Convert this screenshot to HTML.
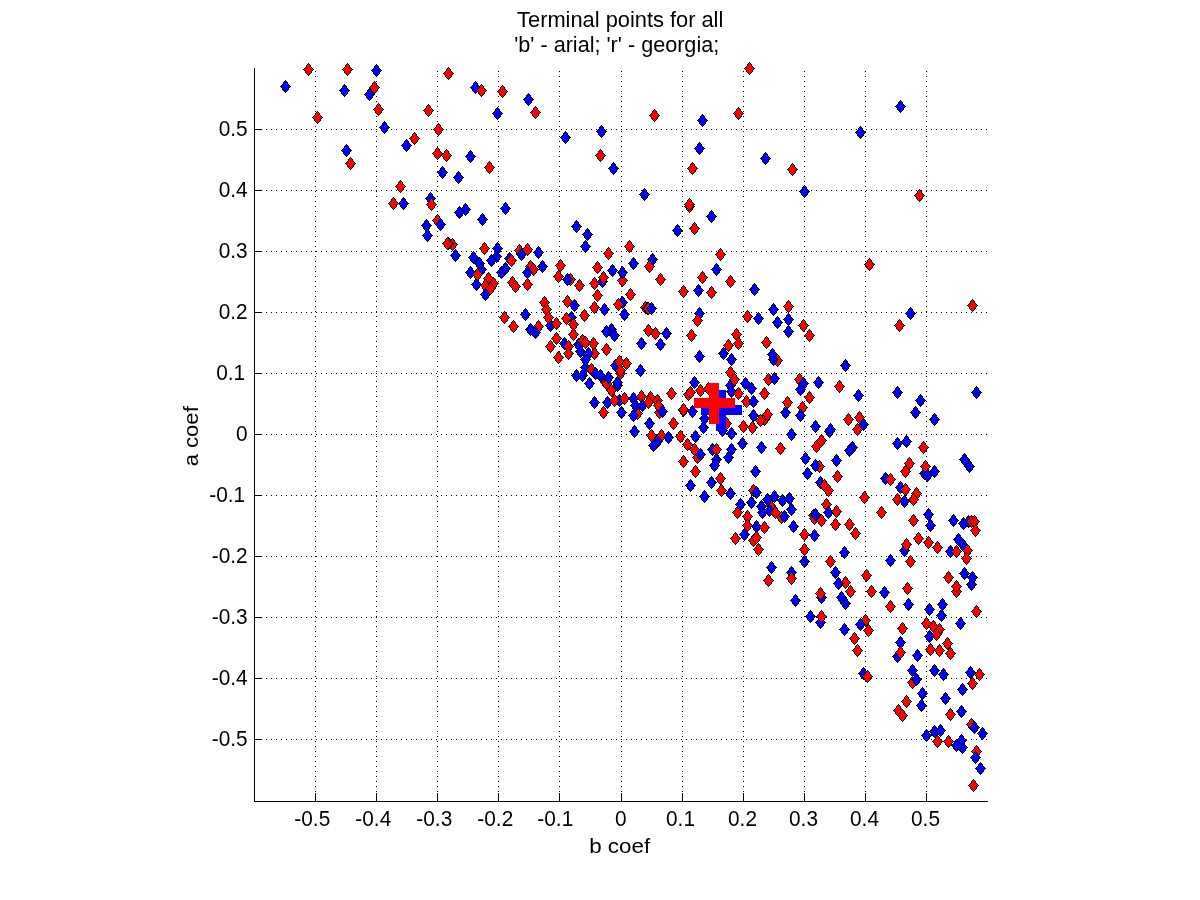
<!DOCTYPE html>
<html lang="en"><head><meta charset="utf-8"><title>Terminal points for all</title>
<style>
html,body{margin:0;padding:0;background:#fff;}
body{width:1200px;height:900px;overflow:hidden;}
svg{display:block;}
text{font-family:"Liberation Sans",Arial,Helvetica,sans-serif;font-size:20.83px;fill:#000;}
.g{stroke:#000;stroke-width:1;stroke-dasharray:1 4;fill:none;}
.a{stroke:#000;stroke-width:1;fill:none;}
.r{fill:#f00;}
.b{fill:#00f;}
</style></head><body>
<svg width="1200" height="900" viewBox="0 0 1200 900">
<rect width="1200" height="900" fill="#fff"/>
<g shape-rendering="crispEdges">
<line class="g" x1="315.5" y1="71" x2="315.5" y2="801"/>
<line class="g" x1="376.5" y1="71" x2="376.5" y2="801"/>
<line class="g" x1="437.5" y1="71" x2="437.5" y2="801"/>
<line class="g" x1="498.5" y1="71" x2="498.5" y2="801"/>
<line class="g" x1="559.5" y1="71" x2="559.5" y2="801"/>
<line class="g" x1="621.5" y1="71" x2="621.5" y2="801"/>
<line class="g" x1="682.5" y1="71" x2="682.5" y2="801"/>
<line class="g" x1="743.5" y1="71" x2="743.5" y2="801"/>
<line class="g" x1="804.5" y1="71" x2="804.5" y2="801"/>
<line class="g" x1="865.5" y1="71" x2="865.5" y2="801"/>
<line class="g" x1="926.5" y1="71" x2="926.5" y2="801"/>
<line class="g" x1="256" y1="739.5" x2="988" y2="739.5"/>
<line class="g" x1="256" y1="678.5" x2="988" y2="678.5"/>
<line class="g" x1="256" y1="617.5" x2="988" y2="617.5"/>
<line class="g" x1="256" y1="556.5" x2="988" y2="556.5"/>
<line class="g" x1="256" y1="495.5" x2="988" y2="495.5"/>
<line class="g" x1="256" y1="434.5" x2="988" y2="434.5"/>
<line class="g" x1="256" y1="373.5" x2="988" y2="373.5"/>
<line class="g" x1="256" y1="312.5" x2="988" y2="312.5"/>
<line class="g" x1="256" y1="251.5" x2="988" y2="251.5"/>
<line class="g" x1="256" y1="190.5" x2="988" y2="190.5"/>
<line class="g" x1="256" y1="129.5" x2="988" y2="129.5"/>
</g>
<g shape-rendering="crispEdges">
<path d="M369 88h1v1h1v1h1v2h1v1h1v1h1v1h-1v1h-1v2h-1v1h-1v1h-1v1h-1v-1h-1v-1h-1v-1h-1v-2h-1v-1h-1v-1h1v-1h1v-1h1v-2h1v-1h1v-1z"/><path class="b" d="M369 89h1v1h1v2h1v1h1v1h1v1h-1v1h-1v2h-1v1h-1v1h-1v-1h-1v-1h-1v-2h-1v-1h-1v-1h1v-1h1v-1h1v-2h1v-1z"/>
<path d="M430 192h1v1h1v1h1v2h1v1h1v1h1v1h-1v1h-1v2h-1v1h-1v1h-1v1h-1v-1h-1v-1h-1v-1h-1v-2h-1v-1h-1v-1h1v-1h1v-1h1v-2h1v-1h1v-1z"/><path class="b" d="M430 193h1v1h1v2h1v1h1v1h1v1h-1v1h-1v2h-1v1h-1v1h-1v-1h-1v-1h-1v-2h-1v-1h-1v-1h1v-1h1v-1h1v-2h1v-1z"/>
<path d="M475 81h1v1h1v1h1v2h1v1h1v1h1v1h-1v1h-1v2h-1v1h-1v1h-1v1h-1v-1h-1v-1h-1v-1h-1v-2h-1v-1h-1v-1h1v-1h1v-1h1v-2h1v-1h1v-1z"/><path class="b" d="M475 82h1v1h1v2h1v1h1v1h1v1h-1v1h-1v2h-1v1h-1v1h-1v-1h-1v-1h-1v-2h-1v-1h-1v-1h1v-1h1v-1h1v-2h1v-1z"/>
<path d="M437 214h1v1h1v1h1v2h1v1h1v1h1v1h-1v1h-1v2h-1v1h-1v1h-1v1h-1v-1h-1v-1h-1v-1h-1v-2h-1v-1h-1v-1h1v-1h1v-1h1v-2h1v-1h1v-1z"/><path class="r" d="M437 215h1v1h1v2h1v1h1v1h1v1h-1v1h-1v2h-1v1h-1v1h-1v-1h-1v-1h-1v-2h-1v-1h-1v-1h1v-1h1v-1h1v-2h1v-1z"/>
<path d="M465 203h1v1h1v1h1v2h1v1h1v1h1v1h-1v1h-1v2h-1v1h-1v1h-1v1h-1v-1h-1v-1h-1v-1h-1v-2h-1v-1h-1v-1h1v-1h1v-1h1v-2h1v-1h1v-1z"/><path class="b" d="M465 204h1v1h1v2h1v1h1v1h1v1h-1v1h-1v2h-1v1h-1v1h-1v-1h-1v-1h-1v-2h-1v-1h-1v-1h1v-1h1v-1h1v-2h1v-1z"/>
<path d="M452 238h1v1h1v1h1v2h1v1h1v1h1v1h-1v1h-1v2h-1v1h-1v1h-1v1h-1v-1h-1v-1h-1v-1h-1v-2h-1v-1h-1v-1h1v-1h1v-1h1v-2h1v-1h1v-1z"/><path class="r" d="M452 239h1v1h1v2h1v1h1v1h1v1h-1v1h-1v2h-1v1h-1v1h-1v-1h-1v-1h-1v-2h-1v-1h-1v-1h1v-1h1v-1h1v-2h1v-1z"/>
<path d="M448 237h1v1h1v1h1v2h1v1h1v1h1v1h-1v1h-1v2h-1v1h-1v1h-1v1h-1v-1h-1v-1h-1v-1h-1v-2h-1v-1h-1v-1h1v-1h1v-1h1v-2h1v-1h1v-1z"/><path class="r" d="M448 238h1v1h1v2h1v1h1v1h1v1h-1v1h-1v2h-1v1h-1v1h-1v-1h-1v-1h-1v-2h-1v-1h-1v-1h1v-1h1v-1h1v-2h1v-1z"/>
<path d="M497 242h1v1h1v1h1v2h1v1h1v1h1v1h-1v1h-1v2h-1v1h-1v1h-1v1h-1v-1h-1v-1h-1v-1h-1v-2h-1v-1h-1v-1h1v-1h1v-1h1v-2h1v-1h1v-1z"/><path class="b" d="M497 243h1v1h1v2h1v1h1v1h1v1h-1v1h-1v2h-1v1h-1v1h-1v-1h-1v-1h-1v-2h-1v-1h-1v-1h1v-1h1v-1h1v-2h1v-1z"/>
<path d="M509 252h1v1h1v1h1v2h1v1h1v1h1v1h-1v1h-1v2h-1v1h-1v1h-1v1h-1v-1h-1v-1h-1v-1h-1v-2h-1v-1h-1v-1h1v-1h1v-1h1v-2h1v-1h1v-1z"/><path class="b" d="M509 253h1v1h1v2h1v1h1v1h1v1h-1v1h-1v2h-1v1h-1v1h-1v-1h-1v-1h-1v-2h-1v-1h-1v-1h1v-1h1v-1h1v-2h1v-1z"/>
<path d="M519 244h1v1h1v1h1v2h1v1h1v1h1v1h-1v1h-1v2h-1v1h-1v1h-1v1h-1v-1h-1v-1h-1v-1h-1v-2h-1v-1h-1v-1h1v-1h1v-1h1v-2h1v-1h1v-1z"/><path class="r" d="M519 245h1v1h1v2h1v1h1v1h1v1h-1v1h-1v2h-1v1h-1v1h-1v-1h-1v-1h-1v-2h-1v-1h-1v-1h1v-1h1v-1h1v-2h1v-1z"/>
<path d="M530 260h1v1h1v1h1v2h1v1h1v1h1v1h-1v1h-1v2h-1v1h-1v1h-1v1h-1v-1h-1v-1h-1v-1h-1v-2h-1v-1h-1v-1h1v-1h1v-1h1v-2h1v-1h1v-1z"/><path class="r" d="M530 261h1v1h1v2h1v1h1v1h1v1h-1v1h-1v2h-1v1h-1v1h-1v-1h-1v-1h-1v-2h-1v-1h-1v-1h1v-1h1v-1h1v-2h1v-1z"/>
<path d="M533 263h1v1h1v1h1v2h1v1h1v1h1v1h-1v1h-1v2h-1v1h-1v1h-1v1h-1v-1h-1v-1h-1v-1h-1v-2h-1v-1h-1v-1h1v-1h1v-1h1v-2h1v-1h1v-1z"/><path class="r" d="M533 264h1v1h1v2h1v1h1v1h1v1h-1v1h-1v2h-1v1h-1v1h-1v-1h-1v-1h-1v-2h-1v-1h-1v-1h1v-1h1v-1h1v-2h1v-1z"/>
<path d="M652 253h1v1h1v1h1v2h1v1h1v1h1v1h-1v1h-1v2h-1v1h-1v1h-1v1h-1v-1h-1v-1h-1v-1h-1v-2h-1v-1h-1v-1h1v-1h1v-1h1v-2h1v-1h1v-1z"/><path class="b" d="M652 254h1v1h1v2h1v1h1v1h1v1h-1v1h-1v2h-1v1h-1v1h-1v-1h-1v-1h-1v-2h-1v-1h-1v-1h1v-1h1v-1h1v-2h1v-1z"/>
<path d="M622 274h1v1h1v1h1v2h1v1h1v1h1v1h-1v1h-1v2h-1v1h-1v1h-1v1h-1v-1h-1v-1h-1v-1h-1v-2h-1v-1h-1v-1h1v-1h1v-1h1v-2h1v-1h1v-1z"/><path class="r" d="M622 275h1v1h1v2h1v1h1v1h1v1h-1v1h-1v2h-1v1h-1v1h-1v-1h-1v-1h-1v-2h-1v-1h-1v-1h1v-1h1v-1h1v-2h1v-1z"/>
<path d="M602 275h1v1h1v1h1v2h1v1h1v1h1v1h-1v1h-1v2h-1v1h-1v1h-1v1h-1v-1h-1v-1h-1v-1h-1v-2h-1v-1h-1v-1h1v-1h1v-1h1v-2h1v-1h1v-1z"/><path class="b" d="M602 276h1v1h1v2h1v1h1v1h1v1h-1v1h-1v2h-1v1h-1v1h-1v-1h-1v-1h-1v-2h-1v-1h-1v-1h1v-1h1v-1h1v-2h1v-1z"/>
<path d="M570 273h1v1h1v1h1v2h1v1h1v1h1v1h-1v1h-1v2h-1v1h-1v1h-1v1h-1v-1h-1v-1h-1v-1h-1v-2h-1v-1h-1v-1h1v-1h1v-1h1v-2h1v-1h1v-1z"/><path class="r" d="M570 274h1v1h1v2h1v1h1v1h1v1h-1v1h-1v2h-1v1h-1v1h-1v-1h-1v-1h-1v-2h-1v-1h-1v-1h1v-1h1v-1h1v-2h1v-1z"/>
<path d="M699 307h1v1h1v1h1v2h1v1h1v1h1v1h-1v1h-1v2h-1v1h-1v1h-1v1h-1v-1h-1v-1h-1v-1h-1v-2h-1v-1h-1v-1h1v-1h1v-1h1v-2h1v-1h1v-1z"/><path class="b" d="M699 308h1v1h1v2h1v1h1v1h1v1h-1v1h-1v2h-1v1h-1v1h-1v-1h-1v-1h-1v-2h-1v-1h-1v-1h1v-1h1v-1h1v-2h1v-1z"/>
<path d="M777 354h1v1h1v1h1v2h1v1h1v1h1v1h-1v1h-1v2h-1v1h-1v1h-1v1h-1v-1h-1v-1h-1v-1h-1v-2h-1v-1h-1v-1h1v-1h1v-1h1v-2h1v-1h1v-1z"/><path class="r" d="M777 355h1v1h1v2h1v1h1v1h1v1h-1v1h-1v2h-1v1h-1v1h-1v-1h-1v-1h-1v-2h-1v-1h-1v-1h1v-1h1v-1h1v-2h1v-1z"/>
<path d="M768 373h1v1h1v1h1v2h1v1h1v1h1v1h-1v1h-1v2h-1v1h-1v1h-1v1h-1v-1h-1v-1h-1v-1h-1v-2h-1v-1h-1v-1h1v-1h1v-1h1v-2h1v-1h1v-1z"/><path class="r" d="M768 374h1v1h1v2h1v1h1v1h1v1h-1v1h-1v2h-1v1h-1v1h-1v-1h-1v-1h-1v-2h-1v-1h-1v-1h1v-1h1v-1h1v-2h1v-1z"/>
<path d="M538 320h1v1h1v1h1v2h1v1h1v1h1v1h-1v1h-1v2h-1v1h-1v1h-1v1h-1v-1h-1v-1h-1v-1h-1v-2h-1v-1h-1v-1h1v-1h1v-1h1v-2h1v-1h1v-1z"/><path class="r" d="M538 321h1v1h1v2h1v1h1v1h1v1h-1v1h-1v2h-1v1h-1v1h-1v-1h-1v-1h-1v-2h-1v-1h-1v-1h1v-1h1v-1h1v-2h1v-1z"/>
<path d="M550 319h1v1h1v1h1v2h1v1h1v1h1v1h-1v1h-1v2h-1v1h-1v1h-1v1h-1v-1h-1v-1h-1v-1h-1v-2h-1v-1h-1v-1h1v-1h1v-1h1v-2h1v-1h1v-1z"/><path class="b" d="M550 320h1v1h1v2h1v1h1v1h1v1h-1v1h-1v2h-1v1h-1v1h-1v-1h-1v-1h-1v-2h-1v-1h-1v-1h1v-1h1v-1h1v-2h1v-1z"/>
<path d="M567 295h1v1h1v1h1v2h1v1h1v1h1v1h-1v1h-1v2h-1v1h-1v1h-1v1h-1v-1h-1v-1h-1v-1h-1v-2h-1v-1h-1v-1h1v-1h1v-1h1v-2h1v-1h1v-1z"/><path class="r" d="M567 296h1v1h1v2h1v1h1v1h1v1h-1v1h-1v2h-1v1h-1v1h-1v-1h-1v-1h-1v-2h-1v-1h-1v-1h1v-1h1v-1h1v-2h1v-1z"/>
<path d="M622 296h1v1h1v1h1v2h1v1h1v1h1v1h-1v1h-1v2h-1v1h-1v1h-1v1h-1v-1h-1v-1h-1v-1h-1v-2h-1v-1h-1v-1h1v-1h1v-1h1v-2h1v-1h1v-1z"/><path class="b" d="M622 297h1v1h1v2h1v1h1v1h1v1h-1v1h-1v2h-1v1h-1v1h-1v-1h-1v-1h-1v-2h-1v-1h-1v-1h1v-1h1v-1h1v-2h1v-1z"/>
<path d="M645 301h1v1h1v1h1v2h1v1h1v1h1v1h-1v1h-1v2h-1v1h-1v1h-1v1h-1v-1h-1v-1h-1v-1h-1v-2h-1v-1h-1v-1h1v-1h1v-1h1v-2h1v-1h1v-1z"/><path class="r" d="M645 302h1v1h1v2h1v1h1v1h1v1h-1v1h-1v2h-1v1h-1v1h-1v-1h-1v-1h-1v-2h-1v-1h-1v-1h1v-1h1v-1h1v-2h1v-1z"/>
<path d="M647 302h1v1h1v1h1v2h1v1h1v1h1v1h-1v1h-1v2h-1v1h-1v1h-1v1h-1v-1h-1v-1h-1v-1h-1v-2h-1v-1h-1v-1h1v-1h1v-1h1v-2h1v-1h1v-1z"/><path class="r" d="M647 303h1v1h1v2h1v1h1v1h1v1h-1v1h-1v2h-1v1h-1v1h-1v-1h-1v-1h-1v-2h-1v-1h-1v-1h1v-1h1v-1h1v-2h1v-1z"/>
<path d="M648 302h1v1h1v1h1v2h1v1h1v1h1v1h-1v1h-1v2h-1v1h-1v1h-1v1h-1v-1h-1v-1h-1v-1h-1v-2h-1v-1h-1v-1h1v-1h1v-1h1v-2h1v-1h1v-1z"/><path class="r" d="M648 303h1v1h1v2h1v1h1v1h1v1h-1v1h-1v2h-1v1h-1v1h-1v-1h-1v-1h-1v-2h-1v-1h-1v-1h1v-1h1v-1h1v-2h1v-1z"/>
<path d="M571 311h1v1h1v1h1v2h1v1h1v1h1v1h-1v1h-1v2h-1v1h-1v1h-1v1h-1v-1h-1v-1h-1v-1h-1v-2h-1v-1h-1v-1h1v-1h1v-1h1v-2h1v-1h1v-1z"/><path class="b" d="M571 312h1v1h1v2h1v1h1v1h1v1h-1v1h-1v2h-1v1h-1v1h-1v-1h-1v-1h-1v-2h-1v-1h-1v-1h1v-1h1v-1h1v-2h1v-1z"/>
<path d="M611 323h1v1h1v1h1v2h1v1h1v1h1v1h-1v1h-1v2h-1v1h-1v1h-1v1h-1v-1h-1v-1h-1v-1h-1v-2h-1v-1h-1v-1h1v-1h1v-1h1v-2h1v-1h1v-1z"/><path class="b" d="M611 324h1v1h1v2h1v1h1v1h1v1h-1v1h-1v2h-1v1h-1v1h-1v-1h-1v-1h-1v-2h-1v-1h-1v-1h1v-1h1v-1h1v-2h1v-1z"/>
<path d="M564 337h1v1h1v1h1v2h1v1h1v1h1v1h-1v1h-1v2h-1v1h-1v1h-1v1h-1v-1h-1v-1h-1v-1h-1v-2h-1v-1h-1v-1h1v-1h1v-1h1v-2h1v-1h1v-1z"/><path class="b" d="M564 338h1v1h1v2h1v1h1v1h1v1h-1v1h-1v2h-1v1h-1v1h-1v-1h-1v-1h-1v-2h-1v-1h-1v-1h1v-1h1v-1h1v-2h1v-1z"/>
<path d="M578 338h1v1h1v1h1v2h1v1h1v1h1v1h-1v1h-1v2h-1v1h-1v1h-1v1h-1v-1h-1v-1h-1v-1h-1v-2h-1v-1h-1v-1h1v-1h1v-1h1v-2h1v-1h1v-1z"/><path class="b" d="M578 339h1v1h1v2h1v1h1v1h1v1h-1v1h-1v2h-1v1h-1v1h-1v-1h-1v-1h-1v-2h-1v-1h-1v-1h1v-1h1v-1h1v-2h1v-1z"/>
<path d="M594 347h1v1h1v1h1v2h1v1h1v1h1v1h-1v1h-1v2h-1v1h-1v1h-1v1h-1v-1h-1v-1h-1v-1h-1v-2h-1v-1h-1v-1h1v-1h1v-1h1v-2h1v-1h1v-1z"/><path class="r" d="M594 348h1v1h1v2h1v1h1v1h1v1h-1v1h-1v2h-1v1h-1v1h-1v-1h-1v-1h-1v-2h-1v-1h-1v-1h1v-1h1v-1h1v-2h1v-1z"/>
<path d="M615 359h1v1h1v1h1v2h1v1h1v1h1v1h-1v1h-1v2h-1v1h-1v1h-1v1h-1v-1h-1v-1h-1v-1h-1v-2h-1v-1h-1v-1h1v-1h1v-1h1v-2h1v-1h1v-1z"/><path class="b" d="M615 360h1v1h1v2h1v1h1v1h1v1h-1v1h-1v2h-1v1h-1v1h-1v-1h-1v-1h-1v-2h-1v-1h-1v-1h1v-1h1v-1h1v-2h1v-1z"/>
<path d="M620 367h1v1h1v1h1v2h1v1h1v1h1v1h-1v1h-1v2h-1v1h-1v1h-1v1h-1v-1h-1v-1h-1v-1h-1v-2h-1v-1h-1v-1h1v-1h1v-1h1v-2h1v-1h1v-1z"/><path class="r" d="M620 368h1v1h1v2h1v1h1v1h1v1h-1v1h-1v2h-1v1h-1v1h-1v-1h-1v-1h-1v-2h-1v-1h-1v-1h1v-1h1v-1h1v-2h1v-1z"/>
<path d="M617 379h1v1h1v1h1v2h1v1h1v1h1v1h-1v1h-1v2h-1v1h-1v1h-1v1h-1v-1h-1v-1h-1v-1h-1v-2h-1v-1h-1v-1h1v-1h1v-1h1v-2h1v-1h1v-1z"/><path class="b" d="M617 380h1v1h1v2h1v1h1v1h1v1h-1v1h-1v2h-1v1h-1v1h-1v-1h-1v-1h-1v-2h-1v-1h-1v-1h1v-1h1v-1h1v-2h1v-1z"/>
<path d="M605 376h1v1h1v1h1v2h1v1h1v1h1v1h-1v1h-1v2h-1v1h-1v1h-1v1h-1v-1h-1v-1h-1v-1h-1v-2h-1v-1h-1v-1h1v-1h1v-1h1v-2h1v-1h1v-1z"/><path class="r" d="M605 377h1v1h1v2h1v1h1v1h1v1h-1v1h-1v2h-1v1h-1v1h-1v-1h-1v-1h-1v-2h-1v-1h-1v-1h1v-1h1v-1h1v-2h1v-1z"/>
<path d="M606 377h1v1h1v1h1v2h1v1h1v1h1v1h-1v1h-1v2h-1v1h-1v1h-1v1h-1v-1h-1v-1h-1v-1h-1v-2h-1v-1h-1v-1h1v-1h1v-1h1v-2h1v-1h1v-1z"/><path class="r" d="M606 378h1v1h1v2h1v1h1v1h1v1h-1v1h-1v2h-1v1h-1v1h-1v-1h-1v-1h-1v-2h-1v-1h-1v-1h1v-1h1v-1h1v-2h1v-1z"/>
<path d="M607 396h1v1h1v1h1v2h1v1h1v1h1v1h-1v1h-1v2h-1v1h-1v1h-1v1h-1v-1h-1v-1h-1v-1h-1v-2h-1v-1h-1v-1h1v-1h1v-1h1v-2h1v-1h1v-1z"/><path class="b" d="M607 397h1v1h1v2h1v1h1v1h1v1h-1v1h-1v2h-1v1h-1v1h-1v-1h-1v-1h-1v-2h-1v-1h-1v-1h1v-1h1v-1h1v-2h1v-1z"/>
<path d="M619 394h1v1h1v1h1v2h1v1h1v1h1v1h-1v1h-1v2h-1v1h-1v1h-1v1h-1v-1h-1v-1h-1v-1h-1v-2h-1v-1h-1v-1h1v-1h1v-1h1v-2h1v-1h1v-1z"/><path class="b" d="M619 395h1v1h1v2h1v1h1v1h1v1h-1v1h-1v2h-1v1h-1v1h-1v-1h-1v-1h-1v-2h-1v-1h-1v-1h1v-1h1v-1h1v-2h1v-1z"/>
<path d="M659 406h1v1h1v1h1v2h1v1h1v1h1v1h-1v1h-1v2h-1v1h-1v1h-1v1h-1v-1h-1v-1h-1v-1h-1v-2h-1v-1h-1v-1h1v-1h1v-1h1v-2h1v-1h1v-1z"/><path class="r" d="M659 407h1v1h1v2h1v1h1v1h1v1h-1v1h-1v2h-1v1h-1v1h-1v-1h-1v-1h-1v-2h-1v-1h-1v-1h1v-1h1v-1h1v-2h1v-1z"/>
<path d="M637 407h1v1h1v1h1v2h1v1h1v1h1v1h-1v1h-1v2h-1v1h-1v1h-1v1h-1v-1h-1v-1h-1v-1h-1v-2h-1v-1h-1v-1h1v-1h1v-1h1v-2h1v-1h1v-1z"/><path class="r" d="M637 408h1v1h1v2h1v1h1v1h1v1h-1v1h-1v2h-1v1h-1v1h-1v-1h-1v-1h-1v-2h-1v-1h-1v-1h1v-1h1v-1h1v-2h1v-1z"/>
<path d="M683 404h1v1h1v1h1v2h1v1h1v1h1v1h-1v1h-1v2h-1v1h-1v1h-1v1h-1v-1h-1v-1h-1v-1h-1v-2h-1v-1h-1v-1h1v-1h1v-1h1v-2h1v-1h1v-1z"/><path class="r" d="M683 405h1v1h1v2h1v1h1v1h1v1h-1v1h-1v2h-1v1h-1v1h-1v-1h-1v-1h-1v-2h-1v-1h-1v-1h1v-1h1v-1h1v-2h1v-1z"/>
<path d="M697 451h1v1h1v1h1v2h1v1h1v1h1v1h-1v1h-1v2h-1v1h-1v1h-1v1h-1v-1h-1v-1h-1v-1h-1v-2h-1v-1h-1v-1h1v-1h1v-1h1v-2h1v-1h1v-1z"/><path class="r" d="M697 452h1v1h1v2h1v1h1v1h1v1h-1v1h-1v2h-1v1h-1v1h-1v-1h-1v-1h-1v-2h-1v-1h-1v-1h1v-1h1v-1h1v-2h1v-1z"/>
<path d="M712 443h1v1h1v1h1v2h1v1h1v1h1v1h-1v1h-1v2h-1v1h-1v1h-1v1h-1v-1h-1v-1h-1v-1h-1v-2h-1v-1h-1v-1h1v-1h1v-1h1v-2h1v-1h1v-1z"/><path class="b" d="M712 444h1v1h1v2h1v1h1v1h1v1h-1v1h-1v2h-1v1h-1v1h-1v-1h-1v-1h-1v-2h-1v-1h-1v-1h1v-1h1v-1h1v-2h1v-1z"/>
<path d="M730 379h1v1h1v1h1v2h1v1h1v1h1v1h-1v1h-1v2h-1v1h-1v1h-1v1h-1v-1h-1v-1h-1v-1h-1v-2h-1v-1h-1v-1h1v-1h1v-1h1v-2h1v-1h1v-1z"/><path class="b" d="M730 380h1v1h1v2h1v1h1v1h1v1h-1v1h-1v2h-1v1h-1v1h-1v-1h-1v-1h-1v-2h-1v-1h-1v-1h1v-1h1v-1h1v-2h1v-1z"/>
<path d="M802 401h1v1h1v1h1v2h1v1h1v1h1v1h-1v1h-1v2h-1v1h-1v1h-1v1h-1v-1h-1v-1h-1v-1h-1v-2h-1v-1h-1v-1h1v-1h1v-1h1v-2h1v-1h1v-1z"/><path class="r" d="M802 402h1v1h1v2h1v1h1v1h1v1h-1v1h-1v2h-1v1h-1v1h-1v-1h-1v-1h-1v-2h-1v-1h-1v-1h1v-1h1v-1h1v-2h1v-1z"/>
<path d="M764 413h1v1h1v1h1v2h1v1h1v1h1v1h-1v1h-1v2h-1v1h-1v1h-1v1h-1v-1h-1v-1h-1v-1h-1v-2h-1v-1h-1v-1h1v-1h1v-1h1v-2h1v-1h1v-1z"/><path class="r" d="M764 414h1v1h1v2h1v1h1v1h1v1h-1v1h-1v2h-1v1h-1v1h-1v-1h-1v-1h-1v-2h-1v-1h-1v-1h1v-1h1v-1h1v-2h1v-1z"/>
<path d="M760 414h1v1h1v1h1v2h1v1h1v1h1v1h-1v1h-1v2h-1v1h-1v1h-1v1h-1v-1h-1v-1h-1v-1h-1v-2h-1v-1h-1v-1h1v-1h1v-1h1v-2h1v-1h1v-1z"/><path class="r" d="M760 415h1v1h1v2h1v1h1v1h1v1h-1v1h-1v2h-1v1h-1v1h-1v-1h-1v-1h-1v-2h-1v-1h-1v-1h1v-1h1v-1h1v-2h1v-1z"/>
<path d="M857 423h1v1h1v1h1v2h1v1h1v1h1v1h-1v1h-1v2h-1v1h-1v1h-1v1h-1v-1h-1v-1h-1v-1h-1v-2h-1v-1h-1v-1h1v-1h1v-1h1v-2h1v-1h1v-1z"/><path class="r" d="M857 424h1v1h1v2h1v1h1v1h1v1h-1v1h-1v2h-1v1h-1v1h-1v-1h-1v-1h-1v-2h-1v-1h-1v-1h1v-1h1v-1h1v-2h1v-1z"/>
<path d="M829 425h1v1h1v1h1v2h1v1h1v1h1v1h-1v1h-1v2h-1v1h-1v1h-1v1h-1v-1h-1v-1h-1v-1h-1v-2h-1v-1h-1v-1h1v-1h1v-1h1v-2h1v-1h1v-1z"/><path class="b" d="M829 426h1v1h1v2h1v1h1v1h1v1h-1v1h-1v2h-1v1h-1v1h-1v-1h-1v-1h-1v-2h-1v-1h-1v-1h1v-1h1v-1h1v-2h1v-1z"/>
<path d="M819 460h1v1h1v1h1v2h1v1h1v1h1v1h-1v1h-1v2h-1v1h-1v1h-1v1h-1v-1h-1v-1h-1v-1h-1v-2h-1v-1h-1v-1h1v-1h1v-1h1v-2h1v-1h1v-1z"/><path class="r" d="M819 461h1v1h1v2h1v1h1v1h1v1h-1v1h-1v2h-1v1h-1v1h-1v-1h-1v-1h-1v-2h-1v-1h-1v-1h1v-1h1v-1h1v-2h1v-1z"/>
<path d="M737 506h1v1h1v1h1v2h1v1h1v1h1v1h-1v1h-1v2h-1v1h-1v1h-1v1h-1v-1h-1v-1h-1v-1h-1v-2h-1v-1h-1v-1h1v-1h1v-1h1v-2h1v-1h1v-1z"/><path class="r" d="M737 507h1v1h1v2h1v1h1v1h1v1h-1v1h-1v2h-1v1h-1v1h-1v-1h-1v-1h-1v-2h-1v-1h-1v-1h1v-1h1v-1h1v-2h1v-1z"/>
<path d="M753 484h1v1h1v1h1v2h1v1h1v1h1v1h-1v1h-1v2h-1v1h-1v1h-1v1h-1v-1h-1v-1h-1v-1h-1v-2h-1v-1h-1v-1h1v-1h1v-1h1v-2h1v-1h1v-1z"/><path class="r" d="M753 485h1v1h1v2h1v1h1v1h1v1h-1v1h-1v2h-1v1h-1v1h-1v-1h-1v-1h-1v-2h-1v-1h-1v-1h1v-1h1v-1h1v-2h1v-1z"/>
<path d="M770 499h1v1h1v1h1v2h1v1h1v1h1v1h-1v1h-1v2h-1v1h-1v1h-1v1h-1v-1h-1v-1h-1v-1h-1v-2h-1v-1h-1v-1h1v-1h1v-1h1v-2h1v-1h1v-1z"/><path class="r" d="M770 500h1v1h1v2h1v1h1v1h1v1h-1v1h-1v2h-1v1h-1v1h-1v-1h-1v-1h-1v-2h-1v-1h-1v-1h1v-1h1v-1h1v-2h1v-1z"/>
<path d="M753 534h1v1h1v1h1v2h1v1h1v1h1v1h-1v1h-1v2h-1v1h-1v1h-1v1h-1v-1h-1v-1h-1v-1h-1v-2h-1v-1h-1v-1h1v-1h1v-1h1v-2h1v-1h1v-1z"/><path class="r" d="M753 535h1v1h1v2h1v1h1v1h1v1h-1v1h-1v2h-1v1h-1v1h-1v-1h-1v-1h-1v-2h-1v-1h-1v-1h1v-1h1v-1h1v-2h1v-1z"/>
<path d="M820 476h1v1h1v1h1v2h1v1h1v1h1v1h-1v1h-1v2h-1v1h-1v1h-1v1h-1v-1h-1v-1h-1v-1h-1v-2h-1v-1h-1v-1h1v-1h1v-1h1v-2h1v-1h1v-1z"/><path class="b" d="M820 477h1v1h1v2h1v1h1v1h1v1h-1v1h-1v2h-1v1h-1v1h-1v-1h-1v-1h-1v-2h-1v-1h-1v-1h1v-1h1v-1h1v-2h1v-1z"/>
<path d="M885 472h1v1h1v1h1v2h1v1h1v1h1v1h-1v1h-1v2h-1v1h-1v1h-1v1h-1v-1h-1v-1h-1v-1h-1v-2h-1v-1h-1v-1h1v-1h1v-1h1v-2h1v-1h1v-1z"/><path class="b" d="M885 473h1v1h1v2h1v1h1v1h1v1h-1v1h-1v2h-1v1h-1v1h-1v-1h-1v-1h-1v-2h-1v-1h-1v-1h1v-1h1v-1h1v-2h1v-1z"/>
<path d="M781 511h1v1h1v1h1v2h1v1h1v1h1v1h-1v1h-1v2h-1v1h-1v1h-1v1h-1v-1h-1v-1h-1v-1h-1v-2h-1v-1h-1v-1h1v-1h1v-1h1v-2h1v-1h1v-1z"/><path class="r" d="M781 512h1v1h1v2h1v1h1v1h1v1h-1v1h-1v2h-1v1h-1v1h-1v-1h-1v-1h-1v-2h-1v-1h-1v-1h1v-1h1v-1h1v-2h1v-1z"/>
<path d="M826 498h1v1h1v1h1v2h1v1h1v1h1v1h-1v1h-1v2h-1v1h-1v1h-1v1h-1v-1h-1v-1h-1v-1h-1v-2h-1v-1h-1v-1h1v-1h1v-1h1v-2h1v-1h1v-1z"/><path class="r" d="M826 499h1v1h1v2h1v1h1v1h1v1h-1v1h-1v2h-1v1h-1v1h-1v-1h-1v-1h-1v-2h-1v-1h-1v-1h1v-1h1v-1h1v-2h1v-1z"/>
<path d="M813 509h1v1h1v1h1v2h1v1h1v1h1v1h-1v1h-1v2h-1v1h-1v1h-1v1h-1v-1h-1v-1h-1v-1h-1v-2h-1v-1h-1v-1h1v-1h1v-1h1v-2h1v-1h1v-1z"/><path class="r" d="M813 510h1v1h1v2h1v1h1v1h1v1h-1v1h-1v2h-1v1h-1v1h-1v-1h-1v-1h-1v-2h-1v-1h-1v-1h1v-1h1v-1h1v-2h1v-1z"/>
<path d="M814 512h1v1h1v1h1v2h1v1h1v1h1v1h-1v1h-1v2h-1v1h-1v1h-1v1h-1v-1h-1v-1h-1v-1h-1v-2h-1v-1h-1v-1h1v-1h1v-1h1v-2h1v-1h1v-1z"/><path class="r" d="M814 513h1v1h1v2h1v1h1v1h1v1h-1v1h-1v2h-1v1h-1v1h-1v-1h-1v-1h-1v-2h-1v-1h-1v-1h1v-1h1v-1h1v-2h1v-1z"/>
<path d="M924 467h1v1h1v1h1v2h1v1h1v1h1v1h-1v1h-1v2h-1v1h-1v1h-1v1h-1v-1h-1v-1h-1v-1h-1v-2h-1v-1h-1v-1h1v-1h1v-1h1v-2h1v-1h1v-1z"/><path class="b" d="M924 468h1v1h1v2h1v1h1v1h1v1h-1v1h-1v2h-1v1h-1v1h-1v-1h-1v-1h-1v-2h-1v-1h-1v-1h1v-1h1v-1h1v-2h1v-1z"/>
<path d="M900 481h1v1h1v1h1v2h1v1h1v1h1v1h-1v1h-1v2h-1v1h-1v1h-1v1h-1v-1h-1v-1h-1v-1h-1v-2h-1v-1h-1v-1h1v-1h1v-1h1v-2h1v-1h1v-1z"/><path class="b" d="M900 482h1v1h1v2h1v1h1v1h1v1h-1v1h-1v2h-1v1h-1v1h-1v-1h-1v-1h-1v-2h-1v-1h-1v-1h1v-1h1v-1h1v-2h1v-1z"/>
<path d="M968 515h1v1h1v1h1v2h1v1h1v1h1v1h-1v1h-1v2h-1v1h-1v1h-1v1h-1v-1h-1v-1h-1v-1h-1v-2h-1v-1h-1v-1h1v-1h1v-1h1v-2h1v-1h1v-1z"/><path class="b" d="M968 516h1v1h1v2h1v1h1v1h1v1h-1v1h-1v2h-1v1h-1v1h-1v-1h-1v-1h-1v-2h-1v-1h-1v-1h1v-1h1v-1h1v-2h1v-1z"/>
<path d="M904 544h1v1h1v1h1v2h1v1h1v1h1v1h-1v1h-1v2h-1v1h-1v1h-1v1h-1v-1h-1v-1h-1v-1h-1v-2h-1v-1h-1v-1h1v-1h1v-1h1v-2h1v-1h1v-1z"/><path class="b" d="M904 545h1v1h1v2h1v1h1v1h1v1h-1v1h-1v2h-1v1h-1v1h-1v-1h-1v-1h-1v-2h-1v-1h-1v-1h1v-1h1v-1h1v-2h1v-1z"/>
<path d="M950 545h1v1h1v1h1v2h1v1h1v1h1v1h-1v1h-1v2h-1v1h-1v1h-1v1h-1v-1h-1v-1h-1v-1h-1v-2h-1v-1h-1v-1h1v-1h1v-1h1v-2h1v-1h1v-1z"/><path class="b" d="M950 546h1v1h1v2h1v1h1v1h1v1h-1v1h-1v2h-1v1h-1v1h-1v-1h-1v-1h-1v-2h-1v-1h-1v-1h1v-1h1v-1h1v-2h1v-1z"/>
<path d="M791 566h1v1h1v1h1v2h1v1h1v1h1v1h-1v1h-1v2h-1v1h-1v1h-1v1h-1v-1h-1v-1h-1v-1h-1v-2h-1v-1h-1v-1h1v-1h1v-1h1v-2h1v-1h1v-1z"/><path class="b" d="M791 567h1v1h1v2h1v1h1v1h1v1h-1v1h-1v2h-1v1h-1v1h-1v-1h-1v-1h-1v-2h-1v-1h-1v-1h1v-1h1v-1h1v-2h1v-1z"/>
<path d="M845 576h1v1h1v1h1v2h1v1h1v1h1v1h-1v1h-1v2h-1v1h-1v1h-1v1h-1v-1h-1v-1h-1v-1h-1v-2h-1v-1h-1v-1h1v-1h1v-1h1v-2h1v-1h1v-1z"/><path class="r" d="M845 577h1v1h1v2h1v1h1v1h1v1h-1v1h-1v2h-1v1h-1v1h-1v-1h-1v-1h-1v-2h-1v-1h-1v-1h1v-1h1v-1h1v-2h1v-1z"/>
<path d="M821 591h1v1h1v1h1v2h1v1h1v1h1v1h-1v1h-1v2h-1v1h-1v1h-1v1h-1v-1h-1v-1h-1v-1h-1v-2h-1v-1h-1v-1h1v-1h1v-1h1v-2h1v-1h1v-1z"/><path class="b" d="M821 592h1v1h1v2h1v1h1v1h1v1h-1v1h-1v2h-1v1h-1v1h-1v-1h-1v-1h-1v-2h-1v-1h-1v-1h1v-1h1v-1h1v-2h1v-1z"/>
<path d="M820 616h1v1h1v1h1v2h1v1h1v1h1v1h-1v1h-1v2h-1v1h-1v1h-1v1h-1v-1h-1v-1h-1v-1h-1v-2h-1v-1h-1v-1h1v-1h1v-1h1v-2h1v-1h1v-1z"/><path class="b" d="M820 617h1v1h1v2h1v1h1v1h1v1h-1v1h-1v2h-1v1h-1v1h-1v-1h-1v-1h-1v-2h-1v-1h-1v-1h1v-1h1v-1h1v-2h1v-1z"/>
<path d="M971 578h1v1h1v1h1v2h1v1h1v1h1v1h-1v1h-1v2h-1v1h-1v1h-1v1h-1v-1h-1v-1h-1v-1h-1v-2h-1v-1h-1v-1h1v-1h1v-1h1v-2h1v-1h1v-1z"/><path class="b" d="M971 579h1v1h1v2h1v1h1v1h1v1h-1v1h-1v2h-1v1h-1v1h-1v-1h-1v-1h-1v-2h-1v-1h-1v-1h1v-1h1v-1h1v-2h1v-1z"/>
<path d="M956 585h1v1h1v1h1v2h1v1h1v1h1v1h-1v1h-1v2h-1v1h-1v1h-1v1h-1v-1h-1v-1h-1v-1h-1v-2h-1v-1h-1v-1h1v-1h1v-1h1v-2h1v-1h1v-1z"/><path class="r" d="M956 586h1v1h1v2h1v1h1v1h1v1h-1v1h-1v2h-1v1h-1v1h-1v-1h-1v-1h-1v-2h-1v-1h-1v-1h1v-1h1v-1h1v-2h1v-1z"/>
<path d="M939 623h1v1h1v1h1v2h1v1h1v1h1v1h-1v1h-1v2h-1v1h-1v1h-1v1h-1v-1h-1v-1h-1v-1h-1v-2h-1v-1h-1v-1h1v-1h1v-1h1v-2h1v-1h1v-1z"/><path class="r" d="M939 624h1v1h1v2h1v1h1v1h1v1h-1v1h-1v2h-1v1h-1v1h-1v-1h-1v-1h-1v-2h-1v-1h-1v-1h1v-1h1v-1h1v-2h1v-1z"/>
<path d="M863 667h1v1h1v1h1v2h1v1h1v1h1v1h-1v1h-1v2h-1v1h-1v1h-1v1h-1v-1h-1v-1h-1v-1h-1v-2h-1v-1h-1v-1h1v-1h1v-1h1v-2h1v-1h1v-1z"/><path class="b" d="M863 668h1v1h1v2h1v1h1v1h1v1h-1v1h-1v2h-1v1h-1v1h-1v-1h-1v-1h-1v-2h-1v-1h-1v-1h1v-1h1v-1h1v-2h1v-1z"/>
<path d="M897 650h1v1h1v1h1v2h1v1h1v1h1v1h-1v1h-1v2h-1v1h-1v1h-1v1h-1v-1h-1v-1h-1v-1h-1v-2h-1v-1h-1v-1h1v-1h1v-1h1v-2h1v-1h1v-1z"/><path class="b" d="M897 651h1v1h1v2h1v1h1v1h1v1h-1v1h-1v2h-1v1h-1v1h-1v-1h-1v-1h-1v-2h-1v-1h-1v-1h1v-1h1v-1h1v-2h1v-1z"/>
<path d="M912 676h1v1h1v1h1v2h1v1h1v1h1v1h-1v1h-1v2h-1v1h-1v1h-1v1h-1v-1h-1v-1h-1v-1h-1v-2h-1v-1h-1v-1h1v-1h1v-1h1v-2h1v-1h1v-1z"/><path class="r" d="M912 677h1v1h1v2h1v1h1v1h1v1h-1v1h-1v2h-1v1h-1v1h-1v-1h-1v-1h-1v-2h-1v-1h-1v-1h1v-1h1v-1h1v-2h1v-1z"/>
<path d="M971 718h1v1h1v1h1v2h1v1h1v1h1v1h-1v1h-1v2h-1v1h-1v1h-1v1h-1v-1h-1v-1h-1v-1h-1v-2h-1v-1h-1v-1h1v-1h1v-1h1v-2h1v-1h1v-1z"/><path class="r" d="M971 719h1v1h1v2h1v1h1v1h1v1h-1v1h-1v2h-1v1h-1v1h-1v-1h-1v-1h-1v-2h-1v-1h-1v-1h1v-1h1v-1h1v-2h1v-1z"/>
<path d="M962 741h1v1h1v1h1v2h1v1h1v1h1v1h-1v1h-1v2h-1v1h-1v1h-1v1h-1v-1h-1v-1h-1v-1h-1v-2h-1v-1h-1v-1h1v-1h1v-1h1v-2h1v-1h1v-1z"/><path class="b" d="M962 742h1v1h1v2h1v1h1v1h1v1h-1v1h-1v2h-1v1h-1v1h-1v-1h-1v-1h-1v-2h-1v-1h-1v-1h1v-1h1v-1h1v-2h1v-1z"/>
<path d="M976 745h1v1h1v1h1v2h1v1h1v1h1v1h-1v1h-1v2h-1v1h-1v1h-1v1h-1v-1h-1v-1h-1v-1h-1v-2h-1v-1h-1v-1h1v-1h1v-1h1v-2h1v-1h1v-1z"/><path class="r" d="M976 746h1v1h1v2h1v1h1v1h1v1h-1v1h-1v2h-1v1h-1v1h-1v-1h-1v-1h-1v-2h-1v-1h-1v-1h1v-1h1v-1h1v-2h1v-1z"/>
<path d="M308 63h1v1h1v1h1v2h1v1h1v1h1v1h-1v1h-1v2h-1v1h-1v1h-1v1h-1v-1h-1v-1h-1v-1h-1v-2h-1v-1h-1v-1h1v-1h1v-1h1v-2h1v-1h1v-1z"/><path class="r" d="M308 64h1v1h1v2h1v1h1v1h1v1h-1v1h-1v2h-1v1h-1v1h-1v-1h-1v-1h-1v-2h-1v-1h-1v-1h1v-1h1v-1h1v-2h1v-1z"/>
<path d="M347 63h1v1h1v1h1v2h1v1h1v1h1v1h-1v1h-1v2h-1v1h-1v1h-1v1h-1v-1h-1v-1h-1v-1h-1v-2h-1v-1h-1v-1h1v-1h1v-1h1v-2h1v-1h1v-1z"/><path class="r" d="M347 64h1v1h1v2h1v1h1v1h1v1h-1v1h-1v2h-1v1h-1v1h-1v-1h-1v-1h-1v-2h-1v-1h-1v-1h1v-1h1v-1h1v-2h1v-1z"/>
<path d="M376 64h1v1h1v1h1v2h1v1h1v1h1v1h-1v1h-1v2h-1v1h-1v1h-1v1h-1v-1h-1v-1h-1v-1h-1v-2h-1v-1h-1v-1h1v-1h1v-1h1v-2h1v-1h1v-1z"/><path class="b" d="M376 65h1v1h1v2h1v1h1v1h1v1h-1v1h-1v2h-1v1h-1v1h-1v-1h-1v-1h-1v-2h-1v-1h-1v-1h1v-1h1v-1h1v-2h1v-1z"/>
<path d="M448 67h1v1h1v1h1v2h1v1h1v1h1v1h-1v1h-1v2h-1v1h-1v1h-1v1h-1v-1h-1v-1h-1v-1h-1v-2h-1v-1h-1v-1h1v-1h1v-1h1v-2h1v-1h1v-1z"/><path class="r" d="M448 68h1v1h1v2h1v1h1v1h1v1h-1v1h-1v2h-1v1h-1v1h-1v-1h-1v-1h-1v-2h-1v-1h-1v-1h1v-1h1v-1h1v-2h1v-1z"/>
<path d="M285 80h1v1h1v1h1v2h1v1h1v1h1v1h-1v1h-1v2h-1v1h-1v1h-1v1h-1v-1h-1v-1h-1v-1h-1v-2h-1v-1h-1v-1h1v-1h1v-1h1v-2h1v-1h1v-1z"/><path class="b" d="M285 81h1v1h1v2h1v1h1v1h1v1h-1v1h-1v2h-1v1h-1v1h-1v-1h-1v-1h-1v-2h-1v-1h-1v-1h1v-1h1v-1h1v-2h1v-1z"/>
<path d="M344 84h1v1h1v1h1v2h1v1h1v1h1v1h-1v1h-1v2h-1v1h-1v1h-1v1h-1v-1h-1v-1h-1v-1h-1v-2h-1v-1h-1v-1h1v-1h1v-1h1v-2h1v-1h1v-1z"/><path class="b" d="M344 85h1v1h1v2h1v1h1v1h1v1h-1v1h-1v2h-1v1h-1v1h-1v-1h-1v-1h-1v-2h-1v-1h-1v-1h1v-1h1v-1h1v-2h1v-1z"/>
<path d="M374 81h1v1h1v1h1v2h1v1h1v1h1v1h-1v1h-1v2h-1v1h-1v1h-1v1h-1v-1h-1v-1h-1v-1h-1v-2h-1v-1h-1v-1h1v-1h1v-1h1v-2h1v-1h1v-1z"/><path class="r" d="M374 82h1v1h1v2h1v1h1v1h1v1h-1v1h-1v2h-1v1h-1v1h-1v-1h-1v-1h-1v-2h-1v-1h-1v-1h1v-1h1v-1h1v-2h1v-1z"/>
<path d="M378 103h1v1h1v1h1v2h1v1h1v1h1v1h-1v1h-1v2h-1v1h-1v1h-1v1h-1v-1h-1v-1h-1v-1h-1v-2h-1v-1h-1v-1h1v-1h1v-1h1v-2h1v-1h1v-1z"/><path class="r" d="M378 104h1v1h1v2h1v1h1v1h1v1h-1v1h-1v2h-1v1h-1v1h-1v-1h-1v-1h-1v-2h-1v-1h-1v-1h1v-1h1v-1h1v-2h1v-1z"/>
<path d="M428 104h1v1h1v1h1v2h1v1h1v1h1v1h-1v1h-1v2h-1v1h-1v1h-1v1h-1v-1h-1v-1h-1v-1h-1v-2h-1v-1h-1v-1h1v-1h1v-1h1v-2h1v-1h1v-1z"/><path class="r" d="M428 105h1v1h1v2h1v1h1v1h1v1h-1v1h-1v2h-1v1h-1v1h-1v-1h-1v-1h-1v-2h-1v-1h-1v-1h1v-1h1v-1h1v-2h1v-1z"/>
<path d="M317 111h1v1h1v1h1v2h1v1h1v1h1v1h-1v1h-1v2h-1v1h-1v1h-1v1h-1v-1h-1v-1h-1v-1h-1v-2h-1v-1h-1v-1h1v-1h1v-1h1v-2h1v-1h1v-1z"/><path class="r" d="M317 112h1v1h1v2h1v1h1v1h1v1h-1v1h-1v2h-1v1h-1v1h-1v-1h-1v-1h-1v-2h-1v-1h-1v-1h1v-1h1v-1h1v-2h1v-1z"/>
<path d="M384 121h1v1h1v1h1v2h1v1h1v1h1v1h-1v1h-1v2h-1v1h-1v1h-1v1h-1v-1h-1v-1h-1v-1h-1v-2h-1v-1h-1v-1h1v-1h1v-1h1v-2h1v-1h1v-1z"/><path class="b" d="M384 122h1v1h1v2h1v1h1v1h1v1h-1v1h-1v2h-1v1h-1v1h-1v-1h-1v-1h-1v-2h-1v-1h-1v-1h1v-1h1v-1h1v-2h1v-1z"/>
<path d="M438 123h1v1h1v1h1v2h1v1h1v1h1v1h-1v1h-1v2h-1v1h-1v1h-1v1h-1v-1h-1v-1h-1v-1h-1v-2h-1v-1h-1v-1h1v-1h1v-1h1v-2h1v-1h1v-1z"/><path class="r" d="M438 124h1v1h1v2h1v1h1v1h1v1h-1v1h-1v2h-1v1h-1v1h-1v-1h-1v-1h-1v-2h-1v-1h-1v-1h1v-1h1v-1h1v-2h1v-1z"/>
<path d="M414 132h1v1h1v1h1v2h1v1h1v1h1v1h-1v1h-1v2h-1v1h-1v1h-1v1h-1v-1h-1v-1h-1v-1h-1v-2h-1v-1h-1v-1h1v-1h1v-1h1v-2h1v-1h1v-1z"/><path class="r" d="M414 133h1v1h1v2h1v1h1v1h1v1h-1v1h-1v2h-1v1h-1v1h-1v-1h-1v-1h-1v-2h-1v-1h-1v-1h1v-1h1v-1h1v-2h1v-1z"/>
<path d="M406 139h1v1h1v1h1v2h1v1h1v1h1v1h-1v1h-1v2h-1v1h-1v1h-1v1h-1v-1h-1v-1h-1v-1h-1v-2h-1v-1h-1v-1h1v-1h1v-1h1v-2h1v-1h1v-1z"/><path class="b" d="M406 140h1v1h1v2h1v1h1v1h1v1h-1v1h-1v2h-1v1h-1v1h-1v-1h-1v-1h-1v-2h-1v-1h-1v-1h1v-1h1v-1h1v-2h1v-1z"/>
<path d="M346 144h1v1h1v1h1v2h1v1h1v1h1v1h-1v1h-1v2h-1v1h-1v1h-1v1h-1v-1h-1v-1h-1v-1h-1v-2h-1v-1h-1v-1h1v-1h1v-1h1v-2h1v-1h1v-1z"/><path class="b" d="M346 145h1v1h1v2h1v1h1v1h1v1h-1v1h-1v2h-1v1h-1v1h-1v-1h-1v-1h-1v-2h-1v-1h-1v-1h1v-1h1v-1h1v-2h1v-1z"/>
<path d="M437 147h1v1h1v1h1v2h1v1h1v1h1v1h-1v1h-1v2h-1v1h-1v1h-1v1h-1v-1h-1v-1h-1v-1h-1v-2h-1v-1h-1v-1h1v-1h1v-1h1v-2h1v-1h1v-1z"/><path class="r" d="M437 148h1v1h1v2h1v1h1v1h1v1h-1v1h-1v2h-1v1h-1v1h-1v-1h-1v-1h-1v-2h-1v-1h-1v-1h1v-1h1v-1h1v-2h1v-1z"/>
<path d="M446 149h1v1h1v1h1v2h1v1h1v1h1v1h-1v1h-1v2h-1v1h-1v1h-1v1h-1v-1h-1v-1h-1v-1h-1v-2h-1v-1h-1v-1h1v-1h1v-1h1v-2h1v-1h1v-1z"/><path class="r" d="M446 150h1v1h1v2h1v1h1v1h1v1h-1v1h-1v2h-1v1h-1v1h-1v-1h-1v-1h-1v-2h-1v-1h-1v-1h1v-1h1v-1h1v-2h1v-1z"/>
<path d="M350 157h1v1h1v1h1v2h1v1h1v1h1v1h-1v1h-1v2h-1v1h-1v1h-1v1h-1v-1h-1v-1h-1v-1h-1v-2h-1v-1h-1v-1h1v-1h1v-1h1v-2h1v-1h1v-1z"/><path class="r" d="M350 158h1v1h1v2h1v1h1v1h1v1h-1v1h-1v2h-1v1h-1v1h-1v-1h-1v-1h-1v-2h-1v-1h-1v-1h1v-1h1v-1h1v-2h1v-1z"/>
<path d="M442 166h1v1h1v1h1v2h1v1h1v1h1v1h-1v1h-1v2h-1v1h-1v1h-1v1h-1v-1h-1v-1h-1v-1h-1v-2h-1v-1h-1v-1h1v-1h1v-1h1v-2h1v-1h1v-1z"/><path class="b" d="M442 167h1v1h1v2h1v1h1v1h1v1h-1v1h-1v2h-1v1h-1v1h-1v-1h-1v-1h-1v-2h-1v-1h-1v-1h1v-1h1v-1h1v-2h1v-1z"/>
<path d="M400 180h1v1h1v1h1v2h1v1h1v1h1v1h-1v1h-1v2h-1v1h-1v1h-1v1h-1v-1h-1v-1h-1v-1h-1v-2h-1v-1h-1v-1h1v-1h1v-1h1v-2h1v-1h1v-1z"/><path class="r" d="M400 181h1v1h1v2h1v1h1v1h1v1h-1v1h-1v2h-1v1h-1v1h-1v-1h-1v-1h-1v-2h-1v-1h-1v-1h1v-1h1v-1h1v-2h1v-1z"/>
<path d="M393 197h1v1h1v1h1v2h1v1h1v1h1v1h-1v1h-1v2h-1v1h-1v1h-1v1h-1v-1h-1v-1h-1v-1h-1v-2h-1v-1h-1v-1h1v-1h1v-1h1v-2h1v-1h1v-1z"/><path class="r" d="M393 198h1v1h1v2h1v1h1v1h1v1h-1v1h-1v2h-1v1h-1v1h-1v-1h-1v-1h-1v-2h-1v-1h-1v-1h1v-1h1v-1h1v-2h1v-1z"/>
<path d="M403 197h1v1h1v1h1v2h1v1h1v1h1v1h-1v1h-1v2h-1v1h-1v1h-1v1h-1v-1h-1v-1h-1v-1h-1v-2h-1v-1h-1v-1h1v-1h1v-1h1v-2h1v-1h1v-1z"/><path class="b" d="M403 198h1v1h1v2h1v1h1v1h1v1h-1v1h-1v2h-1v1h-1v1h-1v-1h-1v-1h-1v-2h-1v-1h-1v-1h1v-1h1v-1h1v-2h1v-1z"/>
<path d="M431 198h1v1h1v1h1v2h1v1h1v1h1v1h-1v1h-1v2h-1v1h-1v1h-1v1h-1v-1h-1v-1h-1v-1h-1v-2h-1v-1h-1v-1h1v-1h1v-1h1v-2h1v-1h1v-1z"/><path class="r" d="M431 199h1v1h1v2h1v1h1v1h1v1h-1v1h-1v2h-1v1h-1v1h-1v-1h-1v-1h-1v-2h-1v-1h-1v-1h1v-1h1v-1h1v-2h1v-1z"/>
<path d="M481 84h1v1h1v1h1v2h1v1h1v1h1v1h-1v1h-1v2h-1v1h-1v1h-1v1h-1v-1h-1v-1h-1v-1h-1v-2h-1v-1h-1v-1h1v-1h1v-1h1v-2h1v-1h1v-1z"/><path class="r" d="M481 85h1v1h1v2h1v1h1v1h1v1h-1v1h-1v2h-1v1h-1v1h-1v-1h-1v-1h-1v-2h-1v-1h-1v-1h1v-1h1v-1h1v-2h1v-1z"/>
<path d="M502 85h1v1h1v1h1v2h1v1h1v1h1v1h-1v1h-1v2h-1v1h-1v1h-1v1h-1v-1h-1v-1h-1v-1h-1v-2h-1v-1h-1v-1h1v-1h1v-1h1v-2h1v-1h1v-1z"/><path class="r" d="M502 86h1v1h1v2h1v1h1v1h1v1h-1v1h-1v2h-1v1h-1v1h-1v-1h-1v-1h-1v-2h-1v-1h-1v-1h1v-1h1v-1h1v-2h1v-1z"/>
<path d="M528 93h1v1h1v1h1v2h1v1h1v1h1v1h-1v1h-1v2h-1v1h-1v1h-1v1h-1v-1h-1v-1h-1v-1h-1v-2h-1v-1h-1v-1h1v-1h1v-1h1v-2h1v-1h1v-1z"/><path class="b" d="M528 94h1v1h1v2h1v1h1v1h1v1h-1v1h-1v2h-1v1h-1v1h-1v-1h-1v-1h-1v-2h-1v-1h-1v-1h1v-1h1v-1h1v-2h1v-1z"/>
<path d="M497 107h1v1h1v1h1v2h1v1h1v1h1v1h-1v1h-1v2h-1v1h-1v1h-1v1h-1v-1h-1v-1h-1v-1h-1v-2h-1v-1h-1v-1h1v-1h1v-1h1v-2h1v-1h1v-1z"/><path class="b" d="M497 108h1v1h1v2h1v1h1v1h1v1h-1v1h-1v2h-1v1h-1v1h-1v-1h-1v-1h-1v-2h-1v-1h-1v-1h1v-1h1v-1h1v-2h1v-1z"/>
<path d="M535 106h1v1h1v1h1v2h1v1h1v1h1v1h-1v1h-1v2h-1v1h-1v1h-1v1h-1v-1h-1v-1h-1v-1h-1v-2h-1v-1h-1v-1h1v-1h1v-1h1v-2h1v-1h1v-1z"/><path class="r" d="M535 107h1v1h1v2h1v1h1v1h1v1h-1v1h-1v2h-1v1h-1v1h-1v-1h-1v-1h-1v-2h-1v-1h-1v-1h1v-1h1v-1h1v-2h1v-1z"/>
<path d="M565 131h1v1h1v1h1v2h1v1h1v1h1v1h-1v1h-1v2h-1v1h-1v1h-1v1h-1v-1h-1v-1h-1v-1h-1v-2h-1v-1h-1v-1h1v-1h1v-1h1v-2h1v-1h1v-1z"/><path class="b" d="M565 132h1v1h1v2h1v1h1v1h1v1h-1v1h-1v2h-1v1h-1v1h-1v-1h-1v-1h-1v-2h-1v-1h-1v-1h1v-1h1v-1h1v-2h1v-1z"/>
<path d="M601 125h1v1h1v1h1v2h1v1h1v1h1v1h-1v1h-1v2h-1v1h-1v1h-1v1h-1v-1h-1v-1h-1v-1h-1v-2h-1v-1h-1v-1h1v-1h1v-1h1v-2h1v-1h1v-1z"/><path class="b" d="M601 126h1v1h1v2h1v1h1v1h1v1h-1v1h-1v2h-1v1h-1v1h-1v-1h-1v-1h-1v-2h-1v-1h-1v-1h1v-1h1v-1h1v-2h1v-1z"/>
<path d="M600 149h1v1h1v1h1v2h1v1h1v1h1v1h-1v1h-1v2h-1v1h-1v1h-1v1h-1v-1h-1v-1h-1v-1h-1v-2h-1v-1h-1v-1h1v-1h1v-1h1v-2h1v-1h1v-1z"/><path class="r" d="M600 150h1v1h1v2h1v1h1v1h1v1h-1v1h-1v2h-1v1h-1v1h-1v-1h-1v-1h-1v-2h-1v-1h-1v-1h1v-1h1v-1h1v-2h1v-1z"/>
<path d="M613 162h1v1h1v1h1v2h1v1h1v1h1v1h-1v1h-1v2h-1v1h-1v1h-1v1h-1v-1h-1v-1h-1v-1h-1v-2h-1v-1h-1v-1h1v-1h1v-1h1v-2h1v-1h1v-1z"/><path class="b" d="M613 163h1v1h1v2h1v1h1v1h1v1h-1v1h-1v2h-1v1h-1v1h-1v-1h-1v-1h-1v-2h-1v-1h-1v-1h1v-1h1v-1h1v-2h1v-1z"/>
<path d="M470 150h1v1h1v1h1v2h1v1h1v1h1v1h-1v1h-1v2h-1v1h-1v1h-1v1h-1v-1h-1v-1h-1v-1h-1v-2h-1v-1h-1v-1h1v-1h1v-1h1v-2h1v-1h1v-1z"/><path class="b" d="M470 151h1v1h1v2h1v1h1v1h1v1h-1v1h-1v2h-1v1h-1v1h-1v-1h-1v-1h-1v-2h-1v-1h-1v-1h1v-1h1v-1h1v-2h1v-1z"/>
<path d="M489 161h1v1h1v1h1v2h1v1h1v1h1v1h-1v1h-1v2h-1v1h-1v1h-1v1h-1v-1h-1v-1h-1v-1h-1v-2h-1v-1h-1v-1h1v-1h1v-1h1v-2h1v-1h1v-1z"/><path class="r" d="M489 162h1v1h1v2h1v1h1v1h1v1h-1v1h-1v2h-1v1h-1v1h-1v-1h-1v-1h-1v-2h-1v-1h-1v-1h1v-1h1v-1h1v-2h1v-1z"/>
<path d="M458 171h1v1h1v1h1v2h1v1h1v1h1v1h-1v1h-1v2h-1v1h-1v1h-1v1h-1v-1h-1v-1h-1v-1h-1v-2h-1v-1h-1v-1h1v-1h1v-1h1v-2h1v-1h1v-1z"/><path class="b" d="M458 172h1v1h1v2h1v1h1v1h1v1h-1v1h-1v2h-1v1h-1v1h-1v-1h-1v-1h-1v-2h-1v-1h-1v-1h1v-1h1v-1h1v-2h1v-1z"/>
<path d="M644 188h1v1h1v1h1v2h1v1h1v1h1v1h-1v1h-1v2h-1v1h-1v1h-1v1h-1v-1h-1v-1h-1v-1h-1v-2h-1v-1h-1v-1h1v-1h1v-1h1v-2h1v-1h1v-1z"/><path class="b" d="M644 189h1v1h1v2h1v1h1v1h1v1h-1v1h-1v2h-1v1h-1v1h-1v-1h-1v-1h-1v-2h-1v-1h-1v-1h1v-1h1v-1h1v-2h1v-1z"/>
<path d="M749 62h1v1h1v1h1v2h1v1h1v1h1v1h-1v1h-1v2h-1v1h-1v1h-1v1h-1v-1h-1v-1h-1v-1h-1v-2h-1v-1h-1v-1h1v-1h1v-1h1v-2h1v-1h1v-1z"/><path class="r" d="M749 63h1v1h1v2h1v1h1v1h1v1h-1v1h-1v2h-1v1h-1v1h-1v-1h-1v-1h-1v-2h-1v-1h-1v-1h1v-1h1v-1h1v-2h1v-1z"/>
<path d="M654 109h1v1h1v1h1v2h1v1h1v1h1v1h-1v1h-1v2h-1v1h-1v1h-1v1h-1v-1h-1v-1h-1v-1h-1v-2h-1v-1h-1v-1h1v-1h1v-1h1v-2h1v-1h1v-1z"/><path class="r" d="M654 110h1v1h1v2h1v1h1v1h1v1h-1v1h-1v2h-1v1h-1v1h-1v-1h-1v-1h-1v-2h-1v-1h-1v-1h1v-1h1v-1h1v-2h1v-1z"/>
<path d="M702 114h1v1h1v1h1v2h1v1h1v1h1v1h-1v1h-1v2h-1v1h-1v1h-1v1h-1v-1h-1v-1h-1v-1h-1v-2h-1v-1h-1v-1h1v-1h1v-1h1v-2h1v-1h1v-1z"/><path class="b" d="M702 115h1v1h1v2h1v1h1v1h1v1h-1v1h-1v2h-1v1h-1v1h-1v-1h-1v-1h-1v-2h-1v-1h-1v-1h1v-1h1v-1h1v-2h1v-1z"/>
<path d="M738 107h1v1h1v1h1v2h1v1h1v1h1v1h-1v1h-1v2h-1v1h-1v1h-1v1h-1v-1h-1v-1h-1v-1h-1v-2h-1v-1h-1v-1h1v-1h1v-1h1v-2h1v-1h1v-1z"/><path class="r" d="M738 108h1v1h1v2h1v1h1v1h1v1h-1v1h-1v2h-1v1h-1v1h-1v-1h-1v-1h-1v-2h-1v-1h-1v-1h1v-1h1v-1h1v-2h1v-1z"/>
<path d="M699 142h1v1h1v1h1v2h1v1h1v1h1v1h-1v1h-1v2h-1v1h-1v1h-1v1h-1v-1h-1v-1h-1v-1h-1v-2h-1v-1h-1v-1h1v-1h1v-1h1v-2h1v-1h1v-1z"/><path class="b" d="M699 143h1v1h1v2h1v1h1v1h1v1h-1v1h-1v2h-1v1h-1v1h-1v-1h-1v-1h-1v-2h-1v-1h-1v-1h1v-1h1v-1h1v-2h1v-1z"/>
<path d="M692 162h1v1h1v1h1v2h1v1h1v1h1v1h-1v1h-1v2h-1v1h-1v1h-1v1h-1v-1h-1v-1h-1v-1h-1v-2h-1v-1h-1v-1h1v-1h1v-1h1v-2h1v-1h1v-1z"/><path class="r" d="M692 163h1v1h1v2h1v1h1v1h1v1h-1v1h-1v2h-1v1h-1v1h-1v-1h-1v-1h-1v-2h-1v-1h-1v-1h1v-1h1v-1h1v-2h1v-1z"/>
<path d="M765 152h1v1h1v1h1v2h1v1h1v1h1v1h-1v1h-1v2h-1v1h-1v1h-1v1h-1v-1h-1v-1h-1v-1h-1v-2h-1v-1h-1v-1h1v-1h1v-1h1v-2h1v-1h1v-1z"/><path class="b" d="M765 153h1v1h1v2h1v1h1v1h1v1h-1v1h-1v2h-1v1h-1v1h-1v-1h-1v-1h-1v-2h-1v-1h-1v-1h1v-1h1v-1h1v-2h1v-1z"/>
<path d="M792 163h1v1h1v1h1v2h1v1h1v1h1v1h-1v1h-1v2h-1v1h-1v1h-1v1h-1v-1h-1v-1h-1v-1h-1v-2h-1v-1h-1v-1h1v-1h1v-1h1v-2h1v-1h1v-1z"/><path class="r" d="M792 164h1v1h1v2h1v1h1v1h1v1h-1v1h-1v2h-1v1h-1v1h-1v-1h-1v-1h-1v-2h-1v-1h-1v-1h1v-1h1v-1h1v-2h1v-1z"/>
<path d="M804 185h1v1h1v1h1v2h1v1h1v1h1v1h-1v1h-1v2h-1v1h-1v1h-1v1h-1v-1h-1v-1h-1v-1h-1v-2h-1v-1h-1v-1h1v-1h1v-1h1v-2h1v-1h1v-1z"/><path class="b" d="M804 186h1v1h1v2h1v1h1v1h1v1h-1v1h-1v2h-1v1h-1v1h-1v-1h-1v-1h-1v-2h-1v-1h-1v-1h1v-1h1v-1h1v-2h1v-1z"/>
<path d="M900 100h1v1h1v1h1v2h1v1h1v1h1v1h-1v1h-1v2h-1v1h-1v1h-1v1h-1v-1h-1v-1h-1v-1h-1v-2h-1v-1h-1v-1h1v-1h1v-1h1v-2h1v-1h1v-1z"/><path class="b" d="M900 101h1v1h1v2h1v1h1v1h1v1h-1v1h-1v2h-1v1h-1v1h-1v-1h-1v-1h-1v-2h-1v-1h-1v-1h1v-1h1v-1h1v-2h1v-1z"/>
<path d="M860 126h1v1h1v1h1v2h1v1h1v1h1v1h-1v1h-1v2h-1v1h-1v1h-1v1h-1v-1h-1v-1h-1v-1h-1v-2h-1v-1h-1v-1h1v-1h1v-1h1v-2h1v-1h1v-1z"/><path class="b" d="M860 127h1v1h1v2h1v1h1v1h1v1h-1v1h-1v2h-1v1h-1v1h-1v-1h-1v-1h-1v-2h-1v-1h-1v-1h1v-1h1v-1h1v-2h1v-1z"/>
<path d="M919 189h1v1h1v1h1v2h1v1h1v1h1v1h-1v1h-1v2h-1v1h-1v1h-1v1h-1v-1h-1v-1h-1v-1h-1v-2h-1v-1h-1v-1h1v-1h1v-1h1v-2h1v-1h1v-1z"/><path class="r" d="M919 190h1v1h1v2h1v1h1v1h1v1h-1v1h-1v2h-1v1h-1v1h-1v-1h-1v-1h-1v-2h-1v-1h-1v-1h1v-1h1v-1h1v-2h1v-1z"/>
<path d="M426 219h1v1h1v1h1v2h1v1h1v1h1v1h-1v1h-1v2h-1v1h-1v1h-1v1h-1v-1h-1v-1h-1v-1h-1v-2h-1v-1h-1v-1h1v-1h1v-1h1v-2h1v-1h1v-1z"/><path class="b" d="M426 220h1v1h1v2h1v1h1v1h1v1h-1v1h-1v2h-1v1h-1v1h-1v-1h-1v-1h-1v-2h-1v-1h-1v-1h1v-1h1v-1h1v-2h1v-1z"/>
<path d="M427 229h1v1h1v1h1v2h1v1h1v1h1v1h-1v1h-1v2h-1v1h-1v1h-1v1h-1v-1h-1v-1h-1v-1h-1v-2h-1v-1h-1v-1h1v-1h1v-1h1v-2h1v-1h1v-1z"/><path class="b" d="M427 230h1v1h1v2h1v1h1v1h1v1h-1v1h-1v2h-1v1h-1v1h-1v-1h-1v-1h-1v-2h-1v-1h-1v-1h1v-1h1v-1h1v-2h1v-1z"/>
<path d="M440 218h1v1h1v1h1v2h1v1h1v1h1v1h-1v1h-1v2h-1v1h-1v1h-1v1h-1v-1h-1v-1h-1v-1h-1v-2h-1v-1h-1v-1h1v-1h1v-1h1v-2h1v-1h1v-1z"/><path class="b" d="M440 219h1v1h1v2h1v1h1v1h1v1h-1v1h-1v2h-1v1h-1v1h-1v-1h-1v-1h-1v-2h-1v-1h-1v-1h1v-1h1v-1h1v-2h1v-1z"/>
<path d="M459 206h1v1h1v1h1v2h1v1h1v1h1v1h-1v1h-1v2h-1v1h-1v1h-1v1h-1v-1h-1v-1h-1v-1h-1v-2h-1v-1h-1v-1h1v-1h1v-1h1v-2h1v-1h1v-1z"/><path class="b" d="M459 207h1v1h1v2h1v1h1v1h1v1h-1v1h-1v2h-1v1h-1v1h-1v-1h-1v-1h-1v-2h-1v-1h-1v-1h1v-1h1v-1h1v-2h1v-1z"/>
<path d="M482 213h1v1h1v1h1v2h1v1h1v1h1v1h-1v1h-1v2h-1v1h-1v1h-1v1h-1v-1h-1v-1h-1v-1h-1v-2h-1v-1h-1v-1h1v-1h1v-1h1v-2h1v-1h1v-1z"/><path class="b" d="M482 214h1v1h1v2h1v1h1v1h1v1h-1v1h-1v2h-1v1h-1v1h-1v-1h-1v-1h-1v-2h-1v-1h-1v-1h1v-1h1v-1h1v-2h1v-1z"/>
<path d="M505 202h1v1h1v1h1v2h1v1h1v1h1v1h-1v1h-1v2h-1v1h-1v1h-1v1h-1v-1h-1v-1h-1v-1h-1v-2h-1v-1h-1v-1h1v-1h1v-1h1v-2h1v-1h1v-1z"/><path class="b" d="M505 203h1v1h1v2h1v1h1v1h1v1h-1v1h-1v2h-1v1h-1v1h-1v-1h-1v-1h-1v-2h-1v-1h-1v-1h1v-1h1v-1h1v-2h1v-1z"/>
<path d="M447 237h1v1h1v1h1v2h1v1h1v1h1v1h-1v1h-1v2h-1v1h-1v1h-1v1h-1v-1h-1v-1h-1v-1h-1v-2h-1v-1h-1v-1h1v-1h1v-1h1v-2h1v-1h1v-1z"/><path class="r" d="M447 238h1v1h1v2h1v1h1v1h1v1h-1v1h-1v2h-1v1h-1v1h-1v-1h-1v-1h-1v-2h-1v-1h-1v-1h1v-1h1v-1h1v-2h1v-1z"/>
<path d="M455 249h1v1h1v1h1v2h1v1h1v1h1v1h-1v1h-1v2h-1v1h-1v1h-1v1h-1v-1h-1v-1h-1v-1h-1v-2h-1v-1h-1v-1h1v-1h1v-1h1v-2h1v-1h1v-1z"/><path class="b" d="M455 250h1v1h1v2h1v1h1v1h1v1h-1v1h-1v2h-1v1h-1v1h-1v-1h-1v-1h-1v-2h-1v-1h-1v-1h1v-1h1v-1h1v-2h1v-1z"/>
<path d="M484 242h1v1h1v1h1v2h1v1h1v1h1v1h-1v1h-1v2h-1v1h-1v1h-1v1h-1v-1h-1v-1h-1v-1h-1v-2h-1v-1h-1v-1h1v-1h1v-1h1v-2h1v-1h1v-1z"/><path class="r" d="M484 243h1v1h1v2h1v1h1v1h1v1h-1v1h-1v2h-1v1h-1v1h-1v-1h-1v-1h-1v-2h-1v-1h-1v-1h1v-1h1v-1h1v-2h1v-1z"/>
<path d="M496 250h1v1h1v1h1v2h1v1h1v1h1v1h-1v1h-1v2h-1v1h-1v1h-1v1h-1v-1h-1v-1h-1v-1h-1v-2h-1v-1h-1v-1h1v-1h1v-1h1v-2h1v-1h1v-1z"/><path class="b" d="M496 251h1v1h1v2h1v1h1v1h1v1h-1v1h-1v2h-1v1h-1v1h-1v-1h-1v-1h-1v-2h-1v-1h-1v-1h1v-1h1v-1h1v-2h1v-1z"/>
<path d="M491 254h1v1h1v1h1v2h1v1h1v1h1v1h-1v1h-1v2h-1v1h-1v1h-1v1h-1v-1h-1v-1h-1v-1h-1v-2h-1v-1h-1v-1h1v-1h1v-1h1v-2h1v-1h1v-1z"/><path class="b" d="M491 255h1v1h1v2h1v1h1v1h1v1h-1v1h-1v2h-1v1h-1v1h-1v-1h-1v-1h-1v-2h-1v-1h-1v-1h1v-1h1v-1h1v-2h1v-1z"/>
<path d="M473 251h1v1h1v1h1v2h1v1h1v1h1v1h-1v1h-1v2h-1v1h-1v1h-1v1h-1v-1h-1v-1h-1v-1h-1v-2h-1v-1h-1v-1h1v-1h1v-1h1v-2h1v-1h1v-1z"/><path class="b" d="M473 252h1v1h1v2h1v1h1v1h1v1h-1v1h-1v2h-1v1h-1v1h-1v-1h-1v-1h-1v-2h-1v-1h-1v-1h1v-1h1v-1h1v-2h1v-1z"/>
<path d="M479 257h1v1h1v1h1v2h1v1h1v1h1v1h-1v1h-1v2h-1v1h-1v1h-1v1h-1v-1h-1v-1h-1v-1h-1v-2h-1v-1h-1v-1h1v-1h1v-1h1v-2h1v-1h1v-1z"/><path class="b" d="M479 258h1v1h1v2h1v1h1v1h1v1h-1v1h-1v2h-1v1h-1v1h-1v-1h-1v-1h-1v-2h-1v-1h-1v-1h1v-1h1v-1h1v-2h1v-1z"/>
<path d="M481 263h1v1h1v1h1v2h1v1h1v1h1v1h-1v1h-1v2h-1v1h-1v1h-1v1h-1v-1h-1v-1h-1v-1h-1v-2h-1v-1h-1v-1h1v-1h1v-1h1v-2h1v-1h1v-1z"/><path class="b" d="M481 264h1v1h1v2h1v1h1v1h1v1h-1v1h-1v2h-1v1h-1v1h-1v-1h-1v-1h-1v-2h-1v-1h-1v-1h1v-1h1v-1h1v-2h1v-1z"/>
<path d="M470 266h1v1h1v1h1v2h1v1h1v1h1v1h-1v1h-1v2h-1v1h-1v1h-1v1h-1v-1h-1v-1h-1v-1h-1v-2h-1v-1h-1v-1h1v-1h1v-1h1v-2h1v-1h1v-1z"/><path class="b" d="M470 267h1v1h1v2h1v1h1v1h1v1h-1v1h-1v2h-1v1h-1v1h-1v-1h-1v-1h-1v-2h-1v-1h-1v-1h1v-1h1v-1h1v-2h1v-1z"/>
<path d="M476 278h1v1h1v1h1v2h1v1h1v1h1v1h-1v1h-1v2h-1v1h-1v1h-1v1h-1v-1h-1v-1h-1v-1h-1v-2h-1v-1h-1v-1h1v-1h1v-1h1v-2h1v-1h1v-1z"/><path class="b" d="M476 279h1v1h1v2h1v1h1v1h1v1h-1v1h-1v2h-1v1h-1v1h-1v-1h-1v-1h-1v-2h-1v-1h-1v-1h1v-1h1v-1h1v-2h1v-1z"/>
<path d="M488 272h1v1h1v1h1v2h1v1h1v1h1v1h-1v1h-1v2h-1v1h-1v1h-1v1h-1v-1h-1v-1h-1v-1h-1v-2h-1v-1h-1v-1h1v-1h1v-1h1v-2h1v-1h1v-1z"/><path class="r" d="M488 273h1v1h1v2h1v1h1v1h1v1h-1v1h-1v2h-1v1h-1v1h-1v-1h-1v-1h-1v-2h-1v-1h-1v-1h1v-1h1v-1h1v-2h1v-1z"/>
<path d="M485 279h1v1h1v1h1v2h1v1h1v1h1v1h-1v1h-1v2h-1v1h-1v1h-1v1h-1v-1h-1v-1h-1v-1h-1v-2h-1v-1h-1v-1h1v-1h1v-1h1v-2h1v-1h1v-1z"/><path class="r" d="M485 280h1v1h1v2h1v1h1v1h1v1h-1v1h-1v2h-1v1h-1v1h-1v-1h-1v-1h-1v-2h-1v-1h-1v-1h1v-1h1v-1h1v-2h1v-1z"/>
<path d="M493 277h1v1h1v1h1v2h1v1h1v1h1v1h-1v1h-1v2h-1v1h-1v1h-1v1h-1v-1h-1v-1h-1v-1h-1v-2h-1v-1h-1v-1h1v-1h1v-1h1v-2h1v-1h1v-1z"/><path class="r" d="M493 278h1v1h1v2h1v1h1v1h1v1h-1v1h-1v2h-1v1h-1v1h-1v-1h-1v-1h-1v-2h-1v-1h-1v-1h1v-1h1v-1h1v-2h1v-1z"/>
<path d="M490 282h1v1h1v1h1v2h1v1h1v1h1v1h-1v1h-1v2h-1v1h-1v1h-1v1h-1v-1h-1v-1h-1v-1h-1v-2h-1v-1h-1v-1h1v-1h1v-1h1v-2h1v-1h1v-1z"/><path class="r" d="M490 283h1v1h1v2h1v1h1v1h1v1h-1v1h-1v2h-1v1h-1v1h-1v-1h-1v-1h-1v-2h-1v-1h-1v-1h1v-1h1v-1h1v-2h1v-1z"/>
<path d="M501 266h1v1h1v1h1v2h1v1h1v1h1v1h-1v1h-1v2h-1v1h-1v1h-1v1h-1v-1h-1v-1h-1v-1h-1v-2h-1v-1h-1v-1h1v-1h1v-1h1v-2h1v-1h1v-1z"/><path class="b" d="M501 267h1v1h1v2h1v1h1v1h1v1h-1v1h-1v2h-1v1h-1v1h-1v-1h-1v-1h-1v-2h-1v-1h-1v-1h1v-1h1v-1h1v-2h1v-1z"/>
<path d="M505 262h1v1h1v1h1v2h1v1h1v1h1v1h-1v1h-1v2h-1v1h-1v1h-1v1h-1v-1h-1v-1h-1v-1h-1v-2h-1v-1h-1v-1h1v-1h1v-1h1v-2h1v-1h1v-1z"/><path class="b" d="M505 263h1v1h1v2h1v1h1v1h1v1h-1v1h-1v2h-1v1h-1v1h-1v-1h-1v-1h-1v-2h-1v-1h-1v-1h1v-1h1v-1h1v-2h1v-1z"/>
<path d="M511 254h1v1h1v1h1v2h1v1h1v1h1v1h-1v1h-1v2h-1v1h-1v1h-1v1h-1v-1h-1v-1h-1v-1h-1v-2h-1v-1h-1v-1h1v-1h1v-1h1v-2h1v-1h1v-1z"/><path class="r" d="M511 255h1v1h1v2h1v1h1v1h1v1h-1v1h-1v2h-1v1h-1v1h-1v-1h-1v-1h-1v-2h-1v-1h-1v-1h1v-1h1v-1h1v-2h1v-1z"/>
<path d="M521 248h1v1h1v1h1v2h1v1h1v1h1v1h-1v1h-1v2h-1v1h-1v1h-1v1h-1v-1h-1v-1h-1v-1h-1v-2h-1v-1h-1v-1h1v-1h1v-1h1v-2h1v-1h1v-1z"/><path class="b" d="M521 249h1v1h1v2h1v1h1v1h1v1h-1v1h-1v2h-1v1h-1v1h-1v-1h-1v-1h-1v-2h-1v-1h-1v-1h1v-1h1v-1h1v-2h1v-1z"/>
<path d="M527 243h1v1h1v1h1v2h1v1h1v1h1v1h-1v1h-1v2h-1v1h-1v1h-1v1h-1v-1h-1v-1h-1v-1h-1v-2h-1v-1h-1v-1h1v-1h1v-1h1v-2h1v-1h1v-1z"/><path class="r" d="M527 244h1v1h1v2h1v1h1v1h1v1h-1v1h-1v2h-1v1h-1v1h-1v-1h-1v-1h-1v-2h-1v-1h-1v-1h1v-1h1v-1h1v-2h1v-1z"/>
<path d="M538 246h1v1h1v1h1v2h1v1h1v1h1v1h-1v1h-1v2h-1v1h-1v1h-1v1h-1v-1h-1v-1h-1v-1h-1v-2h-1v-1h-1v-1h1v-1h1v-1h1v-2h1v-1h1v-1z"/><path class="b" d="M538 247h1v1h1v2h1v1h1v1h1v1h-1v1h-1v2h-1v1h-1v1h-1v-1h-1v-1h-1v-2h-1v-1h-1v-1h1v-1h1v-1h1v-2h1v-1z"/>
<path d="M527 266h1v1h1v1h1v2h1v1h1v1h1v1h-1v1h-1v2h-1v1h-1v1h-1v1h-1v-1h-1v-1h-1v-1h-1v-2h-1v-1h-1v-1h1v-1h1v-1h1v-2h1v-1h1v-1z"/><path class="b" d="M527 267h1v1h1v2h1v1h1v1h1v1h-1v1h-1v2h-1v1h-1v1h-1v-1h-1v-1h-1v-2h-1v-1h-1v-1h1v-1h1v-1h1v-2h1v-1z"/>
<path d="M542 260h1v1h1v1h1v2h1v1h1v1h1v1h-1v1h-1v2h-1v1h-1v1h-1v1h-1v-1h-1v-1h-1v-1h-1v-2h-1v-1h-1v-1h1v-1h1v-1h1v-2h1v-1h1v-1z"/><path class="b" d="M542 261h1v1h1v2h1v1h1v1h1v1h-1v1h-1v2h-1v1h-1v1h-1v-1h-1v-1h-1v-2h-1v-1h-1v-1h1v-1h1v-1h1v-2h1v-1z"/>
<path d="M512 276h1v1h1v1h1v2h1v1h1v1h1v1h-1v1h-1v2h-1v1h-1v1h-1v1h-1v-1h-1v-1h-1v-1h-1v-2h-1v-1h-1v-1h1v-1h1v-1h1v-2h1v-1h1v-1z"/><path class="r" d="M512 277h1v1h1v2h1v1h1v1h1v1h-1v1h-1v2h-1v1h-1v1h-1v-1h-1v-1h-1v-2h-1v-1h-1v-1h1v-1h1v-1h1v-2h1v-1z"/>
<path d="M515 280h1v1h1v1h1v2h1v1h1v1h1v1h-1v1h-1v2h-1v1h-1v1h-1v1h-1v-1h-1v-1h-1v-1h-1v-2h-1v-1h-1v-1h1v-1h1v-1h1v-2h1v-1h1v-1z"/><path class="r" d="M515 281h1v1h1v2h1v1h1v1h1v1h-1v1h-1v2h-1v1h-1v1h-1v-1h-1v-1h-1v-2h-1v-1h-1v-1h1v-1h1v-1h1v-2h1v-1z"/>
<path d="M527 278h1v1h1v1h1v2h1v1h1v1h1v1h-1v1h-1v2h-1v1h-1v1h-1v1h-1v-1h-1v-1h-1v-1h-1v-2h-1v-1h-1v-1h1v-1h1v-1h1v-2h1v-1h1v-1z"/><path class="r" d="M527 279h1v1h1v2h1v1h1v1h1v1h-1v1h-1v2h-1v1h-1v1h-1v-1h-1v-1h-1v-2h-1v-1h-1v-1h1v-1h1v-1h1v-2h1v-1z"/>
<path d="M576 220h1v1h1v1h1v2h1v1h1v1h1v1h-1v1h-1v2h-1v1h-1v1h-1v1h-1v-1h-1v-1h-1v-1h-1v-2h-1v-1h-1v-1h1v-1h1v-1h1v-2h1v-1h1v-1z"/><path class="b" d="M576 221h1v1h1v2h1v1h1v1h1v1h-1v1h-1v2h-1v1h-1v1h-1v-1h-1v-1h-1v-2h-1v-1h-1v-1h1v-1h1v-1h1v-2h1v-1z"/>
<path d="M587 228h1v1h1v1h1v2h1v1h1v1h1v1h-1v1h-1v2h-1v1h-1v1h-1v1h-1v-1h-1v-1h-1v-1h-1v-2h-1v-1h-1v-1h1v-1h1v-1h1v-2h1v-1h1v-1z"/><path class="b" d="M587 229h1v1h1v2h1v1h1v1h1v1h-1v1h-1v2h-1v1h-1v1h-1v-1h-1v-1h-1v-2h-1v-1h-1v-1h1v-1h1v-1h1v-2h1v-1z"/>
<path d="M585 240h1v1h1v1h1v2h1v1h1v1h1v1h-1v1h-1v2h-1v1h-1v1h-1v1h-1v-1h-1v-1h-1v-1h-1v-2h-1v-1h-1v-1h1v-1h1v-1h1v-2h1v-1h1v-1z"/><path class="b" d="M585 241h1v1h1v2h1v1h1v1h1v1h-1v1h-1v2h-1v1h-1v1h-1v-1h-1v-1h-1v-2h-1v-1h-1v-1h1v-1h1v-1h1v-2h1v-1z"/>
<path d="M608 247h1v1h1v1h1v2h1v1h1v1h1v1h-1v1h-1v2h-1v1h-1v1h-1v1h-1v-1h-1v-1h-1v-1h-1v-2h-1v-1h-1v-1h1v-1h1v-1h1v-2h1v-1h1v-1z"/><path class="r" d="M608 248h1v1h1v2h1v1h1v1h1v1h-1v1h-1v2h-1v1h-1v1h-1v-1h-1v-1h-1v-2h-1v-1h-1v-1h1v-1h1v-1h1v-2h1v-1z"/>
<path d="M629 240h1v1h1v1h1v2h1v1h1v1h1v1h-1v1h-1v2h-1v1h-1v1h-1v1h-1v-1h-1v-1h-1v-1h-1v-2h-1v-1h-1v-1h1v-1h1v-1h1v-2h1v-1h1v-1z"/><path class="r" d="M629 241h1v1h1v2h1v1h1v1h1v1h-1v1h-1v2h-1v1h-1v1h-1v-1h-1v-1h-1v-2h-1v-1h-1v-1h1v-1h1v-1h1v-2h1v-1z"/>
<path d="M677 224h1v1h1v1h1v2h1v1h1v1h1v1h-1v1h-1v2h-1v1h-1v1h-1v1h-1v-1h-1v-1h-1v-1h-1v-2h-1v-1h-1v-1h1v-1h1v-1h1v-2h1v-1h1v-1z"/><path class="b" d="M677 225h1v1h1v2h1v1h1v1h1v1h-1v1h-1v2h-1v1h-1v1h-1v-1h-1v-1h-1v-2h-1v-1h-1v-1h1v-1h1v-1h1v-2h1v-1z"/>
<path d="M633 257h1v1h1v1h1v2h1v1h1v1h1v1h-1v1h-1v2h-1v1h-1v1h-1v1h-1v-1h-1v-1h-1v-1h-1v-2h-1v-1h-1v-1h1v-1h1v-1h1v-2h1v-1h1v-1z"/><path class="b" d="M633 258h1v1h1v2h1v1h1v1h1v1h-1v1h-1v2h-1v1h-1v1h-1v-1h-1v-1h-1v-2h-1v-1h-1v-1h1v-1h1v-1h1v-2h1v-1z"/>
<path d="M649 260h1v1h1v1h1v2h1v1h1v1h1v1h-1v1h-1v2h-1v1h-1v1h-1v1h-1v-1h-1v-1h-1v-1h-1v-2h-1v-1h-1v-1h1v-1h1v-1h1v-2h1v-1h1v-1z"/><path class="r" d="M649 261h1v1h1v2h1v1h1v1h1v1h-1v1h-1v2h-1v1h-1v1h-1v-1h-1v-1h-1v-2h-1v-1h-1v-1h1v-1h1v-1h1v-2h1v-1z"/>
<path d="M597 261h1v1h1v1h1v2h1v1h1v1h1v1h-1v1h-1v2h-1v1h-1v1h-1v1h-1v-1h-1v-1h-1v-1h-1v-2h-1v-1h-1v-1h1v-1h1v-1h1v-2h1v-1h1v-1z"/><path class="r" d="M597 262h1v1h1v2h1v1h1v1h1v1h-1v1h-1v2h-1v1h-1v1h-1v-1h-1v-1h-1v-2h-1v-1h-1v-1h1v-1h1v-1h1v-2h1v-1z"/>
<path d="M612 264h1v1h1v1h1v2h1v1h1v1h1v1h-1v1h-1v2h-1v1h-1v1h-1v1h-1v-1h-1v-1h-1v-1h-1v-2h-1v-1h-1v-1h1v-1h1v-1h1v-2h1v-1h1v-1z"/><path class="b" d="M612 265h1v1h1v2h1v1h1v1h1v1h-1v1h-1v2h-1v1h-1v1h-1v-1h-1v-1h-1v-2h-1v-1h-1v-1h1v-1h1v-1h1v-2h1v-1z"/>
<path d="M622 266h1v1h1v1h1v2h1v1h1v1h1v1h-1v1h-1v2h-1v1h-1v1h-1v1h-1v-1h-1v-1h-1v-1h-1v-2h-1v-1h-1v-1h1v-1h1v-1h1v-2h1v-1h1v-1z"/><path class="b" d="M622 267h1v1h1v2h1v1h1v1h1v1h-1v1h-1v2h-1v1h-1v1h-1v-1h-1v-1h-1v-2h-1v-1h-1v-1h1v-1h1v-1h1v-2h1v-1z"/>
<path d="M603 271h1v1h1v1h1v2h1v1h1v1h1v1h-1v1h-1v2h-1v1h-1v1h-1v1h-1v-1h-1v-1h-1v-1h-1v-2h-1v-1h-1v-1h1v-1h1v-1h1v-2h1v-1h1v-1z"/><path class="r" d="M603 272h1v1h1v2h1v1h1v1h1v1h-1v1h-1v2h-1v1h-1v1h-1v-1h-1v-1h-1v-2h-1v-1h-1v-1h1v-1h1v-1h1v-2h1v-1z"/>
<path d="M594 277h1v1h1v1h1v2h1v1h1v1h1v1h-1v1h-1v2h-1v1h-1v1h-1v1h-1v-1h-1v-1h-1v-1h-1v-2h-1v-1h-1v-1h1v-1h1v-1h1v-2h1v-1h1v-1z"/><path class="r" d="M594 278h1v1h1v2h1v1h1v1h1v1h-1v1h-1v2h-1v1h-1v1h-1v-1h-1v-1h-1v-2h-1v-1h-1v-1h1v-1h1v-1h1v-2h1v-1z"/>
<path d="M579 279h1v1h1v1h1v2h1v1h1v1h1v1h-1v1h-1v2h-1v1h-1v1h-1v1h-1v-1h-1v-1h-1v-1h-1v-2h-1v-1h-1v-1h1v-1h1v-1h1v-2h1v-1h1v-1z"/><path class="r" d="M579 280h1v1h1v2h1v1h1v1h1v1h-1v1h-1v2h-1v1h-1v1h-1v-1h-1v-1h-1v-2h-1v-1h-1v-1h1v-1h1v-1h1v-2h1v-1z"/>
<path d="M567 273h1v1h1v1h1v2h1v1h1v1h1v1h-1v1h-1v2h-1v1h-1v1h-1v1h-1v-1h-1v-1h-1v-1h-1v-2h-1v-1h-1v-1h1v-1h1v-1h1v-2h1v-1h1v-1z"/><path class="b" d="M567 274h1v1h1v2h1v1h1v1h1v1h-1v1h-1v2h-1v1h-1v1h-1v-1h-1v-1h-1v-2h-1v-1h-1v-1h1v-1h1v-1h1v-2h1v-1z"/>
<path d="M560 259h1v1h1v1h1v2h1v1h1v1h1v1h-1v1h-1v2h-1v1h-1v1h-1v1h-1v-1h-1v-1h-1v-1h-1v-2h-1v-1h-1v-1h1v-1h1v-1h1v-2h1v-1h1v-1z"/><path class="r" d="M560 260h1v1h1v2h1v1h1v1h1v1h-1v1h-1v2h-1v1h-1v1h-1v-1h-1v-1h-1v-2h-1v-1h-1v-1h1v-1h1v-1h1v-2h1v-1z"/>
<path d="M558 270h1v1h1v1h1v2h1v1h1v1h1v1h-1v1h-1v2h-1v1h-1v1h-1v1h-1v-1h-1v-1h-1v-1h-1v-2h-1v-1h-1v-1h1v-1h1v-1h1v-2h1v-1h1v-1z"/><path class="r" d="M558 271h1v1h1v2h1v1h1v1h1v1h-1v1h-1v2h-1v1h-1v1h-1v-1h-1v-1h-1v-2h-1v-1h-1v-1h1v-1h1v-1h1v-2h1v-1z"/>
<path d="M660 273h1v1h1v1h1v2h1v1h1v1h1v1h-1v1h-1v2h-1v1h-1v1h-1v1h-1v-1h-1v-1h-1v-1h-1v-2h-1v-1h-1v-1h1v-1h1v-1h1v-2h1v-1h1v-1z"/><path class="r" d="M660 274h1v1h1v2h1v1h1v1h1v1h-1v1h-1v2h-1v1h-1v1h-1v-1h-1v-1h-1v-2h-1v-1h-1v-1h1v-1h1v-1h1v-2h1v-1z"/>
<path d="M689 200h1v1h1v1h1v2h1v1h1v1h1v1h-1v1h-1v2h-1v1h-1v1h-1v1h-1v-1h-1v-1h-1v-1h-1v-2h-1v-1h-1v-1h1v-1h1v-1h1v-2h1v-1h1v-1z"/><path class="r" d="M689 201h1v1h1v2h1v1h1v1h1v1h-1v1h-1v2h-1v1h-1v1h-1v-1h-1v-1h-1v-2h-1v-1h-1v-1h1v-1h1v-1h1v-2h1v-1z"/>
<path d="M689 198h1v1h1v1h1v2h1v1h1v1h1v1h-1v1h-1v2h-1v1h-1v1h-1v1h-1v-1h-1v-1h-1v-1h-1v-2h-1v-1h-1v-1h1v-1h1v-1h1v-2h1v-1h1v-1z"/><path class="r" d="M689 199h1v1h1v2h1v1h1v1h1v1h-1v1h-1v2h-1v1h-1v1h-1v-1h-1v-1h-1v-2h-1v-1h-1v-1h1v-1h1v-1h1v-2h1v-1z"/>
<path d="M711 210h1v1h1v1h1v2h1v1h1v1h1v1h-1v1h-1v2h-1v1h-1v1h-1v1h-1v-1h-1v-1h-1v-1h-1v-2h-1v-1h-1v-1h1v-1h1v-1h1v-2h1v-1h1v-1z"/><path class="b" d="M711 211h1v1h1v2h1v1h1v1h1v1h-1v1h-1v2h-1v1h-1v1h-1v-1h-1v-1h-1v-2h-1v-1h-1v-1h1v-1h1v-1h1v-2h1v-1z"/>
<path d="M694 222h1v1h1v1h1v2h1v1h1v1h1v1h-1v1h-1v2h-1v1h-1v1h-1v1h-1v-1h-1v-1h-1v-1h-1v-2h-1v-1h-1v-1h1v-1h1v-1h1v-2h1v-1h1v-1z"/><path class="r" d="M694 223h1v1h1v2h1v1h1v1h1v1h-1v1h-1v2h-1v1h-1v1h-1v-1h-1v-1h-1v-2h-1v-1h-1v-1h1v-1h1v-1h1v-2h1v-1z"/>
<path d="M720 248h1v1h1v1h1v2h1v1h1v1h1v1h-1v1h-1v2h-1v1h-1v1h-1v1h-1v-1h-1v-1h-1v-1h-1v-2h-1v-1h-1v-1h1v-1h1v-1h1v-2h1v-1h1v-1z"/><path class="r" d="M720 249h1v1h1v2h1v1h1v1h1v1h-1v1h-1v2h-1v1h-1v1h-1v-1h-1v-1h-1v-2h-1v-1h-1v-1h1v-1h1v-1h1v-2h1v-1z"/>
<path d="M716 263h1v1h1v1h1v2h1v1h1v1h1v1h-1v1h-1v2h-1v1h-1v1h-1v1h-1v-1h-1v-1h-1v-1h-1v-2h-1v-1h-1v-1h1v-1h1v-1h1v-2h1v-1h1v-1z"/><path class="b" d="M716 264h1v1h1v2h1v1h1v1h1v1h-1v1h-1v2h-1v1h-1v1h-1v-1h-1v-1h-1v-2h-1v-1h-1v-1h1v-1h1v-1h1v-2h1v-1z"/>
<path d="M702 271h1v1h1v1h1v2h1v1h1v1h1v1h-1v1h-1v2h-1v1h-1v1h-1v1h-1v-1h-1v-1h-1v-1h-1v-2h-1v-1h-1v-1h1v-1h1v-1h1v-2h1v-1h1v-1z"/><path class="r" d="M702 272h1v1h1v2h1v1h1v1h1v1h-1v1h-1v2h-1v1h-1v1h-1v-1h-1v-1h-1v-2h-1v-1h-1v-1h1v-1h1v-1h1v-2h1v-1z"/>
<path d="M730 275h1v1h1v1h1v2h1v1h1v1h1v1h-1v1h-1v2h-1v1h-1v1h-1v1h-1v-1h-1v-1h-1v-1h-1v-2h-1v-1h-1v-1h1v-1h1v-1h1v-2h1v-1h1v-1z"/><path class="r" d="M730 276h1v1h1v2h1v1h1v1h1v1h-1v1h-1v2h-1v1h-1v1h-1v-1h-1v-1h-1v-2h-1v-1h-1v-1h1v-1h1v-1h1v-2h1v-1z"/>
<path d="M754 283h1v1h1v1h1v2h1v1h1v1h1v1h-1v1h-1v2h-1v1h-1v1h-1v1h-1v-1h-1v-1h-1v-1h-1v-2h-1v-1h-1v-1h1v-1h1v-1h1v-2h1v-1h1v-1z"/><path class="b" d="M754 284h1v1h1v2h1v1h1v1h1v1h-1v1h-1v2h-1v1h-1v1h-1v-1h-1v-1h-1v-2h-1v-1h-1v-1h1v-1h1v-1h1v-2h1v-1z"/>
<path d="M683 285h1v1h1v1h1v2h1v1h1v1h1v1h-1v1h-1v2h-1v1h-1v1h-1v1h-1v-1h-1v-1h-1v-1h-1v-2h-1v-1h-1v-1h1v-1h1v-1h1v-2h1v-1h1v-1z"/><path class="r" d="M683 286h1v1h1v2h1v1h1v1h1v1h-1v1h-1v2h-1v1h-1v1h-1v-1h-1v-1h-1v-2h-1v-1h-1v-1h1v-1h1v-1h1v-2h1v-1z"/>
<path d="M698 284h1v1h1v1h1v2h1v1h1v1h1v1h-1v1h-1v2h-1v1h-1v1h-1v1h-1v-1h-1v-1h-1v-1h-1v-2h-1v-1h-1v-1h1v-1h1v-1h1v-2h1v-1h1v-1z"/><path class="b" d="M698 285h1v1h1v2h1v1h1v1h1v1h-1v1h-1v2h-1v1h-1v1h-1v-1h-1v-1h-1v-2h-1v-1h-1v-1h1v-1h1v-1h1v-2h1v-1z"/>
<path d="M711 286h1v1h1v1h1v2h1v1h1v1h1v1h-1v1h-1v2h-1v1h-1v1h-1v1h-1v-1h-1v-1h-1v-1h-1v-2h-1v-1h-1v-1h1v-1h1v-1h1v-2h1v-1h1v-1z"/><path class="r" d="M711 287h1v1h1v2h1v1h1v1h1v1h-1v1h-1v2h-1v1h-1v1h-1v-1h-1v-1h-1v-2h-1v-1h-1v-1h1v-1h1v-1h1v-2h1v-1z"/>
<path d="M869 258h1v1h1v1h1v2h1v1h1v1h1v1h-1v1h-1v2h-1v1h-1v1h-1v1h-1v-1h-1v-1h-1v-1h-1v-2h-1v-1h-1v-1h1v-1h1v-1h1v-2h1v-1h1v-1z"/><path class="r" d="M869 259h1v1h1v2h1v1h1v1h1v1h-1v1h-1v2h-1v1h-1v1h-1v-1h-1v-1h-1v-2h-1v-1h-1v-1h1v-1h1v-1h1v-2h1v-1z"/>
<path d="M910 307h1v1h1v1h1v2h1v1h1v1h1v1h-1v1h-1v2h-1v1h-1v1h-1v1h-1v-1h-1v-1h-1v-1h-1v-2h-1v-1h-1v-1h1v-1h1v-1h1v-2h1v-1h1v-1z"/><path class="b" d="M910 308h1v1h1v2h1v1h1v1h1v1h-1v1h-1v2h-1v1h-1v1h-1v-1h-1v-1h-1v-2h-1v-1h-1v-1h1v-1h1v-1h1v-2h1v-1z"/>
<path d="M972 299h1v1h1v1h1v2h1v1h1v1h1v1h-1v1h-1v2h-1v1h-1v1h-1v1h-1v-1h-1v-1h-1v-1h-1v-2h-1v-1h-1v-1h1v-1h1v-1h1v-2h1v-1h1v-1z"/><path class="r" d="M972 300h1v1h1v2h1v1h1v1h1v1h-1v1h-1v2h-1v1h-1v1h-1v-1h-1v-1h-1v-2h-1v-1h-1v-1h1v-1h1v-1h1v-2h1v-1z"/>
<path d="M697 314h1v1h1v1h1v2h1v1h1v1h1v1h-1v1h-1v2h-1v1h-1v1h-1v1h-1v-1h-1v-1h-1v-1h-1v-2h-1v-1h-1v-1h1v-1h1v-1h1v-2h1v-1h1v-1z"/><path class="r" d="M697 315h1v1h1v2h1v1h1v1h1v1h-1v1h-1v2h-1v1h-1v1h-1v-1h-1v-1h-1v-2h-1v-1h-1v-1h1v-1h1v-1h1v-2h1v-1z"/>
<path d="M747 310h1v1h1v1h1v2h1v1h1v1h1v1h-1v1h-1v2h-1v1h-1v1h-1v1h-1v-1h-1v-1h-1v-1h-1v-2h-1v-1h-1v-1h1v-1h1v-1h1v-2h1v-1h1v-1z"/><path class="r" d="M747 311h1v1h1v2h1v1h1v1h1v1h-1v1h-1v2h-1v1h-1v1h-1v-1h-1v-1h-1v-2h-1v-1h-1v-1h1v-1h1v-1h1v-2h1v-1z"/>
<path d="M758 312h1v1h1v1h1v2h1v1h1v1h1v1h-1v1h-1v2h-1v1h-1v1h-1v1h-1v-1h-1v-1h-1v-1h-1v-2h-1v-1h-1v-1h1v-1h1v-1h1v-2h1v-1h1v-1z"/><path class="b" d="M758 313h1v1h1v2h1v1h1v1h1v1h-1v1h-1v2h-1v1h-1v1h-1v-1h-1v-1h-1v-2h-1v-1h-1v-1h1v-1h1v-1h1v-2h1v-1z"/>
<path d="M773 303h1v1h1v1h1v2h1v1h1v1h1v1h-1v1h-1v2h-1v1h-1v1h-1v1h-1v-1h-1v-1h-1v-1h-1v-2h-1v-1h-1v-1h1v-1h1v-1h1v-2h1v-1h1v-1z"/><path class="b" d="M773 304h1v1h1v2h1v1h1v1h1v1h-1v1h-1v2h-1v1h-1v1h-1v-1h-1v-1h-1v-2h-1v-1h-1v-1h1v-1h1v-1h1v-2h1v-1z"/>
<path d="M788 300h1v1h1v1h1v2h1v1h1v1h1v1h-1v1h-1v2h-1v1h-1v1h-1v1h-1v-1h-1v-1h-1v-1h-1v-2h-1v-1h-1v-1h1v-1h1v-1h1v-2h1v-1h1v-1z"/><path class="r" d="M788 301h1v1h1v2h1v1h1v1h1v1h-1v1h-1v2h-1v1h-1v1h-1v-1h-1v-1h-1v-2h-1v-1h-1v-1h1v-1h1v-1h1v-2h1v-1z"/>
<path d="M788 313h1v1h1v1h1v2h1v1h1v1h1v1h-1v1h-1v2h-1v1h-1v1h-1v1h-1v-1h-1v-1h-1v-1h-1v-2h-1v-1h-1v-1h1v-1h1v-1h1v-2h1v-1h1v-1z"/><path class="b" d="M788 314h1v1h1v2h1v1h1v1h1v1h-1v1h-1v2h-1v1h-1v1h-1v-1h-1v-1h-1v-2h-1v-1h-1v-1h1v-1h1v-1h1v-2h1v-1z"/>
<path d="M777 316h1v1h1v1h1v2h1v1h1v1h1v1h-1v1h-1v2h-1v1h-1v1h-1v1h-1v-1h-1v-1h-1v-1h-1v-2h-1v-1h-1v-1h1v-1h1v-1h1v-2h1v-1h1v-1z"/><path class="b" d="M777 317h1v1h1v2h1v1h1v1h1v1h-1v1h-1v2h-1v1h-1v1h-1v-1h-1v-1h-1v-2h-1v-1h-1v-1h1v-1h1v-1h1v-2h1v-1z"/>
<path d="M788 325h1v1h1v1h1v2h1v1h1v1h1v1h-1v1h-1v2h-1v1h-1v1h-1v1h-1v-1h-1v-1h-1v-1h-1v-2h-1v-1h-1v-1h1v-1h1v-1h1v-2h1v-1h1v-1z"/><path class="b" d="M788 326h1v1h1v2h1v1h1v1h1v1h-1v1h-1v2h-1v1h-1v1h-1v-1h-1v-1h-1v-2h-1v-1h-1v-1h1v-1h1v-1h1v-2h1v-1z"/>
<path d="M691 329h1v1h1v1h1v2h1v1h1v1h1v1h-1v1h-1v2h-1v1h-1v1h-1v1h-1v-1h-1v-1h-1v-1h-1v-2h-1v-1h-1v-1h1v-1h1v-1h1v-2h1v-1h1v-1z"/><path class="r" d="M691 330h1v1h1v2h1v1h1v1h1v1h-1v1h-1v2h-1v1h-1v1h-1v-1h-1v-1h-1v-2h-1v-1h-1v-1h1v-1h1v-1h1v-2h1v-1z"/>
<path d="M736 328h1v1h1v1h1v2h1v1h1v1h1v1h-1v1h-1v2h-1v1h-1v1h-1v1h-1v-1h-1v-1h-1v-1h-1v-2h-1v-1h-1v-1h1v-1h1v-1h1v-2h1v-1h1v-1z"/><path class="r" d="M736 329h1v1h1v2h1v1h1v1h1v1h-1v1h-1v2h-1v1h-1v1h-1v-1h-1v-1h-1v-2h-1v-1h-1v-1h1v-1h1v-1h1v-2h1v-1z"/>
<path d="M738 337h1v1h1v1h1v2h1v1h1v1h1v1h-1v1h-1v2h-1v1h-1v1h-1v1h-1v-1h-1v-1h-1v-1h-1v-2h-1v-1h-1v-1h1v-1h1v-1h1v-2h1v-1h1v-1z"/><path class="r" d="M738 338h1v1h1v2h1v1h1v1h1v1h-1v1h-1v2h-1v1h-1v1h-1v-1h-1v-1h-1v-2h-1v-1h-1v-1h1v-1h1v-1h1v-2h1v-1z"/>
<path d="M728 339h1v1h1v1h1v2h1v1h1v1h1v1h-1v1h-1v2h-1v1h-1v1h-1v1h-1v-1h-1v-1h-1v-1h-1v-2h-1v-1h-1v-1h1v-1h1v-1h1v-2h1v-1h1v-1z"/><path class="r" d="M728 340h1v1h1v2h1v1h1v1h1v1h-1v1h-1v2h-1v1h-1v1h-1v-1h-1v-1h-1v-2h-1v-1h-1v-1h1v-1h1v-1h1v-2h1v-1z"/>
<path d="M723 347h1v1h1v1h1v2h1v1h1v1h1v1h-1v1h-1v2h-1v1h-1v1h-1v1h-1v-1h-1v-1h-1v-1h-1v-2h-1v-1h-1v-1h1v-1h1v-1h1v-2h1v-1h1v-1z"/><path class="b" d="M723 348h1v1h1v2h1v1h1v1h1v1h-1v1h-1v2h-1v1h-1v1h-1v-1h-1v-1h-1v-2h-1v-1h-1v-1h1v-1h1v-1h1v-2h1v-1z"/>
<path d="M731 353h1v1h1v1h1v2h1v1h1v1h1v1h-1v1h-1v2h-1v1h-1v1h-1v1h-1v-1h-1v-1h-1v-1h-1v-2h-1v-1h-1v-1h1v-1h1v-1h1v-2h1v-1h1v-1z"/><path class="b" d="M731 354h1v1h1v2h1v1h1v1h1v1h-1v1h-1v2h-1v1h-1v1h-1v-1h-1v-1h-1v-2h-1v-1h-1v-1h1v-1h1v-1h1v-2h1v-1z"/>
<path d="M699 350h1v1h1v1h1v2h1v1h1v1h1v1h-1v1h-1v2h-1v1h-1v1h-1v1h-1v-1h-1v-1h-1v-1h-1v-2h-1v-1h-1v-1h1v-1h1v-1h1v-2h1v-1h1v-1z"/><path class="b" d="M699 351h1v1h1v2h1v1h1v1h1v1h-1v1h-1v2h-1v1h-1v1h-1v-1h-1v-1h-1v-2h-1v-1h-1v-1h1v-1h1v-1h1v-2h1v-1z"/>
<path d="M766 336h1v1h1v1h1v2h1v1h1v1h1v1h-1v1h-1v2h-1v1h-1v1h-1v1h-1v-1h-1v-1h-1v-1h-1v-2h-1v-1h-1v-1h1v-1h1v-1h1v-2h1v-1h1v-1z"/><path class="r" d="M766 337h1v1h1v2h1v1h1v1h1v1h-1v1h-1v2h-1v1h-1v1h-1v-1h-1v-1h-1v-2h-1v-1h-1v-1h1v-1h1v-1h1v-2h1v-1z"/>
<path d="M773 353h1v1h1v1h1v2h1v1h1v1h1v1h-1v1h-1v2h-1v1h-1v1h-1v1h-1v-1h-1v-1h-1v-1h-1v-2h-1v-1h-1v-1h1v-1h1v-1h1v-2h1v-1h1v-1z"/><path class="b" d="M773 354h1v1h1v2h1v1h1v1h1v1h-1v1h-1v2h-1v1h-1v1h-1v-1h-1v-1h-1v-2h-1v-1h-1v-1h1v-1h1v-1h1v-2h1v-1z"/>
<path d="M772 348h1v1h1v1h1v2h1v1h1v1h1v1h-1v1h-1v2h-1v1h-1v1h-1v1h-1v-1h-1v-1h-1v-1h-1v-2h-1v-1h-1v-1h1v-1h1v-1h1v-2h1v-1h1v-1z"/><path class="b" d="M772 349h1v1h1v2h1v1h1v1h1v1h-1v1h-1v2h-1v1h-1v1h-1v-1h-1v-1h-1v-2h-1v-1h-1v-1h1v-1h1v-1h1v-2h1v-1z"/>
<path d="M730 366h1v1h1v1h1v2h1v1h1v1h1v1h-1v1h-1v2h-1v1h-1v1h-1v1h-1v-1h-1v-1h-1v-1h-1v-2h-1v-1h-1v-1h1v-1h1v-1h1v-2h1v-1h1v-1z"/><path class="r" d="M730 367h1v1h1v2h1v1h1v1h1v1h-1v1h-1v2h-1v1h-1v1h-1v-1h-1v-1h-1v-2h-1v-1h-1v-1h1v-1h1v-1h1v-2h1v-1z"/>
<path d="M734 373h1v1h1v1h1v2h1v1h1v1h1v1h-1v1h-1v2h-1v1h-1v1h-1v1h-1v-1h-1v-1h-1v-1h-1v-2h-1v-1h-1v-1h1v-1h1v-1h1v-2h1v-1h1v-1z"/><path class="r" d="M734 374h1v1h1v2h1v1h1v1h1v1h-1v1h-1v2h-1v1h-1v1h-1v-1h-1v-1h-1v-2h-1v-1h-1v-1h1v-1h1v-1h1v-2h1v-1z"/>
<path d="M694 376h1v1h1v1h1v2h1v1h1v1h1v1h-1v1h-1v2h-1v1h-1v1h-1v1h-1v-1h-1v-1h-1v-1h-1v-2h-1v-1h-1v-1h1v-1h1v-1h1v-2h1v-1h1v-1z"/><path class="b" d="M694 377h1v1h1v2h1v1h1v1h1v1h-1v1h-1v2h-1v1h-1v1h-1v-1h-1v-1h-1v-2h-1v-1h-1v-1h1v-1h1v-1h1v-2h1v-1z"/>
<path d="M745 377h1v1h1v1h1v2h1v1h1v1h1v1h-1v1h-1v2h-1v1h-1v1h-1v1h-1v-1h-1v-1h-1v-1h-1v-2h-1v-1h-1v-1h1v-1h1v-1h1v-2h1v-1h1v-1z"/><path class="b" d="M745 378h1v1h1v2h1v1h1v1h1v1h-1v1h-1v2h-1v1h-1v1h-1v-1h-1v-1h-1v-2h-1v-1h-1v-1h1v-1h1v-1h1v-2h1v-1z"/>
<path d="M774 372h1v1h1v1h1v2h1v1h1v1h1v1h-1v1h-1v2h-1v1h-1v1h-1v1h-1v-1h-1v-1h-1v-1h-1v-2h-1v-1h-1v-1h1v-1h1v-1h1v-2h1v-1h1v-1z"/><path class="b" d="M774 373h1v1h1v2h1v1h1v1h1v1h-1v1h-1v2h-1v1h-1v1h-1v-1h-1v-1h-1v-2h-1v-1h-1v-1h1v-1h1v-1h1v-2h1v-1z"/>
<path d="M799 373h1v1h1v1h1v2h1v1h1v1h1v1h-1v1h-1v2h-1v1h-1v1h-1v1h-1v-1h-1v-1h-1v-1h-1v-2h-1v-1h-1v-1h1v-1h1v-1h1v-2h1v-1h1v-1z"/><path class="r" d="M799 374h1v1h1v2h1v1h1v1h1v1h-1v1h-1v2h-1v1h-1v1h-1v-1h-1v-1h-1v-2h-1v-1h-1v-1h1v-1h1v-1h1v-2h1v-1z"/>
<path d="M485 288h1v1h1v1h1v2h1v1h1v1h1v1h-1v1h-1v2h-1v1h-1v1h-1v1h-1v-1h-1v-1h-1v-1h-1v-2h-1v-1h-1v-1h1v-1h1v-1h1v-2h1v-1h1v-1z"/><path class="b" d="M485 289h1v1h1v2h1v1h1v1h1v1h-1v1h-1v2h-1v1h-1v1h-1v-1h-1v-1h-1v-2h-1v-1h-1v-1h1v-1h1v-1h1v-2h1v-1z"/>
<path d="M504 311h1v1h1v1h1v2h1v1h1v1h1v1h-1v1h-1v2h-1v1h-1v1h-1v1h-1v-1h-1v-1h-1v-1h-1v-2h-1v-1h-1v-1h1v-1h1v-1h1v-2h1v-1h1v-1z"/><path class="r" d="M504 312h1v1h1v2h1v1h1v1h1v1h-1v1h-1v2h-1v1h-1v1h-1v-1h-1v-1h-1v-2h-1v-1h-1v-1h1v-1h1v-1h1v-2h1v-1z"/>
<path d="M513 320h1v1h1v1h1v2h1v1h1v1h1v1h-1v1h-1v2h-1v1h-1v1h-1v1h-1v-1h-1v-1h-1v-1h-1v-2h-1v-1h-1v-1h1v-1h1v-1h1v-2h1v-1h1v-1z"/><path class="r" d="M513 321h1v1h1v2h1v1h1v1h1v1h-1v1h-1v2h-1v1h-1v1h-1v-1h-1v-1h-1v-2h-1v-1h-1v-1h1v-1h1v-1h1v-2h1v-1z"/>
<path d="M525 308h1v1h1v1h1v2h1v1h1v1h1v1h-1v1h-1v2h-1v1h-1v1h-1v1h-1v-1h-1v-1h-1v-1h-1v-2h-1v-1h-1v-1h1v-1h1v-1h1v-2h1v-1h1v-1z"/><path class="b" d="M525 309h1v1h1v2h1v1h1v1h1v1h-1v1h-1v2h-1v1h-1v1h-1v-1h-1v-1h-1v-2h-1v-1h-1v-1h1v-1h1v-1h1v-2h1v-1z"/>
<path d="M530 323h1v1h1v1h1v2h1v1h1v1h1v1h-1v1h-1v2h-1v1h-1v1h-1v1h-1v-1h-1v-1h-1v-1h-1v-2h-1v-1h-1v-1h1v-1h1v-1h1v-2h1v-1h1v-1z"/><path class="b" d="M530 324h1v1h1v2h1v1h1v1h1v1h-1v1h-1v2h-1v1h-1v1h-1v-1h-1v-1h-1v-2h-1v-1h-1v-1h1v-1h1v-1h1v-2h1v-1z"/>
<path d="M535 326h1v1h1v1h1v2h1v1h1v1h1v1h-1v1h-1v2h-1v1h-1v1h-1v1h-1v-1h-1v-1h-1v-1h-1v-2h-1v-1h-1v-1h1v-1h1v-1h1v-2h1v-1h1v-1z"/><path class="b" d="M535 327h1v1h1v2h1v1h1v1h1v1h-1v1h-1v2h-1v1h-1v1h-1v-1h-1v-1h-1v-2h-1v-1h-1v-1h1v-1h1v-1h1v-2h1v-1z"/>
<path d="M544 296h1v1h1v1h1v2h1v1h1v1h1v1h-1v1h-1v2h-1v1h-1v1h-1v1h-1v-1h-1v-1h-1v-1h-1v-2h-1v-1h-1v-1h1v-1h1v-1h1v-2h1v-1h1v-1z"/><path class="r" d="M544 297h1v1h1v2h1v1h1v1h1v1h-1v1h-1v2h-1v1h-1v1h-1v-1h-1v-1h-1v-2h-1v-1h-1v-1h1v-1h1v-1h1v-2h1v-1z"/>
<path d="M546 303h1v1h1v1h1v2h1v1h1v1h1v1h-1v1h-1v2h-1v1h-1v1h-1v1h-1v-1h-1v-1h-1v-1h-1v-2h-1v-1h-1v-1h1v-1h1v-1h1v-2h1v-1h1v-1z"/><path class="r" d="M546 304h1v1h1v2h1v1h1v1h1v1h-1v1h-1v2h-1v1h-1v1h-1v-1h-1v-1h-1v-2h-1v-1h-1v-1h1v-1h1v-1h1v-2h1v-1z"/>
<path d="M548 311h1v1h1v1h1v2h1v1h1v1h1v1h-1v1h-1v2h-1v1h-1v1h-1v1h-1v-1h-1v-1h-1v-1h-1v-2h-1v-1h-1v-1h1v-1h1v-1h1v-2h1v-1h1v-1z"/><path class="r" d="M548 312h1v1h1v2h1v1h1v1h1v1h-1v1h-1v2h-1v1h-1v1h-1v-1h-1v-1h-1v-2h-1v-1h-1v-1h1v-1h1v-1h1v-2h1v-1z"/>
<path d="M556 317h1v1h1v1h1v2h1v1h1v1h1v1h-1v1h-1v2h-1v1h-1v1h-1v1h-1v-1h-1v-1h-1v-1h-1v-2h-1v-1h-1v-1h1v-1h1v-1h1v-2h1v-1h1v-1z"/><path class="r" d="M556 318h1v1h1v2h1v1h1v1h1v1h-1v1h-1v2h-1v1h-1v1h-1v-1h-1v-1h-1v-2h-1v-1h-1v-1h1v-1h1v-1h1v-2h1v-1z"/>
<path d="M556 332h1v1h1v1h1v2h1v1h1v1h1v1h-1v1h-1v2h-1v1h-1v1h-1v1h-1v-1h-1v-1h-1v-1h-1v-2h-1v-1h-1v-1h1v-1h1v-1h1v-2h1v-1h1v-1z"/><path class="r" d="M556 333h1v1h1v2h1v1h1v1h1v1h-1v1h-1v2h-1v1h-1v1h-1v-1h-1v-1h-1v-2h-1v-1h-1v-1h1v-1h1v-1h1v-2h1v-1z"/>
<path d="M550 340h1v1h1v1h1v2h1v1h1v1h1v1h-1v1h-1v2h-1v1h-1v1h-1v1h-1v-1h-1v-1h-1v-1h-1v-2h-1v-1h-1v-1h1v-1h1v-1h1v-2h1v-1h1v-1z"/><path class="r" d="M550 341h1v1h1v2h1v1h1v1h1v1h-1v1h-1v2h-1v1h-1v1h-1v-1h-1v-1h-1v-2h-1v-1h-1v-1h1v-1h1v-1h1v-2h1v-1z"/>
<path d="M558 351h1v1h1v1h1v2h1v1h1v1h1v1h-1v1h-1v2h-1v1h-1v1h-1v1h-1v-1h-1v-1h-1v-1h-1v-2h-1v-1h-1v-1h1v-1h1v-1h1v-2h1v-1h1v-1z"/><path class="r" d="M558 352h1v1h1v2h1v1h1v1h1v1h-1v1h-1v2h-1v1h-1v1h-1v-1h-1v-1h-1v-2h-1v-1h-1v-1h1v-1h1v-1h1v-2h1v-1z"/>
<path d="M597 289h1v1h1v1h1v2h1v1h1v1h1v1h-1v1h-1v2h-1v1h-1v1h-1v1h-1v-1h-1v-1h-1v-1h-1v-2h-1v-1h-1v-1h1v-1h1v-1h1v-2h1v-1h1v-1z"/><path class="r" d="M597 290h1v1h1v2h1v1h1v1h1v1h-1v1h-1v2h-1v1h-1v1h-1v-1h-1v-1h-1v-2h-1v-1h-1v-1h1v-1h1v-1h1v-2h1v-1z"/>
<path d="M630 288h1v1h1v1h1v2h1v1h1v1h1v1h-1v1h-1v2h-1v1h-1v1h-1v1h-1v-1h-1v-1h-1v-1h-1v-2h-1v-1h-1v-1h1v-1h1v-1h1v-2h1v-1h1v-1z"/><path class="r" d="M630 289h1v1h1v2h1v1h1v1h1v1h-1v1h-1v2h-1v1h-1v1h-1v-1h-1v-1h-1v-2h-1v-1h-1v-1h1v-1h1v-1h1v-2h1v-1z"/>
<path d="M574 299h1v1h1v1h1v2h1v1h1v1h1v1h-1v1h-1v2h-1v1h-1v1h-1v1h-1v-1h-1v-1h-1v-1h-1v-2h-1v-1h-1v-1h1v-1h1v-1h1v-2h1v-1h1v-1z"/><path class="b" d="M574 300h1v1h1v2h1v1h1v1h1v1h-1v1h-1v2h-1v1h-1v1h-1v-1h-1v-1h-1v-2h-1v-1h-1v-1h1v-1h1v-1h1v-2h1v-1z"/>
<path d="M594 301h1v1h1v1h1v2h1v1h1v1h1v1h-1v1h-1v2h-1v1h-1v1h-1v1h-1v-1h-1v-1h-1v-1h-1v-2h-1v-1h-1v-1h1v-1h1v-1h1v-2h1v-1h1v-1z"/><path class="r" d="M594 302h1v1h1v2h1v1h1v1h1v1h-1v1h-1v2h-1v1h-1v1h-1v-1h-1v-1h-1v-2h-1v-1h-1v-1h1v-1h1v-1h1v-2h1v-1z"/>
<path d="M604 303h1v1h1v1h1v2h1v1h1v1h1v1h-1v1h-1v2h-1v1h-1v1h-1v1h-1v-1h-1v-1h-1v-1h-1v-2h-1v-1h-1v-1h1v-1h1v-1h1v-2h1v-1h1v-1z"/><path class="b" d="M604 304h1v1h1v2h1v1h1v1h1v1h-1v1h-1v2h-1v1h-1v1h-1v-1h-1v-1h-1v-2h-1v-1h-1v-1h1v-1h1v-1h1v-2h1v-1z"/>
<path d="M618 298h1v1h1v1h1v2h1v1h1v1h1v1h-1v1h-1v2h-1v1h-1v1h-1v1h-1v-1h-1v-1h-1v-1h-1v-2h-1v-1h-1v-1h1v-1h1v-1h1v-2h1v-1h1v-1z"/><path class="r" d="M618 299h1v1h1v2h1v1h1v1h1v1h-1v1h-1v2h-1v1h-1v1h-1v-1h-1v-1h-1v-2h-1v-1h-1v-1h1v-1h1v-1h1v-2h1v-1z"/>
<path d="M624 308h1v1h1v1h1v2h1v1h1v1h1v1h-1v1h-1v2h-1v1h-1v1h-1v1h-1v-1h-1v-1h-1v-1h-1v-2h-1v-1h-1v-1h1v-1h1v-1h1v-2h1v-1h1v-1z"/><path class="b" d="M624 309h1v1h1v2h1v1h1v1h1v1h-1v1h-1v2h-1v1h-1v1h-1v-1h-1v-1h-1v-2h-1v-1h-1v-1h1v-1h1v-1h1v-2h1v-1z"/>
<path d="M651 302h1v1h1v1h1v2h1v1h1v1h1v1h-1v1h-1v2h-1v1h-1v1h-1v1h-1v-1h-1v-1h-1v-1h-1v-2h-1v-1h-1v-1h1v-1h1v-1h1v-2h1v-1h1v-1z"/><path class="b" d="M651 303h1v1h1v2h1v1h1v1h1v1h-1v1h-1v2h-1v1h-1v1h-1v-1h-1v-1h-1v-2h-1v-1h-1v-1h1v-1h1v-1h1v-2h1v-1z"/>
<path d="M584 309h1v1h1v1h1v2h1v1h1v1h1v1h-1v1h-1v2h-1v1h-1v1h-1v1h-1v-1h-1v-1h-1v-1h-1v-2h-1v-1h-1v-1h1v-1h1v-1h1v-2h1v-1h1v-1z"/><path class="r" d="M584 310h1v1h1v2h1v1h1v1h1v1h-1v1h-1v2h-1v1h-1v1h-1v-1h-1v-1h-1v-2h-1v-1h-1v-1h1v-1h1v-1h1v-2h1v-1z"/>
<path d="M566 312h1v1h1v1h1v2h1v1h1v1h1v1h-1v1h-1v2h-1v1h-1v1h-1v1h-1v-1h-1v-1h-1v-1h-1v-2h-1v-1h-1v-1h1v-1h1v-1h1v-2h1v-1h1v-1z"/><path class="r" d="M566 313h1v1h1v2h1v1h1v1h1v1h-1v1h-1v2h-1v1h-1v1h-1v-1h-1v-1h-1v-2h-1v-1h-1v-1h1v-1h1v-1h1v-2h1v-1z"/>
<path d="M573 318h1v1h1v1h1v2h1v1h1v1h1v1h-1v1h-1v2h-1v1h-1v1h-1v1h-1v-1h-1v-1h-1v-1h-1v-2h-1v-1h-1v-1h1v-1h1v-1h1v-2h1v-1h1v-1z"/><path class="r" d="M573 319h1v1h1v2h1v1h1v1h1v1h-1v1h-1v2h-1v1h-1v1h-1v-1h-1v-1h-1v-2h-1v-1h-1v-1h1v-1h1v-1h1v-2h1v-1z"/>
<path d="M573 328h1v1h1v1h1v2h1v1h1v1h1v1h-1v1h-1v2h-1v1h-1v1h-1v1h-1v-1h-1v-1h-1v-1h-1v-2h-1v-1h-1v-1h1v-1h1v-1h1v-2h1v-1h1v-1z"/><path class="r" d="M573 329h1v1h1v2h1v1h1v1h1v1h-1v1h-1v2h-1v1h-1v1h-1v-1h-1v-1h-1v-2h-1v-1h-1v-1h1v-1h1v-1h1v-2h1v-1z"/>
<path d="M606 325h1v1h1v1h1v2h1v1h1v1h1v1h-1v1h-1v2h-1v1h-1v1h-1v1h-1v-1h-1v-1h-1v-1h-1v-2h-1v-1h-1v-1h1v-1h1v-1h1v-2h1v-1h1v-1z"/><path class="b" d="M606 326h1v1h1v2h1v1h1v1h1v1h-1v1h-1v2h-1v1h-1v1h-1v-1h-1v-1h-1v-2h-1v-1h-1v-1h1v-1h1v-1h1v-2h1v-1z"/>
<path d="M614 329h1v1h1v1h1v2h1v1h1v1h1v1h-1v1h-1v2h-1v1h-1v1h-1v1h-1v-1h-1v-1h-1v-1h-1v-2h-1v-1h-1v-1h1v-1h1v-1h1v-2h1v-1h1v-1z"/><path class="b" d="M614 330h1v1h1v2h1v1h1v1h1v1h-1v1h-1v2h-1v1h-1v1h-1v-1h-1v-1h-1v-2h-1v-1h-1v-1h1v-1h1v-1h1v-2h1v-1z"/>
<path d="M648 324h1v1h1v1h1v2h1v1h1v1h1v1h-1v1h-1v2h-1v1h-1v1h-1v1h-1v-1h-1v-1h-1v-1h-1v-2h-1v-1h-1v-1h1v-1h1v-1h1v-2h1v-1h1v-1z"/><path class="r" d="M648 325h1v1h1v2h1v1h1v1h1v1h-1v1h-1v2h-1v1h-1v1h-1v-1h-1v-1h-1v-2h-1v-1h-1v-1h1v-1h1v-1h1v-2h1v-1z"/>
<path d="M655 327h1v1h1v1h1v2h1v1h1v1h1v1h-1v1h-1v2h-1v1h-1v1h-1v1h-1v-1h-1v-1h-1v-1h-1v-2h-1v-1h-1v-1h1v-1h1v-1h1v-2h1v-1h1v-1z"/><path class="r" d="M655 328h1v1h1v2h1v1h1v1h1v1h-1v1h-1v2h-1v1h-1v1h-1v-1h-1v-1h-1v-2h-1v-1h-1v-1h1v-1h1v-1h1v-2h1v-1z"/>
<path d="M666 327h1v1h1v1h1v2h1v1h1v1h1v1h-1v1h-1v2h-1v1h-1v1h-1v1h-1v-1h-1v-1h-1v-1h-1v-2h-1v-1h-1v-1h1v-1h1v-1h1v-2h1v-1h1v-1z"/><path class="b" d="M666 328h1v1h1v2h1v1h1v1h1v1h-1v1h-1v2h-1v1h-1v1h-1v-1h-1v-1h-1v-2h-1v-1h-1v-1h1v-1h1v-1h1v-2h1v-1z"/>
<path d="M641 337h1v1h1v1h1v2h1v1h1v1h1v1h-1v1h-1v2h-1v1h-1v1h-1v1h-1v-1h-1v-1h-1v-1h-1v-2h-1v-1h-1v-1h1v-1h1v-1h1v-2h1v-1h1v-1z"/><path class="b" d="M641 338h1v1h1v2h1v1h1v1h1v1h-1v1h-1v2h-1v1h-1v1h-1v-1h-1v-1h-1v-2h-1v-1h-1v-1h1v-1h1v-1h1v-2h1v-1z"/>
<path d="M660 338h1v1h1v1h1v2h1v1h1v1h1v1h-1v1h-1v2h-1v1h-1v1h-1v1h-1v-1h-1v-1h-1v-1h-1v-2h-1v-1h-1v-1h1v-1h1v-1h1v-2h1v-1h1v-1z"/><path class="b" d="M660 339h1v1h1v2h1v1h1v1h1v1h-1v1h-1v2h-1v1h-1v1h-1v-1h-1v-1h-1v-2h-1v-1h-1v-1h1v-1h1v-1h1v-2h1v-1z"/>
<path d="M568 340h1v1h1v1h1v2h1v1h1v1h1v1h-1v1h-1v2h-1v1h-1v1h-1v1h-1v-1h-1v-1h-1v-1h-1v-2h-1v-1h-1v-1h1v-1h1v-1h1v-2h1v-1h1v-1z"/><path class="r" d="M568 341h1v1h1v2h1v1h1v1h1v1h-1v1h-1v2h-1v1h-1v1h-1v-1h-1v-1h-1v-2h-1v-1h-1v-1h1v-1h1v-1h1v-2h1v-1z"/>
<path d="M568 347h1v1h1v1h1v2h1v1h1v1h1v1h-1v1h-1v2h-1v1h-1v1h-1v1h-1v-1h-1v-1h-1v-1h-1v-2h-1v-1h-1v-1h1v-1h1v-1h1v-2h1v-1h1v-1z"/><path class="r" d="M568 348h1v1h1v2h1v1h1v1h1v1h-1v1h-1v2h-1v1h-1v1h-1v-1h-1v-1h-1v-2h-1v-1h-1v-1h1v-1h1v-1h1v-2h1v-1z"/>
<path d="M582 334h1v1h1v1h1v2h1v1h1v1h1v1h-1v1h-1v2h-1v1h-1v1h-1v1h-1v-1h-1v-1h-1v-1h-1v-2h-1v-1h-1v-1h1v-1h1v-1h1v-2h1v-1h1v-1z"/><path class="r" d="M582 335h1v1h1v2h1v1h1v1h1v1h-1v1h-1v2h-1v1h-1v1h-1v-1h-1v-1h-1v-2h-1v-1h-1v-1h1v-1h1v-1h1v-2h1v-1z"/>
<path d="M585 336h1v1h1v1h1v2h1v1h1v1h1v1h-1v1h-1v2h-1v1h-1v1h-1v1h-1v-1h-1v-1h-1v-1h-1v-2h-1v-1h-1v-1h1v-1h1v-1h1v-2h1v-1h1v-1z"/><path class="r" d="M585 337h1v1h1v2h1v1h1v1h1v1h-1v1h-1v2h-1v1h-1v1h-1v-1h-1v-1h-1v-2h-1v-1h-1v-1h1v-1h1v-1h1v-2h1v-1z"/>
<path d="M580 345h1v1h1v1h1v2h1v1h1v1h1v1h-1v1h-1v2h-1v1h-1v1h-1v1h-1v-1h-1v-1h-1v-1h-1v-2h-1v-1h-1v-1h1v-1h1v-1h1v-2h1v-1h1v-1z"/><path class="b" d="M580 346h1v1h1v2h1v1h1v1h1v1h-1v1h-1v2h-1v1h-1v1h-1v-1h-1v-1h-1v-2h-1v-1h-1v-1h1v-1h1v-1h1v-2h1v-1z"/>
<path d="M593 337h1v1h1v1h1v2h1v1h1v1h1v1h-1v1h-1v2h-1v1h-1v1h-1v1h-1v-1h-1v-1h-1v-1h-1v-2h-1v-1h-1v-1h1v-1h1v-1h1v-2h1v-1h1v-1z"/><path class="r" d="M593 338h1v1h1v2h1v1h1v1h1v1h-1v1h-1v2h-1v1h-1v1h-1v-1h-1v-1h-1v-2h-1v-1h-1v-1h1v-1h1v-1h1v-2h1v-1z"/>
<path d="M588 347h1v1h1v1h1v2h1v1h1v1h1v1h-1v1h-1v2h-1v1h-1v1h-1v1h-1v-1h-1v-1h-1v-1h-1v-2h-1v-1h-1v-1h1v-1h1v-1h1v-2h1v-1h1v-1z"/><path class="b" d="M588 348h1v1h1v2h1v1h1v1h1v1h-1v1h-1v2h-1v1h-1v1h-1v-1h-1v-1h-1v-2h-1v-1h-1v-1h1v-1h1v-1h1v-2h1v-1z"/>
<path d="M585 353h1v1h1v1h1v2h1v1h1v1h1v1h-1v1h-1v2h-1v1h-1v1h-1v1h-1v-1h-1v-1h-1v-1h-1v-2h-1v-1h-1v-1h1v-1h1v-1h1v-2h1v-1h1v-1z"/><path class="b" d="M585 354h1v1h1v2h1v1h1v1h1v1h-1v1h-1v2h-1v1h-1v1h-1v-1h-1v-1h-1v-2h-1v-1h-1v-1h1v-1h1v-1h1v-2h1v-1z"/>
<path d="M606 343h1v1h1v1h1v2h1v1h1v1h1v1h-1v1h-1v2h-1v1h-1v1h-1v1h-1v-1h-1v-1h-1v-1h-1v-2h-1v-1h-1v-1h1v-1h1v-1h1v-2h1v-1h1v-1z"/><path class="r" d="M606 344h1v1h1v2h1v1h1v1h1v1h-1v1h-1v2h-1v1h-1v1h-1v-1h-1v-1h-1v-2h-1v-1h-1v-1h1v-1h1v-1h1v-2h1v-1z"/>
<path d="M585 361h1v1h1v1h1v2h1v1h1v1h1v1h-1v1h-1v2h-1v1h-1v1h-1v1h-1v-1h-1v-1h-1v-1h-1v-2h-1v-1h-1v-1h1v-1h1v-1h1v-2h1v-1h1v-1z"/><path class="b" d="M585 362h1v1h1v2h1v1h1v1h1v1h-1v1h-1v2h-1v1h-1v1h-1v-1h-1v-1h-1v-2h-1v-1h-1v-1h1v-1h1v-1h1v-2h1v-1z"/>
<path d="M591 363h1v1h1v1h1v2h1v1h1v1h1v1h-1v1h-1v2h-1v1h-1v1h-1v1h-1v-1h-1v-1h-1v-1h-1v-2h-1v-1h-1v-1h1v-1h1v-1h1v-2h1v-1h1v-1z"/><path class="r" d="M591 364h1v1h1v2h1v1h1v1h1v1h-1v1h-1v2h-1v1h-1v1h-1v-1h-1v-1h-1v-2h-1v-1h-1v-1h1v-1h1v-1h1v-2h1v-1z"/>
<path d="M576 369h1v1h1v1h1v2h1v1h1v1h1v1h-1v1h-1v2h-1v1h-1v1h-1v1h-1v-1h-1v-1h-1v-1h-1v-2h-1v-1h-1v-1h1v-1h1v-1h1v-2h1v-1h1v-1z"/><path class="b" d="M576 370h1v1h1v2h1v1h1v1h1v1h-1v1h-1v2h-1v1h-1v1h-1v-1h-1v-1h-1v-2h-1v-1h-1v-1h1v-1h1v-1h1v-2h1v-1z"/>
<path d="M582 369h1v1h1v1h1v2h1v1h1v1h1v1h-1v1h-1v2h-1v1h-1v1h-1v1h-1v-1h-1v-1h-1v-1h-1v-2h-1v-1h-1v-1h1v-1h1v-1h1v-2h1v-1h1v-1z"/><path class="b" d="M582 370h1v1h1v2h1v1h1v1h1v1h-1v1h-1v2h-1v1h-1v1h-1v-1h-1v-1h-1v-2h-1v-1h-1v-1h1v-1h1v-1h1v-2h1v-1z"/>
<path d="M595 367h1v1h1v1h1v2h1v1h1v1h1v1h-1v1h-1v2h-1v1h-1v1h-1v1h-1v-1h-1v-1h-1v-1h-1v-2h-1v-1h-1v-1h1v-1h1v-1h1v-2h1v-1h1v-1z"/><path class="b" d="M595 368h1v1h1v2h1v1h1v1h1v1h-1v1h-1v2h-1v1h-1v1h-1v-1h-1v-1h-1v-2h-1v-1h-1v-1h1v-1h1v-1h1v-2h1v-1z"/>
<path d="M600 369h1v1h1v1h1v2h1v1h1v1h1v1h-1v1h-1v2h-1v1h-1v1h-1v1h-1v-1h-1v-1h-1v-1h-1v-2h-1v-1h-1v-1h1v-1h1v-1h1v-2h1v-1h1v-1z"/><path class="b" d="M600 370h1v1h1v2h1v1h1v1h1v1h-1v1h-1v2h-1v1h-1v1h-1v-1h-1v-1h-1v-2h-1v-1h-1v-1h1v-1h1v-1h1v-2h1v-1z"/>
<path d="M608 371h1v1h1v1h1v2h1v1h1v1h1v1h-1v1h-1v2h-1v1h-1v1h-1v1h-1v-1h-1v-1h-1v-1h-1v-2h-1v-1h-1v-1h1v-1h1v-1h1v-2h1v-1h1v-1z"/><path class="b" d="M608 372h1v1h1v2h1v1h1v1h1v1h-1v1h-1v2h-1v1h-1v1h-1v-1h-1v-1h-1v-2h-1v-1h-1v-1h1v-1h1v-1h1v-2h1v-1z"/>
<path d="M589 377h1v1h1v1h1v2h1v1h1v1h1v1h-1v1h-1v2h-1v1h-1v1h-1v1h-1v-1h-1v-1h-1v-1h-1v-2h-1v-1h-1v-1h1v-1h1v-1h1v-2h1v-1h1v-1z"/><path class="b" d="M589 378h1v1h1v2h1v1h1v1h1v1h-1v1h-1v2h-1v1h-1v1h-1v-1h-1v-1h-1v-2h-1v-1h-1v-1h1v-1h1v-1h1v-2h1v-1z"/>
<path d="M619 355h1v1h1v1h1v2h1v1h1v1h1v1h-1v1h-1v2h-1v1h-1v1h-1v1h-1v-1h-1v-1h-1v-1h-1v-2h-1v-1h-1v-1h1v-1h1v-1h1v-2h1v-1h1v-1z"/><path class="r" d="M619 356h1v1h1v2h1v1h1v1h1v1h-1v1h-1v2h-1v1h-1v1h-1v-1h-1v-1h-1v-2h-1v-1h-1v-1h1v-1h1v-1h1v-2h1v-1z"/>
<path d="M626 357h1v1h1v1h1v2h1v1h1v1h1v1h-1v1h-1v2h-1v1h-1v1h-1v1h-1v-1h-1v-1h-1v-1h-1v-2h-1v-1h-1v-1h1v-1h1v-1h1v-2h1v-1h1v-1z"/><path class="r" d="M626 358h1v1h1v2h1v1h1v1h1v1h-1v1h-1v2h-1v1h-1v1h-1v-1h-1v-1h-1v-2h-1v-1h-1v-1h1v-1h1v-1h1v-2h1v-1z"/>
<path d="M620 364h1v1h1v1h1v2h1v1h1v1h1v1h-1v1h-1v2h-1v1h-1v1h-1v1h-1v-1h-1v-1h-1v-1h-1v-2h-1v-1h-1v-1h1v-1h1v-1h1v-2h1v-1h1v-1z"/><path class="r" d="M620 365h1v1h1v2h1v1h1v1h1v1h-1v1h-1v2h-1v1h-1v1h-1v-1h-1v-1h-1v-2h-1v-1h-1v-1h1v-1h1v-1h1v-2h1v-1z"/>
<path d="M640 364h1v1h1v1h1v2h1v1h1v1h1v1h-1v1h-1v2h-1v1h-1v1h-1v1h-1v-1h-1v-1h-1v-1h-1v-2h-1v-1h-1v-1h1v-1h1v-1h1v-2h1v-1h1v-1z"/><path class="b" d="M640 365h1v1h1v2h1v1h1v1h1v1h-1v1h-1v2h-1v1h-1v1h-1v-1h-1v-1h-1v-2h-1v-1h-1v-1h1v-1h1v-1h1v-2h1v-1z"/>
<path d="M617 376h1v1h1v1h1v2h1v1h1v1h1v1h-1v1h-1v2h-1v1h-1v1h-1v1h-1v-1h-1v-1h-1v-1h-1v-2h-1v-1h-1v-1h1v-1h1v-1h1v-2h1v-1h1v-1z"/><path class="b" d="M617 377h1v1h1v2h1v1h1v1h1v1h-1v1h-1v2h-1v1h-1v1h-1v-1h-1v-1h-1v-2h-1v-1h-1v-1h1v-1h1v-1h1v-2h1v-1z"/>
<path d="M611 384h1v1h1v1h1v2h1v1h1v1h1v1h-1v1h-1v2h-1v1h-1v1h-1v1h-1v-1h-1v-1h-1v-1h-1v-2h-1v-1h-1v-1h1v-1h1v-1h1v-2h1v-1h1v-1z"/><path class="r" d="M611 385h1v1h1v2h1v1h1v1h1v1h-1v1h-1v2h-1v1h-1v1h-1v-1h-1v-1h-1v-2h-1v-1h-1v-1h1v-1h1v-1h1v-2h1v-1z"/>
<path d="M614 394h1v1h1v1h1v2h1v1h1v1h1v1h-1v1h-1v2h-1v1h-1v1h-1v1h-1v-1h-1v-1h-1v-1h-1v-2h-1v-1h-1v-1h1v-1h1v-1h1v-2h1v-1h1v-1z"/><path class="r" d="M614 395h1v1h1v2h1v1h1v1h1v1h-1v1h-1v2h-1v1h-1v1h-1v-1h-1v-1h-1v-2h-1v-1h-1v-1h1v-1h1v-1h1v-2h1v-1z"/>
<path d="M594 396h1v1h1v1h1v2h1v1h1v1h1v1h-1v1h-1v2h-1v1h-1v1h-1v1h-1v-1h-1v-1h-1v-1h-1v-2h-1v-1h-1v-1h1v-1h1v-1h1v-2h1v-1h1v-1z"/><path class="b" d="M594 397h1v1h1v2h1v1h1v1h1v1h-1v1h-1v2h-1v1h-1v1h-1v-1h-1v-1h-1v-2h-1v-1h-1v-1h1v-1h1v-1h1v-2h1v-1z"/>
<path d="M624 392h1v1h1v1h1v2h1v1h1v1h1v1h-1v1h-1v2h-1v1h-1v1h-1v1h-1v-1h-1v-1h-1v-1h-1v-2h-1v-1h-1v-1h1v-1h1v-1h1v-2h1v-1h1v-1z"/><path class="r" d="M624 393h1v1h1v2h1v1h1v1h1v1h-1v1h-1v2h-1v1h-1v1h-1v-1h-1v-1h-1v-2h-1v-1h-1v-1h1v-1h1v-1h1v-2h1v-1z"/>
<path d="M633 392h1v1h1v1h1v2h1v1h1v1h1v1h-1v1h-1v2h-1v1h-1v1h-1v1h-1v-1h-1v-1h-1v-1h-1v-2h-1v-1h-1v-1h1v-1h1v-1h1v-2h1v-1h1v-1z"/><path class="b" d="M633 393h1v1h1v2h1v1h1v1h1v1h-1v1h-1v2h-1v1h-1v1h-1v-1h-1v-1h-1v-2h-1v-1h-1v-1h1v-1h1v-1h1v-2h1v-1z"/>
<path d="M641 390h1v1h1v1h1v2h1v1h1v1h1v1h-1v1h-1v2h-1v1h-1v1h-1v1h-1v-1h-1v-1h-1v-1h-1v-2h-1v-1h-1v-1h1v-1h1v-1h1v-2h1v-1h1v-1z"/><path class="r" d="M641 391h1v1h1v2h1v1h1v1h1v1h-1v1h-1v2h-1v1h-1v1h-1v-1h-1v-1h-1v-2h-1v-1h-1v-1h1v-1h1v-1h1v-2h1v-1z"/>
<path d="M635 399h1v1h1v1h1v2h1v1h1v1h1v1h-1v1h-1v2h-1v1h-1v1h-1v1h-1v-1h-1v-1h-1v-1h-1v-2h-1v-1h-1v-1h1v-1h1v-1h1v-2h1v-1h1v-1z"/><path class="b" d="M635 400h1v1h1v2h1v1h1v1h1v1h-1v1h-1v2h-1v1h-1v1h-1v-1h-1v-1h-1v-2h-1v-1h-1v-1h1v-1h1v-1h1v-2h1v-1z"/>
<path d="M642 399h1v1h1v1h1v2h1v1h1v1h1v1h-1v1h-1v2h-1v1h-1v1h-1v1h-1v-1h-1v-1h-1v-1h-1v-2h-1v-1h-1v-1h1v-1h1v-1h1v-2h1v-1h1v-1z"/><path class="b" d="M642 400h1v1h1v2h1v1h1v1h1v1h-1v1h-1v2h-1v1h-1v1h-1v-1h-1v-1h-1v-2h-1v-1h-1v-1h1v-1h1v-1h1v-2h1v-1z"/>
<path d="M650 391h1v1h1v1h1v2h1v1h1v1h1v1h-1v1h-1v2h-1v1h-1v1h-1v1h-1v-1h-1v-1h-1v-1h-1v-2h-1v-1h-1v-1h1v-1h1v-1h1v-2h1v-1h1v-1z"/><path class="r" d="M650 392h1v1h1v2h1v1h1v1h1v1h-1v1h-1v2h-1v1h-1v1h-1v-1h-1v-1h-1v-2h-1v-1h-1v-1h1v-1h1v-1h1v-2h1v-1z"/>
<path d="M648 396h1v1h1v1h1v2h1v1h1v1h1v1h-1v1h-1v2h-1v1h-1v1h-1v1h-1v-1h-1v-1h-1v-1h-1v-2h-1v-1h-1v-1h1v-1h1v-1h1v-2h1v-1h1v-1z"/><path class="r" d="M648 397h1v1h1v2h1v1h1v1h1v1h-1v1h-1v2h-1v1h-1v1h-1v-1h-1v-1h-1v-2h-1v-1h-1v-1h1v-1h1v-1h1v-2h1v-1z"/>
<path d="M657 394h1v1h1v1h1v2h1v1h1v1h1v1h-1v1h-1v2h-1v1h-1v1h-1v1h-1v-1h-1v-1h-1v-1h-1v-2h-1v-1h-1v-1h1v-1h1v-1h1v-2h1v-1h1v-1z"/><path class="r" d="M657 395h1v1h1v2h1v1h1v1h1v1h-1v1h-1v2h-1v1h-1v1h-1v-1h-1v-1h-1v-2h-1v-1h-1v-1h1v-1h1v-1h1v-2h1v-1z"/>
<path d="M658 399h1v1h1v1h1v2h1v1h1v1h1v1h-1v1h-1v2h-1v1h-1v1h-1v1h-1v-1h-1v-1h-1v-1h-1v-2h-1v-1h-1v-1h1v-1h1v-1h1v-2h1v-1h1v-1z"/><path class="r" d="M658 400h1v1h1v2h1v1h1v1h1v1h-1v1h-1v2h-1v1h-1v1h-1v-1h-1v-1h-1v-2h-1v-1h-1v-1h1v-1h1v-1h1v-2h1v-1z"/>
<path d="M662 405h1v1h1v1h1v2h1v1h1v1h1v1h-1v1h-1v2h-1v1h-1v1h-1v1h-1v-1h-1v-1h-1v-1h-1v-2h-1v-1h-1v-1h1v-1h1v-1h1v-2h1v-1h1v-1z"/><path class="b" d="M662 406h1v1h1v2h1v1h1v1h1v1h-1v1h-1v2h-1v1h-1v1h-1v-1h-1v-1h-1v-2h-1v-1h-1v-1h1v-1h1v-1h1v-2h1v-1z"/>
<path d="M603 406h1v1h1v1h1v2h1v1h1v1h1v1h-1v1h-1v2h-1v1h-1v1h-1v1h-1v-1h-1v-1h-1v-1h-1v-2h-1v-1h-1v-1h1v-1h1v-1h1v-2h1v-1h1v-1z"/><path class="r" d="M603 407h1v1h1v2h1v1h1v1h1v1h-1v1h-1v2h-1v1h-1v1h-1v-1h-1v-1h-1v-2h-1v-1h-1v-1h1v-1h1v-1h1v-2h1v-1z"/>
<path d="M621 406h1v1h1v1h1v2h1v1h1v1h1v1h-1v1h-1v2h-1v1h-1v1h-1v1h-1v-1h-1v-1h-1v-1h-1v-2h-1v-1h-1v-1h1v-1h1v-1h1v-2h1v-1h1v-1z"/><path class="b" d="M621 407h1v1h1v2h1v1h1v1h1v1h-1v1h-1v2h-1v1h-1v1h-1v-1h-1v-1h-1v-2h-1v-1h-1v-1h1v-1h1v-1h1v-2h1v-1z"/>
<path d="M633 409h1v1h1v1h1v2h1v1h1v1h1v1h-1v1h-1v2h-1v1h-1v1h-1v1h-1v-1h-1v-1h-1v-1h-1v-2h-1v-1h-1v-1h1v-1h1v-1h1v-2h1v-1h1v-1z"/><path class="b" d="M633 410h1v1h1v2h1v1h1v1h1v1h-1v1h-1v2h-1v1h-1v1h-1v-1h-1v-1h-1v-2h-1v-1h-1v-1h1v-1h1v-1h1v-2h1v-1z"/>
<path d="M649 417h1v1h1v1h1v2h1v1h1v1h1v1h-1v1h-1v2h-1v1h-1v1h-1v1h-1v-1h-1v-1h-1v-1h-1v-2h-1v-1h-1v-1h1v-1h1v-1h1v-2h1v-1h1v-1z"/><path class="b" d="M649 418h1v1h1v2h1v1h1v1h1v1h-1v1h-1v2h-1v1h-1v1h-1v-1h-1v-1h-1v-2h-1v-1h-1v-1h1v-1h1v-1h1v-2h1v-1z"/>
<path d="M634 425h1v1h1v1h1v2h1v1h1v1h1v1h-1v1h-1v2h-1v1h-1v1h-1v1h-1v-1h-1v-1h-1v-1h-1v-2h-1v-1h-1v-1h1v-1h1v-1h1v-2h1v-1h1v-1z"/><path class="b" d="M634 426h1v1h1v2h1v1h1v1h1v1h-1v1h-1v2h-1v1h-1v1h-1v-1h-1v-1h-1v-2h-1v-1h-1v-1h1v-1h1v-1h1v-2h1v-1z"/>
<path d="M671 387h1v1h1v1h1v2h1v1h1v1h1v1h-1v1h-1v2h-1v1h-1v1h-1v1h-1v-1h-1v-1h-1v-1h-1v-2h-1v-1h-1v-1h1v-1h1v-1h1v-2h1v-1h1v-1z"/><path class="r" d="M671 388h1v1h1v2h1v1h1v1h1v1h-1v1h-1v2h-1v1h-1v1h-1v-1h-1v-1h-1v-2h-1v-1h-1v-1h1v-1h1v-1h1v-2h1v-1z"/>
<path d="M673 417h1v1h1v1h1v2h1v1h1v1h1v1h-1v1h-1v2h-1v1h-1v1h-1v1h-1v-1h-1v-1h-1v-1h-1v-2h-1v-1h-1v-1h1v-1h1v-1h1v-2h1v-1h1v-1z"/><path class="r" d="M673 418h1v1h1v2h1v1h1v1h1v1h-1v1h-1v2h-1v1h-1v1h-1v-1h-1v-1h-1v-2h-1v-1h-1v-1h1v-1h1v-1h1v-2h1v-1z"/>
<path d="M651 429h1v1h1v1h1v2h1v1h1v1h1v1h-1v1h-1v2h-1v1h-1v1h-1v1h-1v-1h-1v-1h-1v-1h-1v-2h-1v-1h-1v-1h1v-1h1v-1h1v-2h1v-1h1v-1z"/><path class="r" d="M651 430h1v1h1v2h1v1h1v1h1v1h-1v1h-1v2h-1v1h-1v1h-1v-1h-1v-1h-1v-2h-1v-1h-1v-1h1v-1h1v-1h1v-2h1v-1z"/>
<path d="M661 429h1v1h1v1h1v2h1v1h1v1h1v1h-1v1h-1v2h-1v1h-1v1h-1v1h-1v-1h-1v-1h-1v-1h-1v-2h-1v-1h-1v-1h1v-1h1v-1h1v-2h1v-1h1v-1z"/><path class="r" d="M661 430h1v1h1v2h1v1h1v1h1v1h-1v1h-1v2h-1v1h-1v1h-1v-1h-1v-1h-1v-2h-1v-1h-1v-1h1v-1h1v-1h1v-2h1v-1z"/>
<path d="M657 435h1v1h1v1h1v2h1v1h1v1h1v1h-1v1h-1v2h-1v1h-1v1h-1v1h-1v-1h-1v-1h-1v-1h-1v-2h-1v-1h-1v-1h1v-1h1v-1h1v-2h1v-1h1v-1z"/><path class="b" d="M657 436h1v1h1v2h1v1h1v1h1v1h-1v1h-1v2h-1v1h-1v1h-1v-1h-1v-1h-1v-2h-1v-1h-1v-1h1v-1h1v-1h1v-2h1v-1z"/>
<path d="M653 439h1v1h1v1h1v2h1v1h1v1h1v1h-1v1h-1v2h-1v1h-1v1h-1v1h-1v-1h-1v-1h-1v-1h-1v-2h-1v-1h-1v-1h1v-1h1v-1h1v-2h1v-1h1v-1z"/><path class="b" d="M653 440h1v1h1v2h1v1h1v1h1v1h-1v1h-1v2h-1v1h-1v1h-1v-1h-1v-1h-1v-2h-1v-1h-1v-1h1v-1h1v-1h1v-2h1v-1z"/>
<path d="M668 431h1v1h1v1h1v2h1v1h1v1h1v1h-1v1h-1v2h-1v1h-1v1h-1v1h-1v-1h-1v-1h-1v-1h-1v-2h-1v-1h-1v-1h1v-1h1v-1h1v-2h1v-1h1v-1z"/><path class="b" d="M668 432h1v1h1v2h1v1h1v1h1v1h-1v1h-1v2h-1v1h-1v1h-1v-1h-1v-1h-1v-2h-1v-1h-1v-1h1v-1h1v-1h1v-2h1v-1z"/>
<path d="M680 430h1v1h1v1h1v2h1v1h1v1h1v1h-1v1h-1v2h-1v1h-1v1h-1v1h-1v-1h-1v-1h-1v-1h-1v-2h-1v-1h-1v-1h1v-1h1v-1h1v-2h1v-1h1v-1z"/><path class="r" d="M680 431h1v1h1v2h1v1h1v1h1v1h-1v1h-1v2h-1v1h-1v1h-1v-1h-1v-1h-1v-2h-1v-1h-1v-1h1v-1h1v-1h1v-2h1v-1z"/>
<path d="M694 376h1v1h1v1h1v2h1v1h1v1h1v1h-1v1h-1v2h-1v1h-1v1h-1v1h-1v-1h-1v-1h-1v-1h-1v-2h-1v-1h-1v-1h1v-1h1v-1h1v-2h1v-1h1v-1z"/><path class="b" d="M694 377h1v1h1v2h1v1h1v1h1v1h-1v1h-1v2h-1v1h-1v1h-1v-1h-1v-1h-1v-2h-1v-1h-1v-1h1v-1h1v-1h1v-2h1v-1z"/>
<path d="M688 388h1v1h1v1h1v2h1v1h1v1h1v1h-1v1h-1v2h-1v1h-1v1h-1v1h-1v-1h-1v-1h-1v-1h-1v-2h-1v-1h-1v-1h1v-1h1v-1h1v-2h1v-1h1v-1z"/><path class="r" d="M688 389h1v1h1v2h1v1h1v1h1v1h-1v1h-1v2h-1v1h-1v1h-1v-1h-1v-1h-1v-2h-1v-1h-1v-1h1v-1h1v-1h1v-2h1v-1z"/>
<path d="M690 386h1v1h1v1h1v2h1v1h1v1h1v1h-1v1h-1v2h-1v1h-1v1h-1v1h-1v-1h-1v-1h-1v-1h-1v-2h-1v-1h-1v-1h1v-1h1v-1h1v-2h1v-1h1v-1z"/><path class="r" d="M690 387h1v1h1v2h1v1h1v1h1v1h-1v1h-1v2h-1v1h-1v1h-1v-1h-1v-1h-1v-2h-1v-1h-1v-1h1v-1h1v-1h1v-2h1v-1z"/>
<path d="M700 384h1v1h1v1h1v2h1v1h1v1h1v1h-1v1h-1v2h-1v1h-1v1h-1v1h-1v-1h-1v-1h-1v-1h-1v-2h-1v-1h-1v-1h1v-1h1v-1h1v-2h1v-1h1v-1z"/><path class="r" d="M700 385h1v1h1v2h1v1h1v1h1v1h-1v1h-1v2h-1v1h-1v1h-1v-1h-1v-1h-1v-2h-1v-1h-1v-1h1v-1h1v-1h1v-2h1v-1z"/>
<path d="M708 382h1v1h1v1h1v2h1v1h1v1h1v1h-1v1h-1v2h-1v1h-1v1h-1v1h-1v-1h-1v-1h-1v-1h-1v-2h-1v-1h-1v-1h1v-1h1v-1h1v-2h1v-1h1v-1z"/><path class="r" d="M708 383h1v1h1v2h1v1h1v1h1v1h-1v1h-1v2h-1v1h-1v1h-1v-1h-1v-1h-1v-2h-1v-1h-1v-1h1v-1h1v-1h1v-2h1v-1z"/>
<path d="M683 403h1v1h1v1h1v2h1v1h1v1h1v1h-1v1h-1v2h-1v1h-1v1h-1v1h-1v-1h-1v-1h-1v-1h-1v-2h-1v-1h-1v-1h1v-1h1v-1h1v-2h1v-1h1v-1z"/><path class="r" d="M683 404h1v1h1v2h1v1h1v1h1v1h-1v1h-1v2h-1v1h-1v1h-1v-1h-1v-1h-1v-2h-1v-1h-1v-1h1v-1h1v-1h1v-2h1v-1z"/>
<path d="M692 405h1v1h1v1h1v2h1v1h1v1h1v1h-1v1h-1v2h-1v1h-1v1h-1v1h-1v-1h-1v-1h-1v-1h-1v-2h-1v-1h-1v-1h1v-1h1v-1h1v-2h1v-1h1v-1z"/><path class="b" d="M692 406h1v1h1v2h1v1h1v1h1v1h-1v1h-1v2h-1v1h-1v1h-1v-1h-1v-1h-1v-2h-1v-1h-1v-1h1v-1h1v-1h1v-2h1v-1z"/>
<path d="M704 412h1v1h1v1h1v2h1v1h1v1h1v1h-1v1h-1v2h-1v1h-1v1h-1v1h-1v-1h-1v-1h-1v-1h-1v-2h-1v-1h-1v-1h1v-1h1v-1h1v-2h1v-1h1v-1z"/><path class="b" d="M704 413h1v1h1v2h1v1h1v1h1v1h-1v1h-1v2h-1v1h-1v1h-1v-1h-1v-1h-1v-2h-1v-1h-1v-1h1v-1h1v-1h1v-2h1v-1z"/>
<path d="M703 421h1v1h1v1h1v2h1v1h1v1h1v1h-1v1h-1v2h-1v1h-1v1h-1v1h-1v-1h-1v-1h-1v-1h-1v-2h-1v-1h-1v-1h1v-1h1v-1h1v-2h1v-1h1v-1z"/><path class="b" d="M703 422h1v1h1v2h1v1h1v1h1v1h-1v1h-1v2h-1v1h-1v1h-1v-1h-1v-1h-1v-2h-1v-1h-1v-1h1v-1h1v-1h1v-2h1v-1z"/>
<path d="M695 430h1v1h1v1h1v2h1v1h1v1h1v1h-1v1h-1v2h-1v1h-1v1h-1v1h-1v-1h-1v-1h-1v-1h-1v-2h-1v-1h-1v-1h1v-1h1v-1h1v-2h1v-1h1v-1z"/><path class="b" d="M695 431h1v1h1v2h1v1h1v1h1v1h-1v1h-1v2h-1v1h-1v1h-1v-1h-1v-1h-1v-2h-1v-1h-1v-1h1v-1h1v-1h1v-2h1v-1z"/>
<path d="M687 438h1v1h1v1h1v2h1v1h1v1h1v1h-1v1h-1v2h-1v1h-1v1h-1v1h-1v-1h-1v-1h-1v-1h-1v-2h-1v-1h-1v-1h1v-1h1v-1h1v-2h1v-1h1v-1z"/><path class="r" d="M687 439h1v1h1v2h1v1h1v1h1v1h-1v1h-1v2h-1v1h-1v1h-1v-1h-1v-1h-1v-2h-1v-1h-1v-1h1v-1h1v-1h1v-2h1v-1z"/>
<path d="M694 443h1v1h1v1h1v2h1v1h1v1h1v1h-1v1h-1v2h-1v1h-1v1h-1v1h-1v-1h-1v-1h-1v-1h-1v-2h-1v-1h-1v-1h1v-1h1v-1h1v-2h1v-1h1v-1z"/><path class="r" d="M694 444h1v1h1v2h1v1h1v1h1v1h-1v1h-1v2h-1v1h-1v1h-1v-1h-1v-1h-1v-2h-1v-1h-1v-1h1v-1h1v-1h1v-2h1v-1z"/>
<path d="M700 448h1v1h1v1h1v2h1v1h1v1h1v1h-1v1h-1v2h-1v1h-1v1h-1v1h-1v-1h-1v-1h-1v-1h-1v-2h-1v-1h-1v-1h1v-1h1v-1h1v-2h1v-1h1v-1z"/><path class="b" d="M700 449h1v1h1v2h1v1h1v1h1v1h-1v1h-1v2h-1v1h-1v1h-1v-1h-1v-1h-1v-2h-1v-1h-1v-1h1v-1h1v-1h1v-2h1v-1z"/>
<path d="M683 455h1v1h1v1h1v2h1v1h1v1h1v1h-1v1h-1v2h-1v1h-1v1h-1v1h-1v-1h-1v-1h-1v-1h-1v-2h-1v-1h-1v-1h1v-1h1v-1h1v-2h1v-1h1v-1z"/><path class="r" d="M683 456h1v1h1v2h1v1h1v1h1v1h-1v1h-1v2h-1v1h-1v1h-1v-1h-1v-1h-1v-2h-1v-1h-1v-1h1v-1h1v-1h1v-2h1v-1z"/>
<path d="M716 443h1v1h1v1h1v2h1v1h1v1h1v1h-1v1h-1v2h-1v1h-1v1h-1v1h-1v-1h-1v-1h-1v-1h-1v-2h-1v-1h-1v-1h1v-1h1v-1h1v-2h1v-1h1v-1z"/><path class="r" d="M716 444h1v1h1v2h1v1h1v1h1v1h-1v1h-1v2h-1v1h-1v1h-1v-1h-1v-1h-1v-2h-1v-1h-1v-1h1v-1h1v-1h1v-2h1v-1z"/>
<path d="M716 453h1v1h1v1h1v2h1v1h1v1h1v1h-1v1h-1v2h-1v1h-1v1h-1v1h-1v-1h-1v-1h-1v-1h-1v-2h-1v-1h-1v-1h1v-1h1v-1h1v-2h1v-1h1v-1z"/><path class="b" d="M716 454h1v1h1v2h1v1h1v1h1v1h-1v1h-1v2h-1v1h-1v1h-1v-1h-1v-1h-1v-2h-1v-1h-1v-1h1v-1h1v-1h1v-2h1v-1z"/>
<path d="M714 459h1v1h1v1h1v2h1v1h1v1h1v1h-1v1h-1v2h-1v1h-1v1h-1v1h-1v-1h-1v-1h-1v-1h-1v-2h-1v-1h-1v-1h1v-1h1v-1h1v-2h1v-1h1v-1z"/><path class="b" d="M714 460h1v1h1v2h1v1h1v1h1v1h-1v1h-1v2h-1v1h-1v1h-1v-1h-1v-1h-1v-2h-1v-1h-1v-1h1v-1h1v-1h1v-2h1v-1z"/>
<path d="M722 424h1v1h1v1h1v2h1v1h1v1h1v1h-1v1h-1v2h-1v1h-1v1h-1v1h-1v-1h-1v-1h-1v-1h-1v-2h-1v-1h-1v-1h1v-1h1v-1h1v-2h1v-1h1v-1z"/><path class="b" d="M722 425h1v1h1v2h1v1h1v1h1v1h-1v1h-1v2h-1v1h-1v1h-1v-1h-1v-1h-1v-2h-1v-1h-1v-1h1v-1h1v-1h1v-2h1v-1z"/>
<path d="M726 417h1v1h1v1h1v2h1v1h1v1h1v1h-1v1h-1v2h-1v1h-1v1h-1v1h-1v-1h-1v-1h-1v-1h-1v-2h-1v-1h-1v-1h1v-1h1v-1h1v-2h1v-1h1v-1z"/><path class="r" d="M726 418h1v1h1v2h1v1h1v1h1v1h-1v1h-1v2h-1v1h-1v1h-1v-1h-1v-1h-1v-2h-1v-1h-1v-1h1v-1h1v-1h1v-2h1v-1z"/>
<path d="M731 427h1v1h1v1h1v2h1v1h1v1h1v1h-1v1h-1v2h-1v1h-1v1h-1v1h-1v-1h-1v-1h-1v-1h-1v-2h-1v-1h-1v-1h1v-1h1v-1h1v-2h1v-1h1v-1z"/><path class="b" d="M731 428h1v1h1v2h1v1h1v1h1v1h-1v1h-1v2h-1v1h-1v1h-1v-1h-1v-1h-1v-2h-1v-1h-1v-1h1v-1h1v-1h1v-2h1v-1z"/>
<path d="M731 443h1v1h1v1h1v2h1v1h1v1h1v1h-1v1h-1v2h-1v1h-1v1h-1v1h-1v-1h-1v-1h-1v-1h-1v-2h-1v-1h-1v-1h1v-1h1v-1h1v-2h1v-1h1v-1z"/><path class="b" d="M731 444h1v1h1v2h1v1h1v1h1v1h-1v1h-1v2h-1v1h-1v1h-1v-1h-1v-1h-1v-2h-1v-1h-1v-1h1v-1h1v-1h1v-2h1v-1z"/>
<path d="M728 451h1v1h1v1h1v2h1v1h1v1h1v1h-1v1h-1v2h-1v1h-1v1h-1v1h-1v-1h-1v-1h-1v-1h-1v-2h-1v-1h-1v-1h1v-1h1v-1h1v-2h1v-1h1v-1z"/><path class="b" d="M728 452h1v1h1v2h1v1h1v1h1v1h-1v1h-1v2h-1v1h-1v1h-1v-1h-1v-1h-1v-2h-1v-1h-1v-1h1v-1h1v-1h1v-2h1v-1z"/>
<path d="M742 437h1v1h1v1h1v2h1v1h1v1h1v1h-1v1h-1v2h-1v1h-1v1h-1v1h-1v-1h-1v-1h-1v-1h-1v-2h-1v-1h-1v-1h1v-1h1v-1h1v-2h1v-1h1v-1z"/><path class="b" d="M742 438h1v1h1v2h1v1h1v1h1v1h-1v1h-1v2h-1v1h-1v1h-1v-1h-1v-1h-1v-2h-1v-1h-1v-1h1v-1h1v-1h1v-2h1v-1z"/>
<path d="M761 441h1v1h1v1h1v2h1v1h1v1h1v1h-1v1h-1v2h-1v1h-1v1h-1v1h-1v-1h-1v-1h-1v-1h-1v-2h-1v-1h-1v-1h1v-1h1v-1h1v-2h1v-1h1v-1z"/><path class="b" d="M761 442h1v1h1v2h1v1h1v1h1v1h-1v1h-1v2h-1v1h-1v1h-1v-1h-1v-1h-1v-2h-1v-1h-1v-1h1v-1h1v-1h1v-2h1v-1z"/>
<path d="M731 385h1v1h1v1h1v2h1v1h1v1h1v1h-1v1h-1v2h-1v1h-1v1h-1v1h-1v-1h-1v-1h-1v-1h-1v-2h-1v-1h-1v-1h1v-1h1v-1h1v-2h1v-1h1v-1z"/><path class="b" d="M731 386h1v1h1v2h1v1h1v1h1v1h-1v1h-1v2h-1v1h-1v1h-1v-1h-1v-1h-1v-2h-1v-1h-1v-1h1v-1h1v-1h1v-2h1v-1z"/>
<path d="M738 387h1v1h1v1h1v2h1v1h1v1h1v1h-1v1h-1v2h-1v1h-1v1h-1v1h-1v-1h-1v-1h-1v-1h-1v-2h-1v-1h-1v-1h1v-1h1v-1h1v-2h1v-1h1v-1z"/><path class="r" d="M738 388h1v1h1v2h1v1h1v1h1v1h-1v1h-1v2h-1v1h-1v1h-1v-1h-1v-1h-1v-2h-1v-1h-1v-1h1v-1h1v-1h1v-2h1v-1z"/>
<path d="M751 382h1v1h1v1h1v2h1v1h1v1h1v1h-1v1h-1v2h-1v1h-1v1h-1v1h-1v-1h-1v-1h-1v-1h-1v-2h-1v-1h-1v-1h1v-1h1v-1h1v-2h1v-1h1v-1z"/><path class="b" d="M751 383h1v1h1v2h1v1h1v1h1v1h-1v1h-1v2h-1v1h-1v1h-1v-1h-1v-1h-1v-2h-1v-1h-1v-1h1v-1h1v-1h1v-2h1v-1z"/>
<path d="M746 395h1v1h1v1h1v2h1v1h1v1h1v1h-1v1h-1v2h-1v1h-1v1h-1v1h-1v-1h-1v-1h-1v-1h-1v-2h-1v-1h-1v-1h1v-1h1v-1h1v-2h1v-1h1v-1z"/><path class="r" d="M746 396h1v1h1v2h1v1h1v1h1v1h-1v1h-1v2h-1v1h-1v1h-1v-1h-1v-1h-1v-2h-1v-1h-1v-1h1v-1h1v-1h1v-2h1v-1z"/>
<path d="M753 395h1v1h1v1h1v2h1v1h1v1h1v1h-1v1h-1v2h-1v1h-1v1h-1v1h-1v-1h-1v-1h-1v-1h-1v-2h-1v-1h-1v-1h1v-1h1v-1h1v-2h1v-1h1v-1z"/><path class="b" d="M753 396h1v1h1v2h1v1h1v1h1v1h-1v1h-1v2h-1v1h-1v1h-1v-1h-1v-1h-1v-2h-1v-1h-1v-1h1v-1h1v-1h1v-2h1v-1z"/>
<path d="M753 409h1v1h1v1h1v2h1v1h1v1h1v1h-1v1h-1v2h-1v1h-1v1h-1v1h-1v-1h-1v-1h-1v-1h-1v-2h-1v-1h-1v-1h1v-1h1v-1h1v-2h1v-1h1v-1z"/><path class="b" d="M753 410h1v1h1v2h1v1h1v1h1v1h-1v1h-1v2h-1v1h-1v1h-1v-1h-1v-1h-1v-2h-1v-1h-1v-1h1v-1h1v-1h1v-2h1v-1z"/>
<path d="M743 420h1v1h1v1h1v2h1v1h1v1h1v1h-1v1h-1v2h-1v1h-1v1h-1v1h-1v-1h-1v-1h-1v-1h-1v-2h-1v-1h-1v-1h1v-1h1v-1h1v-2h1v-1h1v-1z"/><path class="r" d="M743 421h1v1h1v2h1v1h1v1h1v1h-1v1h-1v2h-1v1h-1v1h-1v-1h-1v-1h-1v-2h-1v-1h-1v-1h1v-1h1v-1h1v-2h1v-1z"/>
<path d="M752 421h1v1h1v1h1v2h1v1h1v1h1v1h-1v1h-1v2h-1v1h-1v1h-1v1h-1v-1h-1v-1h-1v-1h-1v-2h-1v-1h-1v-1h1v-1h1v-1h1v-2h1v-1h1v-1z"/><path class="r" d="M752 422h1v1h1v2h1v1h1v1h1v1h-1v1h-1v2h-1v1h-1v1h-1v-1h-1v-1h-1v-2h-1v-1h-1v-1h1v-1h1v-1h1v-2h1v-1z"/>
<path d="M803 377h1v1h1v1h1v2h1v1h1v1h1v1h-1v1h-1v2h-1v1h-1v1h-1v1h-1v-1h-1v-1h-1v-1h-1v-2h-1v-1h-1v-1h1v-1h1v-1h1v-2h1v-1h1v-1z"/><path class="b" d="M803 378h1v1h1v2h1v1h1v1h1v1h-1v1h-1v2h-1v1h-1v1h-1v-1h-1v-1h-1v-2h-1v-1h-1v-1h1v-1h1v-1h1v-2h1v-1z"/>
<path d="M800 383h1v1h1v1h1v2h1v1h1v1h1v1h-1v1h-1v2h-1v1h-1v1h-1v1h-1v-1h-1v-1h-1v-1h-1v-2h-1v-1h-1v-1h1v-1h1v-1h1v-2h1v-1h1v-1z"/><path class="b" d="M800 384h1v1h1v2h1v1h1v1h1v1h-1v1h-1v2h-1v1h-1v1h-1v-1h-1v-1h-1v-2h-1v-1h-1v-1h1v-1h1v-1h1v-2h1v-1z"/>
<path d="M818 376h1v1h1v1h1v2h1v1h1v1h1v1h-1v1h-1v2h-1v1h-1v1h-1v1h-1v-1h-1v-1h-1v-1h-1v-2h-1v-1h-1v-1h1v-1h1v-1h1v-2h1v-1h1v-1z"/><path class="b" d="M818 377h1v1h1v2h1v1h1v1h1v1h-1v1h-1v2h-1v1h-1v1h-1v-1h-1v-1h-1v-2h-1v-1h-1v-1h1v-1h1v-1h1v-2h1v-1z"/>
<path d="M839 380h1v1h1v1h1v2h1v1h1v1h1v1h-1v1h-1v2h-1v1h-1v1h-1v1h-1v-1h-1v-1h-1v-1h-1v-2h-1v-1h-1v-1h1v-1h1v-1h1v-2h1v-1h1v-1z"/><path class="r" d="M839 381h1v1h1v2h1v1h1v1h1v1h-1v1h-1v2h-1v1h-1v1h-1v-1h-1v-1h-1v-2h-1v-1h-1v-1h1v-1h1v-1h1v-2h1v-1z"/>
<path d="M858 389h1v1h1v1h1v2h1v1h1v1h1v1h-1v1h-1v2h-1v1h-1v1h-1v1h-1v-1h-1v-1h-1v-1h-1v-2h-1v-1h-1v-1h1v-1h1v-1h1v-2h1v-1h1v-1z"/><path class="b" d="M858 390h1v1h1v2h1v1h1v1h1v1h-1v1h-1v2h-1v1h-1v1h-1v-1h-1v-1h-1v-2h-1v-1h-1v-1h1v-1h1v-1h1v-2h1v-1z"/>
<path d="M764 387h1v1h1v1h1v2h1v1h1v1h1v1h-1v1h-1v2h-1v1h-1v1h-1v1h-1v-1h-1v-1h-1v-1h-1v-2h-1v-1h-1v-1h1v-1h1v-1h1v-2h1v-1h1v-1z"/><path class="r" d="M764 388h1v1h1v2h1v1h1v1h1v1h-1v1h-1v2h-1v1h-1v1h-1v-1h-1v-1h-1v-2h-1v-1h-1v-1h1v-1h1v-1h1v-2h1v-1z"/>
<path d="M809 391h1v1h1v1h1v2h1v1h1v1h1v1h-1v1h-1v2h-1v1h-1v1h-1v1h-1v-1h-1v-1h-1v-1h-1v-2h-1v-1h-1v-1h1v-1h1v-1h1v-2h1v-1h1v-1z"/><path class="r" d="M809 392h1v1h1v2h1v1h1v1h1v1h-1v1h-1v2h-1v1h-1v1h-1v-1h-1v-1h-1v-2h-1v-1h-1v-1h1v-1h1v-1h1v-2h1v-1z"/>
<path d="M787 396h1v1h1v1h1v2h1v1h1v1h1v1h-1v1h-1v2h-1v1h-1v1h-1v1h-1v-1h-1v-1h-1v-1h-1v-2h-1v-1h-1v-1h1v-1h1v-1h1v-2h1v-1h1v-1z"/><path class="r" d="M787 397h1v1h1v2h1v1h1v1h1v1h-1v1h-1v2h-1v1h-1v1h-1v-1h-1v-1h-1v-2h-1v-1h-1v-1h1v-1h1v-1h1v-2h1v-1z"/>
<path d="M785 406h1v1h1v1h1v2h1v1h1v1h1v1h-1v1h-1v2h-1v1h-1v1h-1v1h-1v-1h-1v-1h-1v-1h-1v-2h-1v-1h-1v-1h1v-1h1v-1h1v-2h1v-1h1v-1z"/><path class="b" d="M785 407h1v1h1v2h1v1h1v1h1v1h-1v1h-1v2h-1v1h-1v1h-1v-1h-1v-1h-1v-2h-1v-1h-1v-1h1v-1h1v-1h1v-2h1v-1z"/>
<path d="M800 409h1v1h1v1h1v2h1v1h1v1h1v1h-1v1h-1v2h-1v1h-1v1h-1v1h-1v-1h-1v-1h-1v-1h-1v-2h-1v-1h-1v-1h1v-1h1v-1h1v-2h1v-1h1v-1z"/><path class="b" d="M800 410h1v1h1v2h1v1h1v1h1v1h-1v1h-1v2h-1v1h-1v1h-1v-1h-1v-1h-1v-2h-1v-1h-1v-1h1v-1h1v-1h1v-2h1v-1z"/>
<path d="M767 408h1v1h1v1h1v2h1v1h1v1h1v1h-1v1h-1v2h-1v1h-1v1h-1v1h-1v-1h-1v-1h-1v-1h-1v-2h-1v-1h-1v-1h1v-1h1v-1h1v-2h1v-1h1v-1z"/><path class="r" d="M767 409h1v1h1v2h1v1h1v1h1v1h-1v1h-1v2h-1v1h-1v1h-1v-1h-1v-1h-1v-2h-1v-1h-1v-1h1v-1h1v-1h1v-2h1v-1z"/>
<path d="M848 413h1v1h1v1h1v2h1v1h1v1h1v1h-1v1h-1v2h-1v1h-1v1h-1v1h-1v-1h-1v-1h-1v-1h-1v-2h-1v-1h-1v-1h1v-1h1v-1h1v-2h1v-1h1v-1z"/><path class="r" d="M848 414h1v1h1v2h1v1h1v1h1v1h-1v1h-1v2h-1v1h-1v1h-1v-1h-1v-1h-1v-2h-1v-1h-1v-1h1v-1h1v-1h1v-2h1v-1z"/>
<path d="M859 411h1v1h1v1h1v2h1v1h1v1h1v1h-1v1h-1v2h-1v1h-1v1h-1v1h-1v-1h-1v-1h-1v-1h-1v-2h-1v-1h-1v-1h1v-1h1v-1h1v-2h1v-1h1v-1z"/><path class="r" d="M859 412h1v1h1v2h1v1h1v1h1v1h-1v1h-1v2h-1v1h-1v1h-1v-1h-1v-1h-1v-2h-1v-1h-1v-1h1v-1h1v-1h1v-2h1v-1z"/>
<path d="M863 418h1v1h1v1h1v2h1v1h1v1h1v1h-1v1h-1v2h-1v1h-1v1h-1v1h-1v-1h-1v-1h-1v-1h-1v-2h-1v-1h-1v-1h1v-1h1v-1h1v-2h1v-1h1v-1z"/><path class="b" d="M863 419h1v1h1v2h1v1h1v1h1v1h-1v1h-1v2h-1v1h-1v1h-1v-1h-1v-1h-1v-2h-1v-1h-1v-1h1v-1h1v-1h1v-2h1v-1z"/>
<path d="M815 420h1v1h1v1h1v2h1v1h1v1h1v1h-1v1h-1v2h-1v1h-1v1h-1v1h-1v-1h-1v-1h-1v-1h-1v-2h-1v-1h-1v-1h1v-1h1v-1h1v-2h1v-1h1v-1z"/><path class="b" d="M815 421h1v1h1v2h1v1h1v1h1v1h-1v1h-1v2h-1v1h-1v1h-1v-1h-1v-1h-1v-2h-1v-1h-1v-1h1v-1h1v-1h1v-2h1v-1z"/>
<path d="M830 423h1v1h1v1h1v2h1v1h1v1h1v1h-1v1h-1v2h-1v1h-1v1h-1v1h-1v-1h-1v-1h-1v-1h-1v-2h-1v-1h-1v-1h1v-1h1v-1h1v-2h1v-1h1v-1z"/><path class="b" d="M830 424h1v1h1v2h1v1h1v1h1v1h-1v1h-1v2h-1v1h-1v1h-1v-1h-1v-1h-1v-2h-1v-1h-1v-1h1v-1h1v-1h1v-2h1v-1z"/>
<path d="M791 428h1v1h1v1h1v2h1v1h1v1h1v1h-1v1h-1v2h-1v1h-1v1h-1v1h-1v-1h-1v-1h-1v-1h-1v-2h-1v-1h-1v-1h1v-1h1v-1h1v-2h1v-1h1v-1z"/><path class="b" d="M791 429h1v1h1v2h1v1h1v1h1v1h-1v1h-1v2h-1v1h-1v1h-1v-1h-1v-1h-1v-2h-1v-1h-1v-1h1v-1h1v-1h1v-2h1v-1z"/>
<path d="M821 434h1v1h1v1h1v2h1v1h1v1h1v1h-1v1h-1v2h-1v1h-1v1h-1v1h-1v-1h-1v-1h-1v-1h-1v-2h-1v-1h-1v-1h1v-1h1v-1h1v-2h1v-1h1v-1z"/><path class="r" d="M821 435h1v1h1v2h1v1h1v1h1v1h-1v1h-1v2h-1v1h-1v1h-1v-1h-1v-1h-1v-2h-1v-1h-1v-1h1v-1h1v-1h1v-2h1v-1z"/>
<path d="M816 440h1v1h1v1h1v2h1v1h1v1h1v1h-1v1h-1v2h-1v1h-1v1h-1v1h-1v-1h-1v-1h-1v-1h-1v-2h-1v-1h-1v-1h1v-1h1v-1h1v-2h1v-1h1v-1z"/><path class="r" d="M816 441h1v1h1v2h1v1h1v1h1v1h-1v1h-1v2h-1v1h-1v1h-1v-1h-1v-1h-1v-2h-1v-1h-1v-1h1v-1h1v-1h1v-2h1v-1z"/>
<path d="M852 441h1v1h1v1h1v2h1v1h1v1h1v1h-1v1h-1v2h-1v1h-1v1h-1v1h-1v-1h-1v-1h-1v-1h-1v-2h-1v-1h-1v-1h1v-1h1v-1h1v-2h1v-1h1v-1z"/><path class="b" d="M852 442h1v1h1v2h1v1h1v1h1v1h-1v1h-1v2h-1v1h-1v1h-1v-1h-1v-1h-1v-2h-1v-1h-1v-1h1v-1h1v-1h1v-2h1v-1z"/>
<path d="M849 444h1v1h1v1h1v2h1v1h1v1h1v1h-1v1h-1v2h-1v1h-1v1h-1v1h-1v-1h-1v-1h-1v-1h-1v-2h-1v-1h-1v-1h1v-1h1v-1h1v-2h1v-1h1v-1z"/><path class="b" d="M849 445h1v1h1v2h1v1h1v1h1v1h-1v1h-1v2h-1v1h-1v1h-1v-1h-1v-1h-1v-2h-1v-1h-1v-1h1v-1h1v-1h1v-2h1v-1z"/>
<path d="M780 442h1v1h1v1h1v2h1v1h1v1h1v1h-1v1h-1v2h-1v1h-1v1h-1v1h-1v-1h-1v-1h-1v-1h-1v-2h-1v-1h-1v-1h1v-1h1v-1h1v-2h1v-1h1v-1z"/><path class="r" d="M780 443h1v1h1v2h1v1h1v1h1v1h-1v1h-1v2h-1v1h-1v1h-1v-1h-1v-1h-1v-2h-1v-1h-1v-1h1v-1h1v-1h1v-2h1v-1z"/>
<path d="M805 452h1v1h1v1h1v2h1v1h1v1h1v1h-1v1h-1v2h-1v1h-1v1h-1v1h-1v-1h-1v-1h-1v-1h-1v-2h-1v-1h-1v-1h1v-1h1v-1h1v-2h1v-1h1v-1z"/><path class="b" d="M805 453h1v1h1v2h1v1h1v1h1v1h-1v1h-1v2h-1v1h-1v1h-1v-1h-1v-1h-1v-2h-1v-1h-1v-1h1v-1h1v-1h1v-2h1v-1z"/>
<path d="M836 454h1v1h1v1h1v2h1v1h1v1h1v1h-1v1h-1v2h-1v1h-1v1h-1v1h-1v-1h-1v-1h-1v-1h-1v-2h-1v-1h-1v-1h1v-1h1v-1h1v-2h1v-1h1v-1z"/><path class="b" d="M836 455h1v1h1v2h1v1h1v1h1v1h-1v1h-1v2h-1v1h-1v1h-1v-1h-1v-1h-1v-2h-1v-1h-1v-1h1v-1h1v-1h1v-2h1v-1z"/>
<path d="M815 459h1v1h1v1h1v2h1v1h1v1h1v1h-1v1h-1v2h-1v1h-1v1h-1v1h-1v-1h-1v-1h-1v-1h-1v-2h-1v-1h-1v-1h1v-1h1v-1h1v-2h1v-1h1v-1z"/><path class="b" d="M815 460h1v1h1v2h1v1h1v1h1v1h-1v1h-1v2h-1v1h-1v1h-1v-1h-1v-1h-1v-2h-1v-1h-1v-1h1v-1h1v-1h1v-2h1v-1z"/>
<path d="M897 386h1v1h1v1h1v2h1v1h1v1h1v1h-1v1h-1v2h-1v1h-1v1h-1v1h-1v-1h-1v-1h-1v-1h-1v-2h-1v-1h-1v-1h1v-1h1v-1h1v-2h1v-1h1v-1z"/><path class="b" d="M897 387h1v1h1v2h1v1h1v1h1v1h-1v1h-1v2h-1v1h-1v1h-1v-1h-1v-1h-1v-2h-1v-1h-1v-1h1v-1h1v-1h1v-2h1v-1z"/>
<path d="M920 394h1v1h1v1h1v2h1v1h1v1h1v1h-1v1h-1v2h-1v1h-1v1h-1v1h-1v-1h-1v-1h-1v-1h-1v-2h-1v-1h-1v-1h1v-1h1v-1h1v-2h1v-1h1v-1z"/><path class="b" d="M920 395h1v1h1v2h1v1h1v1h1v1h-1v1h-1v2h-1v1h-1v1h-1v-1h-1v-1h-1v-2h-1v-1h-1v-1h1v-1h1v-1h1v-2h1v-1z"/>
<path d="M915 406h1v1h1v1h1v2h1v1h1v1h1v1h-1v1h-1v2h-1v1h-1v1h-1v1h-1v-1h-1v-1h-1v-1h-1v-2h-1v-1h-1v-1h1v-1h1v-1h1v-2h1v-1h1v-1z"/><path class="b" d="M915 407h1v1h1v2h1v1h1v1h1v1h-1v1h-1v2h-1v1h-1v1h-1v-1h-1v-1h-1v-2h-1v-1h-1v-1h1v-1h1v-1h1v-2h1v-1z"/>
<path d="M934 413h1v1h1v1h1v2h1v1h1v1h1v1h-1v1h-1v2h-1v1h-1v1h-1v1h-1v-1h-1v-1h-1v-1h-1v-2h-1v-1h-1v-1h1v-1h1v-1h1v-2h1v-1h1v-1z"/><path class="b" d="M934 414h1v1h1v2h1v1h1v1h1v1h-1v1h-1v2h-1v1h-1v1h-1v-1h-1v-1h-1v-2h-1v-1h-1v-1h1v-1h1v-1h1v-2h1v-1z"/>
<path d="M976 386h1v1h1v1h1v2h1v1h1v1h1v1h-1v1h-1v2h-1v1h-1v1h-1v1h-1v-1h-1v-1h-1v-1h-1v-2h-1v-1h-1v-1h1v-1h1v-1h1v-2h1v-1h1v-1z"/><path class="b" d="M976 387h1v1h1v2h1v1h1v1h1v1h-1v1h-1v2h-1v1h-1v1h-1v-1h-1v-1h-1v-2h-1v-1h-1v-1h1v-1h1v-1h1v-2h1v-1z"/>
<path d="M897 437h1v1h1v1h1v2h1v1h1v1h1v1h-1v1h-1v2h-1v1h-1v1h-1v1h-1v-1h-1v-1h-1v-1h-1v-2h-1v-1h-1v-1h1v-1h1v-1h1v-2h1v-1h1v-1z"/><path class="b" d="M897 438h1v1h1v2h1v1h1v1h1v1h-1v1h-1v2h-1v1h-1v1h-1v-1h-1v-1h-1v-2h-1v-1h-1v-1h1v-1h1v-1h1v-2h1v-1z"/>
<path d="M906 435h1v1h1v1h1v2h1v1h1v1h1v1h-1v1h-1v2h-1v1h-1v1h-1v1h-1v-1h-1v-1h-1v-1h-1v-2h-1v-1h-1v-1h1v-1h1v-1h1v-2h1v-1h1v-1z"/><path class="b" d="M906 436h1v1h1v2h1v1h1v1h1v1h-1v1h-1v2h-1v1h-1v1h-1v-1h-1v-1h-1v-2h-1v-1h-1v-1h1v-1h1v-1h1v-2h1v-1z"/>
<path d="M923 441h1v1h1v1h1v2h1v1h1v1h1v1h-1v1h-1v2h-1v1h-1v1h-1v1h-1v-1h-1v-1h-1v-1h-1v-2h-1v-1h-1v-1h1v-1h1v-1h1v-2h1v-1h1v-1z"/><path class="r" d="M923 442h1v1h1v2h1v1h1v1h1v1h-1v1h-1v2h-1v1h-1v1h-1v-1h-1v-1h-1v-2h-1v-1h-1v-1h1v-1h1v-1h1v-2h1v-1z"/>
<path d="M909 457h1v1h1v1h1v2h1v1h1v1h1v1h-1v1h-1v2h-1v1h-1v1h-1v1h-1v-1h-1v-1h-1v-1h-1v-2h-1v-1h-1v-1h1v-1h1v-1h1v-2h1v-1h1v-1z"/><path class="r" d="M909 458h1v1h1v2h1v1h1v1h1v1h-1v1h-1v2h-1v1h-1v1h-1v-1h-1v-1h-1v-2h-1v-1h-1v-1h1v-1h1v-1h1v-2h1v-1z"/>
<path d="M905 465h1v1h1v1h1v2h1v1h1v1h1v1h-1v1h-1v2h-1v1h-1v1h-1v1h-1v-1h-1v-1h-1v-1h-1v-2h-1v-1h-1v-1h1v-1h1v-1h1v-2h1v-1h1v-1z"/><path class="r" d="M905 466h1v1h1v2h1v1h1v1h1v1h-1v1h-1v2h-1v1h-1v1h-1v-1h-1v-1h-1v-2h-1v-1h-1v-1h1v-1h1v-1h1v-2h1v-1z"/>
<path d="M925 460h1v1h1v1h1v2h1v1h1v1h1v1h-1v1h-1v2h-1v1h-1v1h-1v1h-1v-1h-1v-1h-1v-1h-1v-2h-1v-1h-1v-1h1v-1h1v-1h1v-2h1v-1h1v-1z"/><path class="r" d="M925 461h1v1h1v2h1v1h1v1h1v1h-1v1h-1v2h-1v1h-1v1h-1v-1h-1v-1h-1v-2h-1v-1h-1v-1h1v-1h1v-1h1v-2h1v-1z"/>
<path d="M964 453h1v1h1v1h1v2h1v1h1v1h1v1h-1v1h-1v2h-1v1h-1v1h-1v1h-1v-1h-1v-1h-1v-1h-1v-2h-1v-1h-1v-1h1v-1h1v-1h1v-2h1v-1h1v-1z"/><path class="b" d="M964 454h1v1h1v2h1v1h1v1h1v1h-1v1h-1v2h-1v1h-1v1h-1v-1h-1v-1h-1v-2h-1v-1h-1v-1h1v-1h1v-1h1v-2h1v-1z"/>
<path d="M969 460h1v1h1v1h1v2h1v1h1v1h1v1h-1v1h-1v2h-1v1h-1v1h-1v1h-1v-1h-1v-1h-1v-1h-1v-2h-1v-1h-1v-1h1v-1h1v-1h1v-2h1v-1h1v-1z"/><path class="b" d="M969 461h1v1h1v2h1v1h1v1h1v1h-1v1h-1v2h-1v1h-1v1h-1v-1h-1v-1h-1v-2h-1v-1h-1v-1h1v-1h1v-1h1v-2h1v-1z"/>
<path d="M695 465h1v1h1v1h1v2h1v1h1v1h1v1h-1v1h-1v2h-1v1h-1v1h-1v1h-1v-1h-1v-1h-1v-1h-1v-2h-1v-1h-1v-1h1v-1h1v-1h1v-2h1v-1h1v-1z"/><path class="r" d="M695 466h1v1h1v2h1v1h1v1h1v1h-1v1h-1v2h-1v1h-1v1h-1v-1h-1v-1h-1v-2h-1v-1h-1v-1h1v-1h1v-1h1v-2h1v-1z"/>
<path d="M755 465h1v1h1v1h1v2h1v1h1v1h1v1h-1v1h-1v2h-1v1h-1v1h-1v1h-1v-1h-1v-1h-1v-1h-1v-2h-1v-1h-1v-1h1v-1h1v-1h1v-2h1v-1h1v-1z"/><path class="b" d="M755 466h1v1h1v2h1v1h1v1h1v1h-1v1h-1v2h-1v1h-1v1h-1v-1h-1v-1h-1v-2h-1v-1h-1v-1h1v-1h1v-1h1v-2h1v-1z"/>
<path d="M690 479h1v1h1v1h1v2h1v1h1v1h1v1h-1v1h-1v2h-1v1h-1v1h-1v1h-1v-1h-1v-1h-1v-1h-1v-2h-1v-1h-1v-1h1v-1h1v-1h1v-2h1v-1h1v-1z"/><path class="b" d="M690 480h1v1h1v2h1v1h1v1h1v1h-1v1h-1v2h-1v1h-1v1h-1v-1h-1v-1h-1v-2h-1v-1h-1v-1h1v-1h1v-1h1v-2h1v-1z"/>
<path d="M711 476h1v1h1v1h1v2h1v1h1v1h1v1h-1v1h-1v2h-1v1h-1v1h-1v1h-1v-1h-1v-1h-1v-1h-1v-2h-1v-1h-1v-1h1v-1h1v-1h1v-2h1v-1h1v-1z"/><path class="b" d="M711 477h1v1h1v2h1v1h1v1h1v1h-1v1h-1v2h-1v1h-1v1h-1v-1h-1v-1h-1v-2h-1v-1h-1v-1h1v-1h1v-1h1v-2h1v-1z"/>
<path d="M720 472h1v1h1v1h1v2h1v1h1v1h1v1h-1v1h-1v2h-1v1h-1v1h-1v1h-1v-1h-1v-1h-1v-1h-1v-2h-1v-1h-1v-1h1v-1h1v-1h1v-2h1v-1h1v-1z"/><path class="r" d="M720 473h1v1h1v2h1v1h1v1h1v1h-1v1h-1v2h-1v1h-1v1h-1v-1h-1v-1h-1v-2h-1v-1h-1v-1h1v-1h1v-1h1v-2h1v-1z"/>
<path d="M721 484h1v1h1v1h1v2h1v1h1v1h1v1h-1v1h-1v2h-1v1h-1v1h-1v1h-1v-1h-1v-1h-1v-1h-1v-2h-1v-1h-1v-1h1v-1h1v-1h1v-2h1v-1h1v-1z"/><path class="r" d="M721 485h1v1h1v2h1v1h1v1h1v1h-1v1h-1v2h-1v1h-1v1h-1v-1h-1v-1h-1v-2h-1v-1h-1v-1h1v-1h1v-1h1v-2h1v-1z"/>
<path d="M730 487h1v1h1v1h1v2h1v1h1v1h1v1h-1v1h-1v2h-1v1h-1v1h-1v1h-1v-1h-1v-1h-1v-1h-1v-2h-1v-1h-1v-1h1v-1h1v-1h1v-2h1v-1h1v-1z"/><path class="b" d="M730 488h1v1h1v2h1v1h1v1h1v1h-1v1h-1v2h-1v1h-1v1h-1v-1h-1v-1h-1v-2h-1v-1h-1v-1h1v-1h1v-1h1v-2h1v-1z"/>
<path d="M704 490h1v1h1v1h1v2h1v1h1v1h1v1h-1v1h-1v2h-1v1h-1v1h-1v1h-1v-1h-1v-1h-1v-1h-1v-2h-1v-1h-1v-1h1v-1h1v-1h1v-2h1v-1h1v-1z"/><path class="b" d="M704 491h1v1h1v2h1v1h1v1h1v1h-1v1h-1v2h-1v1h-1v1h-1v-1h-1v-1h-1v-2h-1v-1h-1v-1h1v-1h1v-1h1v-2h1v-1z"/>
<path d="M740 498h1v1h1v1h1v2h1v1h1v1h1v1h-1v1h-1v2h-1v1h-1v1h-1v1h-1v-1h-1v-1h-1v-1h-1v-2h-1v-1h-1v-1h1v-1h1v-1h1v-2h1v-1h1v-1z"/><path class="b" d="M740 499h1v1h1v2h1v1h1v1h1v1h-1v1h-1v2h-1v1h-1v1h-1v-1h-1v-1h-1v-2h-1v-1h-1v-1h1v-1h1v-1h1v-2h1v-1z"/>
<path d="M751 496h1v1h1v1h1v2h1v1h1v1h1v1h-1v1h-1v2h-1v1h-1v1h-1v1h-1v-1h-1v-1h-1v-1h-1v-2h-1v-1h-1v-1h1v-1h1v-1h1v-2h1v-1h1v-1z"/><path class="b" d="M751 497h1v1h1v2h1v1h1v1h1v1h-1v1h-1v2h-1v1h-1v1h-1v-1h-1v-1h-1v-2h-1v-1h-1v-1h1v-1h1v-1h1v-2h1v-1z"/>
<path d="M756 486h1v1h1v1h1v2h1v1h1v1h1v1h-1v1h-1v2h-1v1h-1v1h-1v1h-1v-1h-1v-1h-1v-1h-1v-2h-1v-1h-1v-1h1v-1h1v-1h1v-2h1v-1h1v-1z"/><path class="b" d="M756 487h1v1h1v2h1v1h1v1h1v1h-1v1h-1v2h-1v1h-1v1h-1v-1h-1v-1h-1v-2h-1v-1h-1v-1h1v-1h1v-1h1v-2h1v-1z"/>
<path d="M767 493h1v1h1v1h1v2h1v1h1v1h1v1h-1v1h-1v2h-1v1h-1v1h-1v1h-1v-1h-1v-1h-1v-1h-1v-2h-1v-1h-1v-1h1v-1h1v-1h1v-2h1v-1h1v-1z"/><path class="b" d="M767 494h1v1h1v2h1v1h1v1h1v1h-1v1h-1v2h-1v1h-1v1h-1v-1h-1v-1h-1v-2h-1v-1h-1v-1h1v-1h1v-1h1v-2h1v-1z"/>
<path d="M774 490h1v1h1v1h1v2h1v1h1v1h1v1h-1v1h-1v2h-1v1h-1v1h-1v1h-1v-1h-1v-1h-1v-1h-1v-2h-1v-1h-1v-1h1v-1h1v-1h1v-2h1v-1h1v-1z"/><path class="b" d="M774 491h1v1h1v2h1v1h1v1h1v1h-1v1h-1v2h-1v1h-1v1h-1v-1h-1v-1h-1v-2h-1v-1h-1v-1h1v-1h1v-1h1v-2h1v-1z"/>
<path d="M761 500h1v1h1v1h1v2h1v1h1v1h1v1h-1v1h-1v2h-1v1h-1v1h-1v1h-1v-1h-1v-1h-1v-1h-1v-2h-1v-1h-1v-1h1v-1h1v-1h1v-2h1v-1h1v-1z"/><path class="b" d="M761 501h1v1h1v2h1v1h1v1h1v1h-1v1h-1v2h-1v1h-1v1h-1v-1h-1v-1h-1v-2h-1v-1h-1v-1h1v-1h1v-1h1v-2h1v-1z"/>
<path d="M762 506h1v1h1v1h1v2h1v1h1v1h1v1h-1v1h-1v2h-1v1h-1v1h-1v1h-1v-1h-1v-1h-1v-1h-1v-2h-1v-1h-1v-1h1v-1h1v-1h1v-2h1v-1h1v-1z"/><path class="b" d="M762 507h1v1h1v2h1v1h1v1h1v1h-1v1h-1v2h-1v1h-1v1h-1v-1h-1v-1h-1v-2h-1v-1h-1v-1h1v-1h1v-1h1v-2h1v-1z"/>
<path d="M769 504h1v1h1v1h1v2h1v1h1v1h1v1h-1v1h-1v2h-1v1h-1v1h-1v1h-1v-1h-1v-1h-1v-1h-1v-2h-1v-1h-1v-1h1v-1h1v-1h1v-2h1v-1h1v-1z"/><path class="b" d="M769 505h1v1h1v2h1v1h1v1h1v1h-1v1h-1v2h-1v1h-1v1h-1v-1h-1v-1h-1v-2h-1v-1h-1v-1h1v-1h1v-1h1v-2h1v-1z"/>
<path d="M775 506h1v1h1v1h1v2h1v1h1v1h1v1h-1v1h-1v2h-1v1h-1v1h-1v1h-1v-1h-1v-1h-1v-1h-1v-2h-1v-1h-1v-1h1v-1h1v-1h1v-2h1v-1h1v-1z"/><path class="r" d="M775 507h1v1h1v2h1v1h1v1h1v1h-1v1h-1v2h-1v1h-1v1h-1v-1h-1v-1h-1v-2h-1v-1h-1v-1h1v-1h1v-1h1v-2h1v-1z"/>
<path d="M747 510h1v1h1v1h1v2h1v1h1v1h1v1h-1v1h-1v2h-1v1h-1v1h-1v1h-1v-1h-1v-1h-1v-1h-1v-2h-1v-1h-1v-1h1v-1h1v-1h1v-2h1v-1h1v-1z"/><path class="r" d="M747 511h1v1h1v2h1v1h1v1h1v1h-1v1h-1v2h-1v1h-1v1h-1v-1h-1v-1h-1v-2h-1v-1h-1v-1h1v-1h1v-1h1v-2h1v-1z"/>
<path d="M747 519h1v1h1v1h1v2h1v1h1v1h1v1h-1v1h-1v2h-1v1h-1v1h-1v1h-1v-1h-1v-1h-1v-1h-1v-2h-1v-1h-1v-1h1v-1h1v-1h1v-2h1v-1h1v-1z"/><path class="r" d="M747 520h1v1h1v2h1v1h1v1h1v1h-1v1h-1v2h-1v1h-1v1h-1v-1h-1v-1h-1v-2h-1v-1h-1v-1h1v-1h1v-1h1v-2h1v-1z"/>
<path d="M756 520h1v1h1v1h1v2h1v1h1v1h1v1h-1v1h-1v2h-1v1h-1v1h-1v1h-1v-1h-1v-1h-1v-1h-1v-2h-1v-1h-1v-1h1v-1h1v-1h1v-2h1v-1h1v-1z"/><path class="b" d="M756 521h1v1h1v2h1v1h1v1h1v1h-1v1h-1v2h-1v1h-1v1h-1v-1h-1v-1h-1v-2h-1v-1h-1v-1h1v-1h1v-1h1v-2h1v-1z"/>
<path d="M764 521h1v1h1v1h1v2h1v1h1v1h1v1h-1v1h-1v2h-1v1h-1v1h-1v1h-1v-1h-1v-1h-1v-1h-1v-2h-1v-1h-1v-1h1v-1h1v-1h1v-2h1v-1h1v-1z"/><path class="r" d="M764 522h1v1h1v2h1v1h1v1h1v1h-1v1h-1v2h-1v1h-1v1h-1v-1h-1v-1h-1v-2h-1v-1h-1v-1h1v-1h1v-1h1v-2h1v-1z"/>
<path d="M744 528h1v1h1v1h1v2h1v1h1v1h1v1h-1v1h-1v2h-1v1h-1v1h-1v1h-1v-1h-1v-1h-1v-1h-1v-2h-1v-1h-1v-1h1v-1h1v-1h1v-2h1v-1h1v-1z"/><path class="b" d="M744 529h1v1h1v2h1v1h1v1h1v1h-1v1h-1v2h-1v1h-1v1h-1v-1h-1v-1h-1v-2h-1v-1h-1v-1h1v-1h1v-1h1v-2h1v-1z"/>
<path d="M735 532h1v1h1v1h1v2h1v1h1v1h1v1h-1v1h-1v2h-1v1h-1v1h-1v1h-1v-1h-1v-1h-1v-1h-1v-2h-1v-1h-1v-1h1v-1h1v-1h1v-2h1v-1h1v-1z"/><path class="r" d="M735 533h1v1h1v2h1v1h1v1h1v1h-1v1h-1v2h-1v1h-1v1h-1v-1h-1v-1h-1v-2h-1v-1h-1v-1h1v-1h1v-1h1v-2h1v-1z"/>
<path d="M756 531h1v1h1v1h1v2h1v1h1v1h1v1h-1v1h-1v2h-1v1h-1v1h-1v1h-1v-1h-1v-1h-1v-1h-1v-2h-1v-1h-1v-1h1v-1h1v-1h1v-2h1v-1h1v-1z"/><path class="r" d="M756 532h1v1h1v2h1v1h1v1h1v1h-1v1h-1v2h-1v1h-1v1h-1v-1h-1v-1h-1v-2h-1v-1h-1v-1h1v-1h1v-1h1v-2h1v-1z"/>
<path d="M758 543h1v1h1v1h1v2h1v1h1v1h1v1h-1v1h-1v2h-1v1h-1v1h-1v1h-1v-1h-1v-1h-1v-1h-1v-2h-1v-1h-1v-1h1v-1h1v-1h1v-2h1v-1h1v-1z"/><path class="r" d="M758 544h1v1h1v2h1v1h1v1h1v1h-1v1h-1v2h-1v1h-1v1h-1v-1h-1v-1h-1v-2h-1v-1h-1v-1h1v-1h1v-1h1v-2h1v-1z"/>
<path d="M807 467h1v1h1v1h1v2h1v1h1v1h1v1h-1v1h-1v2h-1v1h-1v1h-1v1h-1v-1h-1v-1h-1v-1h-1v-2h-1v-1h-1v-1h1v-1h1v-1h1v-2h1v-1h1v-1z"/><path class="b" d="M807 468h1v1h1v2h1v1h1v1h1v1h-1v1h-1v2h-1v1h-1v1h-1v-1h-1v-1h-1v-2h-1v-1h-1v-1h1v-1h1v-1h1v-2h1v-1z"/>
<path d="M837 470h1v1h1v1h1v2h1v1h1v1h1v1h-1v1h-1v2h-1v1h-1v1h-1v1h-1v-1h-1v-1h-1v-1h-1v-2h-1v-1h-1v-1h1v-1h1v-1h1v-2h1v-1h1v-1z"/><path class="r" d="M837 471h1v1h1v2h1v1h1v1h1v1h-1v1h-1v2h-1v1h-1v1h-1v-1h-1v-1h-1v-2h-1v-1h-1v-1h1v-1h1v-1h1v-2h1v-1z"/>
<path d="M824 479h1v1h1v1h1v2h1v1h1v1h1v1h-1v1h-1v2h-1v1h-1v1h-1v1h-1v-1h-1v-1h-1v-1h-1v-2h-1v-1h-1v-1h1v-1h1v-1h1v-2h1v-1h1v-1z"/><path class="r" d="M824 480h1v1h1v2h1v1h1v1h1v1h-1v1h-1v2h-1v1h-1v1h-1v-1h-1v-1h-1v-2h-1v-1h-1v-1h1v-1h1v-1h1v-2h1v-1z"/>
<path d="M828 484h1v1h1v1h1v2h1v1h1v1h1v1h-1v1h-1v2h-1v1h-1v1h-1v1h-1v-1h-1v-1h-1v-1h-1v-2h-1v-1h-1v-1h1v-1h1v-1h1v-2h1v-1h1v-1z"/><path class="r" d="M828 485h1v1h1v2h1v1h1v1h1v1h-1v1h-1v2h-1v1h-1v1h-1v-1h-1v-1h-1v-2h-1v-1h-1v-1h1v-1h1v-1h1v-2h1v-1z"/>
<path d="M890 473h1v1h1v1h1v2h1v1h1v1h1v1h-1v1h-1v2h-1v1h-1v1h-1v1h-1v-1h-1v-1h-1v-1h-1v-2h-1v-1h-1v-1h1v-1h1v-1h1v-2h1v-1h1v-1z"/><path class="r" d="M890 474h1v1h1v2h1v1h1v1h1v1h-1v1h-1v2h-1v1h-1v1h-1v-1h-1v-1h-1v-2h-1v-1h-1v-1h1v-1h1v-1h1v-2h1v-1z"/>
<path d="M864 491h1v1h1v1h1v2h1v1h1v1h1v1h-1v1h-1v2h-1v1h-1v1h-1v1h-1v-1h-1v-1h-1v-1h-1v-2h-1v-1h-1v-1h1v-1h1v-1h1v-2h1v-1h1v-1z"/><path class="r" d="M864 492h1v1h1v2h1v1h1v1h1v1h-1v1h-1v2h-1v1h-1v1h-1v-1h-1v-1h-1v-2h-1v-1h-1v-1h1v-1h1v-1h1v-2h1v-1z"/>
<path d="M881 506h1v1h1v1h1v2h1v1h1v1h1v1h-1v1h-1v2h-1v1h-1v1h-1v1h-1v-1h-1v-1h-1v-1h-1v-2h-1v-1h-1v-1h1v-1h1v-1h1v-2h1v-1h1v-1z"/><path class="r" d="M881 507h1v1h1v2h1v1h1v1h1v1h-1v1h-1v2h-1v1h-1v1h-1v-1h-1v-1h-1v-2h-1v-1h-1v-1h1v-1h1v-1h1v-2h1v-1z"/>
<path d="M782 494h1v1h1v1h1v2h1v1h1v1h1v1h-1v1h-1v2h-1v1h-1v1h-1v1h-1v-1h-1v-1h-1v-1h-1v-2h-1v-1h-1v-1h1v-1h1v-1h1v-2h1v-1h1v-1z"/><path class="b" d="M782 495h1v1h1v2h1v1h1v1h1v1h-1v1h-1v2h-1v1h-1v1h-1v-1h-1v-1h-1v-2h-1v-1h-1v-1h1v-1h1v-1h1v-2h1v-1z"/>
<path d="M789 492h1v1h1v1h1v2h1v1h1v1h1v1h-1v1h-1v2h-1v1h-1v1h-1v1h-1v-1h-1v-1h-1v-1h-1v-2h-1v-1h-1v-1h1v-1h1v-1h1v-2h1v-1h1v-1z"/><path class="b" d="M789 493h1v1h1v2h1v1h1v1h1v1h-1v1h-1v2h-1v1h-1v1h-1v-1h-1v-1h-1v-2h-1v-1h-1v-1h1v-1h1v-1h1v-2h1v-1z"/>
<path d="M791 503h1v1h1v1h1v2h1v1h1v1h1v1h-1v1h-1v2h-1v1h-1v1h-1v1h-1v-1h-1v-1h-1v-1h-1v-2h-1v-1h-1v-1h1v-1h1v-1h1v-2h1v-1h1v-1z"/><path class="b" d="M791 504h1v1h1v2h1v1h1v1h1v1h-1v1h-1v2h-1v1h-1v1h-1v-1h-1v-1h-1v-2h-1v-1h-1v-1h1v-1h1v-1h1v-2h1v-1z"/>
<path d="M784 510h1v1h1v1h1v2h1v1h1v1h1v1h-1v1h-1v2h-1v1h-1v1h-1v1h-1v-1h-1v-1h-1v-1h-1v-2h-1v-1h-1v-1h1v-1h1v-1h1v-2h1v-1h1v-1z"/><path class="b" d="M784 511h1v1h1v2h1v1h1v1h1v1h-1v1h-1v2h-1v1h-1v1h-1v-1h-1v-1h-1v-2h-1v-1h-1v-1h1v-1h1v-1h1v-2h1v-1z"/>
<path d="M793 520h1v1h1v1h1v2h1v1h1v1h1v1h-1v1h-1v2h-1v1h-1v1h-1v1h-1v-1h-1v-1h-1v-1h-1v-2h-1v-1h-1v-1h1v-1h1v-1h1v-2h1v-1h1v-1z"/><path class="b" d="M793 521h1v1h1v2h1v1h1v1h1v1h-1v1h-1v2h-1v1h-1v1h-1v-1h-1v-1h-1v-2h-1v-1h-1v-1h1v-1h1v-1h1v-2h1v-1z"/>
<path d="M828 506h1v1h1v1h1v2h1v1h1v1h1v1h-1v1h-1v2h-1v1h-1v1h-1v1h-1v-1h-1v-1h-1v-1h-1v-2h-1v-1h-1v-1h1v-1h1v-1h1v-2h1v-1h1v-1z"/><path class="b" d="M828 507h1v1h1v2h1v1h1v1h1v1h-1v1h-1v2h-1v1h-1v1h-1v-1h-1v-1h-1v-2h-1v-1h-1v-1h1v-1h1v-1h1v-2h1v-1z"/>
<path d="M836 505h1v1h1v1h1v2h1v1h1v1h1v1h-1v1h-1v2h-1v1h-1v1h-1v1h-1v-1h-1v-1h-1v-1h-1v-2h-1v-1h-1v-1h1v-1h1v-1h1v-2h1v-1h1v-1z"/><path class="r" d="M836 506h1v1h1v2h1v1h1v1h1v1h-1v1h-1v2h-1v1h-1v1h-1v-1h-1v-1h-1v-2h-1v-1h-1v-1h1v-1h1v-1h1v-2h1v-1z"/>
<path d="M815 508h1v1h1v1h1v2h1v1h1v1h1v1h-1v1h-1v2h-1v1h-1v1h-1v1h-1v-1h-1v-1h-1v-1h-1v-2h-1v-1h-1v-1h1v-1h1v-1h1v-2h1v-1h1v-1z"/><path class="b" d="M815 509h1v1h1v2h1v1h1v1h1v1h-1v1h-1v2h-1v1h-1v1h-1v-1h-1v-1h-1v-2h-1v-1h-1v-1h1v-1h1v-1h1v-2h1v-1z"/>
<path d="M821 514h1v1h1v1h1v2h1v1h1v1h1v1h-1v1h-1v2h-1v1h-1v1h-1v1h-1v-1h-1v-1h-1v-1h-1v-2h-1v-1h-1v-1h1v-1h1v-1h1v-2h1v-1h1v-1z"/><path class="r" d="M821 515h1v1h1v2h1v1h1v1h1v1h-1v1h-1v2h-1v1h-1v1h-1v-1h-1v-1h-1v-2h-1v-1h-1v-1h1v-1h1v-1h1v-2h1v-1z"/>
<path d="M835 518h1v1h1v1h1v2h1v1h1v1h1v1h-1v1h-1v2h-1v1h-1v1h-1v1h-1v-1h-1v-1h-1v-1h-1v-2h-1v-1h-1v-1h1v-1h1v-1h1v-2h1v-1h1v-1z"/><path class="r" d="M835 519h1v1h1v2h1v1h1v1h1v1h-1v1h-1v2h-1v1h-1v1h-1v-1h-1v-1h-1v-2h-1v-1h-1v-1h1v-1h1v-1h1v-2h1v-1z"/>
<path d="M849 518h1v1h1v1h1v2h1v1h1v1h1v1h-1v1h-1v2h-1v1h-1v1h-1v1h-1v-1h-1v-1h-1v-1h-1v-2h-1v-1h-1v-1h1v-1h1v-1h1v-2h1v-1h1v-1z"/><path class="r" d="M849 519h1v1h1v2h1v1h1v1h1v1h-1v1h-1v2h-1v1h-1v1h-1v-1h-1v-1h-1v-2h-1v-1h-1v-1h1v-1h1v-1h1v-2h1v-1z"/>
<path d="M855 527h1v1h1v1h1v2h1v1h1v1h1v1h-1v1h-1v2h-1v1h-1v1h-1v1h-1v-1h-1v-1h-1v-1h-1v-2h-1v-1h-1v-1h1v-1h1v-1h1v-2h1v-1h1v-1z"/><path class="r" d="M855 528h1v1h1v2h1v1h1v1h1v1h-1v1h-1v2h-1v1h-1v1h-1v-1h-1v-1h-1v-2h-1v-1h-1v-1h1v-1h1v-1h1v-2h1v-1z"/>
<path d="M804 528h1v1h1v1h1v2h1v1h1v1h1v1h-1v1h-1v2h-1v1h-1v1h-1v1h-1v-1h-1v-1h-1v-1h-1v-2h-1v-1h-1v-1h1v-1h1v-1h1v-2h1v-1h1v-1z"/><path class="r" d="M804 529h1v1h1v2h1v1h1v1h1v1h-1v1h-1v2h-1v1h-1v1h-1v-1h-1v-1h-1v-2h-1v-1h-1v-1h1v-1h1v-1h1v-2h1v-1z"/>
<path d="M814 529h1v1h1v1h1v2h1v1h1v1h1v1h-1v1h-1v2h-1v1h-1v1h-1v1h-1v-1h-1v-1h-1v-1h-1v-2h-1v-1h-1v-1h1v-1h1v-1h1v-2h1v-1h1v-1z"/><path class="b" d="M814 530h1v1h1v2h1v1h1v1h1v1h-1v1h-1v2h-1v1h-1v1h-1v-1h-1v-1h-1v-2h-1v-1h-1v-1h1v-1h1v-1h1v-2h1v-1z"/>
<path d="M804 543h1v1h1v1h1v2h1v1h1v1h1v1h-1v1h-1v2h-1v1h-1v1h-1v1h-1v-1h-1v-1h-1v-1h-1v-2h-1v-1h-1v-1h1v-1h1v-1h1v-2h1v-1h1v-1z"/><path class="r" d="M804 544h1v1h1v2h1v1h1v1h1v1h-1v1h-1v2h-1v1h-1v1h-1v-1h-1v-1h-1v-2h-1v-1h-1v-1h1v-1h1v-1h1v-2h1v-1z"/>
<path d="M844 546h1v1h1v1h1v2h1v1h1v1h1v1h-1v1h-1v2h-1v1h-1v1h-1v1h-1v-1h-1v-1h-1v-1h-1v-2h-1v-1h-1v-1h1v-1h1v-1h1v-2h1v-1h1v-1z"/><path class="b" d="M844 547h1v1h1v2h1v1h1v1h1v1h-1v1h-1v2h-1v1h-1v1h-1v-1h-1v-1h-1v-2h-1v-1h-1v-1h1v-1h1v-1h1v-2h1v-1z"/>
<path d="M927 469h1v1h1v1h1v2h1v1h1v1h1v1h-1v1h-1v2h-1v1h-1v1h-1v1h-1v-1h-1v-1h-1v-1h-1v-2h-1v-1h-1v-1h1v-1h1v-1h1v-2h1v-1h1v-1z"/><path class="b" d="M927 470h1v1h1v2h1v1h1v1h1v1h-1v1h-1v2h-1v1h-1v1h-1v-1h-1v-1h-1v-2h-1v-1h-1v-1h1v-1h1v-1h1v-2h1v-1z"/>
<path d="M934 465h1v1h1v1h1v2h1v1h1v1h1v1h-1v1h-1v2h-1v1h-1v1h-1v1h-1v-1h-1v-1h-1v-1h-1v-2h-1v-1h-1v-1h1v-1h1v-1h1v-2h1v-1h1v-1z"/><path class="b" d="M934 466h1v1h1v2h1v1h1v1h1v1h-1v1h-1v2h-1v1h-1v1h-1v-1h-1v-1h-1v-2h-1v-1h-1v-1h1v-1h1v-1h1v-2h1v-1z"/>
<path d="M905 483h1v1h1v1h1v2h1v1h1v1h1v1h-1v1h-1v2h-1v1h-1v1h-1v1h-1v-1h-1v-1h-1v-1h-1v-2h-1v-1h-1v-1h1v-1h1v-1h1v-2h1v-1h1v-1z"/><path class="r" d="M905 484h1v1h1v2h1v1h1v1h1v1h-1v1h-1v2h-1v1h-1v1h-1v-1h-1v-1h-1v-2h-1v-1h-1v-1h1v-1h1v-1h1v-2h1v-1z"/>
<path d="M916 487h1v1h1v1h1v2h1v1h1v1h1v1h-1v1h-1v2h-1v1h-1v1h-1v1h-1v-1h-1v-1h-1v-1h-1v-2h-1v-1h-1v-1h1v-1h1v-1h1v-2h1v-1h1v-1z"/><path class="r" d="M916 488h1v1h1v2h1v1h1v1h1v1h-1v1h-1v2h-1v1h-1v1h-1v-1h-1v-1h-1v-2h-1v-1h-1v-1h1v-1h1v-1h1v-2h1v-1z"/>
<path d="M913 493h1v1h1v1h1v2h1v1h1v1h1v1h-1v1h-1v2h-1v1h-1v1h-1v1h-1v-1h-1v-1h-1v-1h-1v-2h-1v-1h-1v-1h1v-1h1v-1h1v-2h1v-1h1v-1z"/><path class="r" d="M913 494h1v1h1v2h1v1h1v1h1v1h-1v1h-1v2h-1v1h-1v1h-1v-1h-1v-1h-1v-2h-1v-1h-1v-1h1v-1h1v-1h1v-2h1v-1z"/>
<path d="M897 493h1v1h1v1h1v2h1v1h1v1h1v1h-1v1h-1v2h-1v1h-1v1h-1v1h-1v-1h-1v-1h-1v-1h-1v-2h-1v-1h-1v-1h1v-1h1v-1h1v-2h1v-1h1v-1z"/><path class="r" d="M897 494h1v1h1v2h1v1h1v1h1v1h-1v1h-1v2h-1v1h-1v1h-1v-1h-1v-1h-1v-2h-1v-1h-1v-1h1v-1h1v-1h1v-2h1v-1z"/>
<path d="M904 495h1v1h1v1h1v2h1v1h1v1h1v1h-1v1h-1v2h-1v1h-1v1h-1v1h-1v-1h-1v-1h-1v-1h-1v-2h-1v-1h-1v-1h1v-1h1v-1h1v-2h1v-1h1v-1z"/><path class="b" d="M904 496h1v1h1v2h1v1h1v1h1v1h-1v1h-1v2h-1v1h-1v1h-1v-1h-1v-1h-1v-2h-1v-1h-1v-1h1v-1h1v-1h1v-2h1v-1z"/>
<path d="M913 514h1v1h1v1h1v2h1v1h1v1h1v1h-1v1h-1v2h-1v1h-1v1h-1v1h-1v-1h-1v-1h-1v-1h-1v-2h-1v-1h-1v-1h1v-1h1v-1h1v-2h1v-1h1v-1z"/><path class="r" d="M913 515h1v1h1v2h1v1h1v1h1v1h-1v1h-1v2h-1v1h-1v1h-1v-1h-1v-1h-1v-2h-1v-1h-1v-1h1v-1h1v-1h1v-2h1v-1z"/>
<path d="M928 508h1v1h1v1h1v2h1v1h1v1h1v1h-1v1h-1v2h-1v1h-1v1h-1v1h-1v-1h-1v-1h-1v-1h-1v-2h-1v-1h-1v-1h1v-1h1v-1h1v-2h1v-1h1v-1z"/><path class="b" d="M928 509h1v1h1v2h1v1h1v1h1v1h-1v1h-1v2h-1v1h-1v1h-1v-1h-1v-1h-1v-2h-1v-1h-1v-1h1v-1h1v-1h1v-2h1v-1z"/>
<path d="M930 519h1v1h1v1h1v2h1v1h1v1h1v1h-1v1h-1v2h-1v1h-1v1h-1v1h-1v-1h-1v-1h-1v-1h-1v-2h-1v-1h-1v-1h1v-1h1v-1h1v-2h1v-1h1v-1z"/><path class="b" d="M930 520h1v1h1v2h1v1h1v1h1v1h-1v1h-1v2h-1v1h-1v1h-1v-1h-1v-1h-1v-2h-1v-1h-1v-1h1v-1h1v-1h1v-2h1v-1z"/>
<path d="M953 514h1v1h1v1h1v2h1v1h1v1h1v1h-1v1h-1v2h-1v1h-1v1h-1v1h-1v-1h-1v-1h-1v-1h-1v-2h-1v-1h-1v-1h1v-1h1v-1h1v-2h1v-1h1v-1z"/><path class="b" d="M953 515h1v1h1v2h1v1h1v1h1v1h-1v1h-1v2h-1v1h-1v1h-1v-1h-1v-1h-1v-2h-1v-1h-1v-1h1v-1h1v-1h1v-2h1v-1z"/>
<path d="M963 517h1v1h1v1h1v2h1v1h1v1h1v1h-1v1h-1v2h-1v1h-1v1h-1v1h-1v-1h-1v-1h-1v-1h-1v-2h-1v-1h-1v-1h1v-1h1v-1h1v-2h1v-1h1v-1z"/><path class="b" d="M963 518h1v1h1v2h1v1h1v1h1v1h-1v1h-1v2h-1v1h-1v1h-1v-1h-1v-1h-1v-2h-1v-1h-1v-1h1v-1h1v-1h1v-2h1v-1z"/>
<path d="M971 515h1v1h1v1h1v2h1v1h1v1h1v1h-1v1h-1v2h-1v1h-1v1h-1v1h-1v-1h-1v-1h-1v-1h-1v-2h-1v-1h-1v-1h1v-1h1v-1h1v-2h1v-1h1v-1z"/><path class="r" d="M971 516h1v1h1v2h1v1h1v1h1v1h-1v1h-1v2h-1v1h-1v1h-1v-1h-1v-1h-1v-2h-1v-1h-1v-1h1v-1h1v-1h1v-2h1v-1z"/>
<path d="M974 515h1v1h1v1h1v2h1v1h1v1h1v1h-1v1h-1v2h-1v1h-1v1h-1v1h-1v-1h-1v-1h-1v-1h-1v-2h-1v-1h-1v-1h1v-1h1v-1h1v-2h1v-1h1v-1z"/><path class="r" d="M974 516h1v1h1v2h1v1h1v1h1v1h-1v1h-1v2h-1v1h-1v1h-1v-1h-1v-1h-1v-2h-1v-1h-1v-1h1v-1h1v-1h1v-2h1v-1z"/>
<path d="M975 524h1v1h1v1h1v2h1v1h1v1h1v1h-1v1h-1v2h-1v1h-1v1h-1v1h-1v-1h-1v-1h-1v-1h-1v-2h-1v-1h-1v-1h1v-1h1v-1h1v-2h1v-1h1v-1z"/><path class="r" d="M975 525h1v1h1v2h1v1h1v1h1v1h-1v1h-1v2h-1v1h-1v1h-1v-1h-1v-1h-1v-2h-1v-1h-1v-1h1v-1h1v-1h1v-2h1v-1z"/>
<path d="M918 532h1v1h1v1h1v2h1v1h1v1h1v1h-1v1h-1v2h-1v1h-1v1h-1v1h-1v-1h-1v-1h-1v-1h-1v-2h-1v-1h-1v-1h1v-1h1v-1h1v-2h1v-1h1v-1z"/><path class="r" d="M918 533h1v1h1v2h1v1h1v1h1v1h-1v1h-1v2h-1v1h-1v1h-1v-1h-1v-1h-1v-2h-1v-1h-1v-1h1v-1h1v-1h1v-2h1v-1z"/>
<path d="M928 536h1v1h1v1h1v2h1v1h1v1h1v1h-1v1h-1v2h-1v1h-1v1h-1v1h-1v-1h-1v-1h-1v-1h-1v-2h-1v-1h-1v-1h1v-1h1v-1h1v-2h1v-1h1v-1z"/><path class="r" d="M928 537h1v1h1v2h1v1h1v1h1v1h-1v1h-1v2h-1v1h-1v1h-1v-1h-1v-1h-1v-2h-1v-1h-1v-1h1v-1h1v-1h1v-2h1v-1z"/>
<path d="M937 541h1v1h1v1h1v2h1v1h1v1h1v1h-1v1h-1v2h-1v1h-1v1h-1v1h-1v-1h-1v-1h-1v-1h-1v-2h-1v-1h-1v-1h1v-1h1v-1h1v-2h1v-1h1v-1z"/><path class="r" d="M937 542h1v1h1v2h1v1h1v1h1v1h-1v1h-1v2h-1v1h-1v1h-1v-1h-1v-1h-1v-2h-1v-1h-1v-1h1v-1h1v-1h1v-2h1v-1z"/>
<path d="M906 538h1v1h1v1h1v2h1v1h1v1h1v1h-1v1h-1v2h-1v1h-1v1h-1v1h-1v-1h-1v-1h-1v-1h-1v-2h-1v-1h-1v-1h1v-1h1v-1h1v-2h1v-1h1v-1z"/><path class="r" d="M906 539h1v1h1v2h1v1h1v1h1v1h-1v1h-1v2h-1v1h-1v1h-1v-1h-1v-1h-1v-2h-1v-1h-1v-1h1v-1h1v-1h1v-2h1v-1z"/>
<path d="M958 533h1v1h1v1h1v2h1v1h1v1h1v1h-1v1h-1v2h-1v1h-1v1h-1v1h-1v-1h-1v-1h-1v-1h-1v-2h-1v-1h-1v-1h1v-1h1v-1h1v-2h1v-1h1v-1z"/><path class="b" d="M958 534h1v1h1v2h1v1h1v1h1v1h-1v1h-1v2h-1v1h-1v1h-1v-1h-1v-1h-1v-2h-1v-1h-1v-1h1v-1h1v-1h1v-2h1v-1z"/>
<path d="M963 539h1v1h1v1h1v2h1v1h1v1h1v1h-1v1h-1v2h-1v1h-1v1h-1v1h-1v-1h-1v-1h-1v-1h-1v-2h-1v-1h-1v-1h1v-1h1v-1h1v-2h1v-1h1v-1z"/><path class="b" d="M963 540h1v1h1v2h1v1h1v1h1v1h-1v1h-1v2h-1v1h-1v1h-1v-1h-1v-1h-1v-2h-1v-1h-1v-1h1v-1h1v-1h1v-2h1v-1z"/>
<path d="M967 544h1v1h1v1h1v2h1v1h1v1h1v1h-1v1h-1v2h-1v1h-1v1h-1v1h-1v-1h-1v-1h-1v-1h-1v-2h-1v-1h-1v-1h1v-1h1v-1h1v-2h1v-1h1v-1z"/><path class="r" d="M967 545h1v1h1v2h1v1h1v1h1v1h-1v1h-1v2h-1v1h-1v1h-1v-1h-1v-1h-1v-2h-1v-1h-1v-1h1v-1h1v-1h1v-2h1v-1z"/>
<path d="M956 545h1v1h1v1h1v2h1v1h1v1h1v1h-1v1h-1v2h-1v1h-1v1h-1v1h-1v-1h-1v-1h-1v-1h-1v-2h-1v-1h-1v-1h1v-1h1v-1h1v-2h1v-1h1v-1z"/><path class="r" d="M956 546h1v1h1v2h1v1h1v1h1v1h-1v1h-1v2h-1v1h-1v1h-1v-1h-1v-1h-1v-2h-1v-1h-1v-1h1v-1h1v-1h1v-2h1v-1z"/>
<path d="M966 552h1v1h1v1h1v2h1v1h1v1h1v1h-1v1h-1v2h-1v1h-1v1h-1v1h-1v-1h-1v-1h-1v-1h-1v-2h-1v-1h-1v-1h1v-1h1v-1h1v-2h1v-1h1v-1z"/><path class="r" d="M966 553h1v1h1v2h1v1h1v1h1v1h-1v1h-1v2h-1v1h-1v1h-1v-1h-1v-1h-1v-2h-1v-1h-1v-1h1v-1h1v-1h1v-2h1v-1z"/>
<path d="M771 561h1v1h1v1h1v2h1v1h1v1h1v1h-1v1h-1v2h-1v1h-1v1h-1v1h-1v-1h-1v-1h-1v-1h-1v-2h-1v-1h-1v-1h1v-1h1v-1h1v-2h1v-1h1v-1z"/><path class="b" d="M771 562h1v1h1v2h1v1h1v1h1v1h-1v1h-1v2h-1v1h-1v1h-1v-1h-1v-1h-1v-2h-1v-1h-1v-1h1v-1h1v-1h1v-2h1v-1z"/>
<path d="M768 574h1v1h1v1h1v2h1v1h1v1h1v1h-1v1h-1v2h-1v1h-1v1h-1v1h-1v-1h-1v-1h-1v-1h-1v-2h-1v-1h-1v-1h1v-1h1v-1h1v-2h1v-1h1v-1z"/><path class="r" d="M768 575h1v1h1v2h1v1h1v1h1v1h-1v1h-1v2h-1v1h-1v1h-1v-1h-1v-1h-1v-2h-1v-1h-1v-1h1v-1h1v-1h1v-2h1v-1z"/>
<path d="M791 572h1v1h1v1h1v2h1v1h1v1h1v1h-1v1h-1v2h-1v1h-1v1h-1v1h-1v-1h-1v-1h-1v-1h-1v-2h-1v-1h-1v-1h1v-1h1v-1h1v-2h1v-1h1v-1z"/><path class="r" d="M791 573h1v1h1v2h1v1h1v1h1v1h-1v1h-1v2h-1v1h-1v1h-1v-1h-1v-1h-1v-2h-1v-1h-1v-1h1v-1h1v-1h1v-2h1v-1z"/>
<path d="M804 555h1v1h1v1h1v2h1v1h1v1h1v1h-1v1h-1v2h-1v1h-1v1h-1v1h-1v-1h-1v-1h-1v-1h-1v-2h-1v-1h-1v-1h1v-1h1v-1h1v-2h1v-1h1v-1z"/><path class="b" d="M804 556h1v1h1v2h1v1h1v1h1v1h-1v1h-1v2h-1v1h-1v1h-1v-1h-1v-1h-1v-2h-1v-1h-1v-1h1v-1h1v-1h1v-2h1v-1z"/>
<path d="M830 555h1v1h1v1h1v2h1v1h1v1h1v1h-1v1h-1v2h-1v1h-1v1h-1v1h-1v-1h-1v-1h-1v-1h-1v-2h-1v-1h-1v-1h1v-1h1v-1h1v-2h1v-1h1v-1z"/><path class="r" d="M830 556h1v1h1v2h1v1h1v1h1v1h-1v1h-1v2h-1v1h-1v1h-1v-1h-1v-1h-1v-2h-1v-1h-1v-1h1v-1h1v-1h1v-2h1v-1z"/>
<path d="M835 566h1v1h1v1h1v2h1v1h1v1h1v1h-1v1h-1v2h-1v1h-1v1h-1v1h-1v-1h-1v-1h-1v-1h-1v-2h-1v-1h-1v-1h1v-1h1v-1h1v-2h1v-1h1v-1z"/><path class="b" d="M835 567h1v1h1v2h1v1h1v1h1v1h-1v1h-1v2h-1v1h-1v1h-1v-1h-1v-1h-1v-2h-1v-1h-1v-1h1v-1h1v-1h1v-2h1v-1z"/>
<path d="M838 577h1v1h1v1h1v2h1v1h1v1h1v1h-1v1h-1v2h-1v1h-1v1h-1v1h-1v-1h-1v-1h-1v-1h-1v-2h-1v-1h-1v-1h1v-1h1v-1h1v-2h1v-1h1v-1z"/><path class="b" d="M838 578h1v1h1v2h1v1h1v1h1v1h-1v1h-1v2h-1v1h-1v1h-1v-1h-1v-1h-1v-2h-1v-1h-1v-1h1v-1h1v-1h1v-2h1v-1z"/>
<path d="M850 585h1v1h1v1h1v2h1v1h1v1h1v1h-1v1h-1v2h-1v1h-1v1h-1v1h-1v-1h-1v-1h-1v-1h-1v-2h-1v-1h-1v-1h1v-1h1v-1h1v-2h1v-1h1v-1z"/><path class="r" d="M850 586h1v1h1v2h1v1h1v1h1v1h-1v1h-1v2h-1v1h-1v1h-1v-1h-1v-1h-1v-2h-1v-1h-1v-1h1v-1h1v-1h1v-2h1v-1z"/>
<path d="M866 569h1v1h1v1h1v2h1v1h1v1h1v1h-1v1h-1v2h-1v1h-1v1h-1v1h-1v-1h-1v-1h-1v-1h-1v-2h-1v-1h-1v-1h1v-1h1v-1h1v-2h1v-1h1v-1z"/><path class="r" d="M866 570h1v1h1v2h1v1h1v1h1v1h-1v1h-1v2h-1v1h-1v1h-1v-1h-1v-1h-1v-2h-1v-1h-1v-1h1v-1h1v-1h1v-2h1v-1z"/>
<path d="M871 585h1v1h1v1h1v2h1v1h1v1h1v1h-1v1h-1v2h-1v1h-1v1h-1v1h-1v-1h-1v-1h-1v-1h-1v-2h-1v-1h-1v-1h1v-1h1v-1h1v-2h1v-1h1v-1z"/><path class="r" d="M871 586h1v1h1v2h1v1h1v1h1v1h-1v1h-1v2h-1v1h-1v1h-1v-1h-1v-1h-1v-2h-1v-1h-1v-1h1v-1h1v-1h1v-2h1v-1z"/>
<path d="M795 594h1v1h1v1h1v2h1v1h1v1h1v1h-1v1h-1v2h-1v1h-1v1h-1v1h-1v-1h-1v-1h-1v-1h-1v-2h-1v-1h-1v-1h1v-1h1v-1h1v-2h1v-1h1v-1z"/><path class="b" d="M795 595h1v1h1v2h1v1h1v1h1v1h-1v1h-1v2h-1v1h-1v1h-1v-1h-1v-1h-1v-2h-1v-1h-1v-1h1v-1h1v-1h1v-2h1v-1z"/>
<path d="M820 587h1v1h1v1h1v2h1v1h1v1h1v1h-1v1h-1v2h-1v1h-1v1h-1v1h-1v-1h-1v-1h-1v-1h-1v-2h-1v-1h-1v-1h1v-1h1v-1h1v-2h1v-1h1v-1z"/><path class="r" d="M820 588h1v1h1v2h1v1h1v1h1v1h-1v1h-1v2h-1v1h-1v1h-1v-1h-1v-1h-1v-2h-1v-1h-1v-1h1v-1h1v-1h1v-2h1v-1z"/>
<path d="M841 591h1v1h1v1h1v2h1v1h1v1h1v1h-1v1h-1v2h-1v1h-1v1h-1v1h-1v-1h-1v-1h-1v-1h-1v-2h-1v-1h-1v-1h1v-1h1v-1h1v-2h1v-1h1v-1z"/><path class="b" d="M841 592h1v1h1v2h1v1h1v1h1v1h-1v1h-1v2h-1v1h-1v1h-1v-1h-1v-1h-1v-2h-1v-1h-1v-1h1v-1h1v-1h1v-2h1v-1z"/>
<path d="M845 597h1v1h1v1h1v2h1v1h1v1h1v1h-1v1h-1v2h-1v1h-1v1h-1v1h-1v-1h-1v-1h-1v-1h-1v-2h-1v-1h-1v-1h1v-1h1v-1h1v-2h1v-1h1v-1z"/><path class="b" d="M845 598h1v1h1v2h1v1h1v1h1v1h-1v1h-1v2h-1v1h-1v1h-1v-1h-1v-1h-1v-2h-1v-1h-1v-1h1v-1h1v-1h1v-2h1v-1z"/>
<path d="M810 610h1v1h1v1h1v2h1v1h1v1h1v1h-1v1h-1v2h-1v1h-1v1h-1v1h-1v-1h-1v-1h-1v-1h-1v-2h-1v-1h-1v-1h1v-1h1v-1h1v-2h1v-1h1v-1z"/><path class="b" d="M810 611h1v1h1v2h1v1h1v1h1v1h-1v1h-1v2h-1v1h-1v1h-1v-1h-1v-1h-1v-2h-1v-1h-1v-1h1v-1h1v-1h1v-2h1v-1z"/>
<path d="M821 610h1v1h1v1h1v2h1v1h1v1h1v1h-1v1h-1v2h-1v1h-1v1h-1v1h-1v-1h-1v-1h-1v-1h-1v-2h-1v-1h-1v-1h1v-1h1v-1h1v-2h1v-1h1v-1z"/><path class="r" d="M821 611h1v1h1v2h1v1h1v1h1v1h-1v1h-1v2h-1v1h-1v1h-1v-1h-1v-1h-1v-2h-1v-1h-1v-1h1v-1h1v-1h1v-2h1v-1z"/>
<path d="M844 623h1v1h1v1h1v2h1v1h1v1h1v1h-1v1h-1v2h-1v1h-1v1h-1v1h-1v-1h-1v-1h-1v-1h-1v-2h-1v-1h-1v-1h1v-1h1v-1h1v-2h1v-1h1v-1z"/><path class="b" d="M844 624h1v1h1v2h1v1h1v1h1v1h-1v1h-1v2h-1v1h-1v1h-1v-1h-1v-1h-1v-2h-1v-1h-1v-1h1v-1h1v-1h1v-2h1v-1z"/>
<path d="M865 614h1v1h1v1h1v2h1v1h1v1h1v1h-1v1h-1v2h-1v1h-1v1h-1v1h-1v-1h-1v-1h-1v-1h-1v-2h-1v-1h-1v-1h1v-1h1v-1h1v-2h1v-1h1v-1z"/><path class="r" d="M865 615h1v1h1v2h1v1h1v1h1v1h-1v1h-1v2h-1v1h-1v1h-1v-1h-1v-1h-1v-2h-1v-1h-1v-1h1v-1h1v-1h1v-2h1v-1z"/>
<path d="M860 618h1v1h1v1h1v2h1v1h1v1h1v1h-1v1h-1v2h-1v1h-1v1h-1v1h-1v-1h-1v-1h-1v-1h-1v-2h-1v-1h-1v-1h1v-1h1v-1h1v-2h1v-1h1v-1z"/><path class="b" d="M860 619h1v1h1v2h1v1h1v1h1v1h-1v1h-1v2h-1v1h-1v1h-1v-1h-1v-1h-1v-2h-1v-1h-1v-1h1v-1h1v-1h1v-2h1v-1z"/>
<path d="M868 624h1v1h1v1h1v2h1v1h1v1h1v1h-1v1h-1v2h-1v1h-1v1h-1v1h-1v-1h-1v-1h-1v-1h-1v-2h-1v-1h-1v-1h1v-1h1v-1h1v-2h1v-1h1v-1z"/><path class="r" d="M868 625h1v1h1v2h1v1h1v1h1v1h-1v1h-1v2h-1v1h-1v1h-1v-1h-1v-1h-1v-2h-1v-1h-1v-1h1v-1h1v-1h1v-2h1v-1z"/>
<path d="M854 632h1v1h1v1h1v2h1v1h1v1h1v1h-1v1h-1v2h-1v1h-1v1h-1v1h-1v-1h-1v-1h-1v-1h-1v-2h-1v-1h-1v-1h1v-1h1v-1h1v-2h1v-1h1v-1z"/><path class="r" d="M854 633h1v1h1v2h1v1h1v1h1v1h-1v1h-1v2h-1v1h-1v1h-1v-1h-1v-1h-1v-2h-1v-1h-1v-1h1v-1h1v-1h1v-2h1v-1z"/>
<path d="M857 644h1v1h1v1h1v2h1v1h1v1h1v1h-1v1h-1v2h-1v1h-1v1h-1v1h-1v-1h-1v-1h-1v-1h-1v-2h-1v-1h-1v-1h1v-1h1v-1h1v-2h1v-1h1v-1z"/><path class="r" d="M857 645h1v1h1v2h1v1h1v1h1v1h-1v1h-1v2h-1v1h-1v1h-1v-1h-1v-1h-1v-2h-1v-1h-1v-1h1v-1h1v-1h1v-2h1v-1z"/>
<path d="M890 554h1v1h1v1h1v2h1v1h1v1h1v1h-1v1h-1v2h-1v1h-1v1h-1v1h-1v-1h-1v-1h-1v-1h-1v-2h-1v-1h-1v-1h1v-1h1v-1h1v-2h1v-1h1v-1z"/><path class="b" d="M890 555h1v1h1v2h1v1h1v1h1v1h-1v1h-1v2h-1v1h-1v1h-1v-1h-1v-1h-1v-2h-1v-1h-1v-1h1v-1h1v-1h1v-2h1v-1z"/>
<path d="M910 555h1v1h1v1h1v2h1v1h1v1h1v1h-1v1h-1v2h-1v1h-1v1h-1v1h-1v-1h-1v-1h-1v-1h-1v-2h-1v-1h-1v-1h1v-1h1v-1h1v-2h1v-1h1v-1z"/><path class="r" d="M910 556h1v1h1v2h1v1h1v1h1v1h-1v1h-1v2h-1v1h-1v1h-1v-1h-1v-1h-1v-2h-1v-1h-1v-1h1v-1h1v-1h1v-2h1v-1z"/>
<path d="M884 586h1v1h1v1h1v2h1v1h1v1h1v1h-1v1h-1v2h-1v1h-1v1h-1v1h-1v-1h-1v-1h-1v-1h-1v-2h-1v-1h-1v-1h1v-1h1v-1h1v-2h1v-1h1v-1z"/><path class="b" d="M884 587h1v1h1v2h1v1h1v1h1v1h-1v1h-1v2h-1v1h-1v1h-1v-1h-1v-1h-1v-2h-1v-1h-1v-1h1v-1h1v-1h1v-2h1v-1z"/>
<path d="M907 582h1v1h1v1h1v2h1v1h1v1h1v1h-1v1h-1v2h-1v1h-1v1h-1v1h-1v-1h-1v-1h-1v-1h-1v-2h-1v-1h-1v-1h1v-1h1v-1h1v-2h1v-1h1v-1z"/><path class="r" d="M907 583h1v1h1v2h1v1h1v1h1v1h-1v1h-1v2h-1v1h-1v1h-1v-1h-1v-1h-1v-2h-1v-1h-1v-1h1v-1h1v-1h1v-2h1v-1z"/>
<path d="M890 600h1v1h1v1h1v2h1v1h1v1h1v1h-1v1h-1v2h-1v1h-1v1h-1v1h-1v-1h-1v-1h-1v-1h-1v-2h-1v-1h-1v-1h1v-1h1v-1h1v-2h1v-1h1v-1z"/><path class="r" d="M890 601h1v1h1v2h1v1h1v1h1v1h-1v1h-1v2h-1v1h-1v1h-1v-1h-1v-1h-1v-2h-1v-1h-1v-1h1v-1h1v-1h1v-2h1v-1z"/>
<path d="M908 598h1v1h1v1h1v2h1v1h1v1h1v1h-1v1h-1v2h-1v1h-1v1h-1v1h-1v-1h-1v-1h-1v-1h-1v-2h-1v-1h-1v-1h1v-1h1v-1h1v-2h1v-1h1v-1z"/><path class="b" d="M908 599h1v1h1v2h1v1h1v1h1v1h-1v1h-1v2h-1v1h-1v1h-1v-1h-1v-1h-1v-2h-1v-1h-1v-1h1v-1h1v-1h1v-2h1v-1z"/>
<path d="M948 571h1v1h1v1h1v2h1v1h1v1h1v1h-1v1h-1v2h-1v1h-1v1h-1v1h-1v-1h-1v-1h-1v-1h-1v-2h-1v-1h-1v-1h1v-1h1v-1h1v-2h1v-1h1v-1z"/><path class="r" d="M948 572h1v1h1v2h1v1h1v1h1v1h-1v1h-1v2h-1v1h-1v1h-1v-1h-1v-1h-1v-2h-1v-1h-1v-1h1v-1h1v-1h1v-2h1v-1z"/>
<path d="M964 567h1v1h1v1h1v2h1v1h1v1h1v1h-1v1h-1v2h-1v1h-1v1h-1v1h-1v-1h-1v-1h-1v-1h-1v-2h-1v-1h-1v-1h1v-1h1v-1h1v-2h1v-1h1v-1z"/><path class="b" d="M964 568h1v1h1v2h1v1h1v1h1v1h-1v1h-1v2h-1v1h-1v1h-1v-1h-1v-1h-1v-2h-1v-1h-1v-1h1v-1h1v-1h1v-2h1v-1z"/>
<path d="M972 571h1v1h1v1h1v2h1v1h1v1h1v1h-1v1h-1v2h-1v1h-1v1h-1v1h-1v-1h-1v-1h-1v-1h-1v-2h-1v-1h-1v-1h1v-1h1v-1h1v-2h1v-1h1v-1z"/><path class="b" d="M972 572h1v1h1v2h1v1h1v1h1v1h-1v1h-1v2h-1v1h-1v1h-1v-1h-1v-1h-1v-2h-1v-1h-1v-1h1v-1h1v-1h1v-2h1v-1z"/>
<path d="M956 580h1v1h1v1h1v2h1v1h1v1h1v1h-1v1h-1v2h-1v1h-1v1h-1v1h-1v-1h-1v-1h-1v-1h-1v-2h-1v-1h-1v-1h1v-1h1v-1h1v-2h1v-1h1v-1z"/><path class="r" d="M956 581h1v1h1v2h1v1h1v1h1v1h-1v1h-1v2h-1v1h-1v1h-1v-1h-1v-1h-1v-2h-1v-1h-1v-1h1v-1h1v-1h1v-2h1v-1z"/>
<path d="M942 598h1v1h1v1h1v2h1v1h1v1h1v1h-1v1h-1v2h-1v1h-1v1h-1v1h-1v-1h-1v-1h-1v-1h-1v-2h-1v-1h-1v-1h1v-1h1v-1h1v-2h1v-1h1v-1z"/><path class="b" d="M942 599h1v1h1v2h1v1h1v1h1v1h-1v1h-1v2h-1v1h-1v1h-1v-1h-1v-1h-1v-2h-1v-1h-1v-1h1v-1h1v-1h1v-2h1v-1z"/>
<path d="M929 603h1v1h1v1h1v2h1v1h1v1h1v1h-1v1h-1v2h-1v1h-1v1h-1v1h-1v-1h-1v-1h-1v-1h-1v-2h-1v-1h-1v-1h1v-1h1v-1h1v-2h1v-1h1v-1z"/><path class="b" d="M929 604h1v1h1v2h1v1h1v1h1v1h-1v1h-1v2h-1v1h-1v1h-1v-1h-1v-1h-1v-2h-1v-1h-1v-1h1v-1h1v-1h1v-2h1v-1z"/>
<path d="M941 609h1v1h1v1h1v2h1v1h1v1h1v1h-1v1h-1v2h-1v1h-1v1h-1v1h-1v-1h-1v-1h-1v-1h-1v-2h-1v-1h-1v-1h1v-1h1v-1h1v-2h1v-1h1v-1z"/><path class="b" d="M941 610h1v1h1v2h1v1h1v1h1v1h-1v1h-1v2h-1v1h-1v1h-1v-1h-1v-1h-1v-2h-1v-1h-1v-1h1v-1h1v-1h1v-2h1v-1z"/>
<path d="M976 605h1v1h1v1h1v2h1v1h1v1h1v1h-1v1h-1v2h-1v1h-1v1h-1v1h-1v-1h-1v-1h-1v-1h-1v-2h-1v-1h-1v-1h1v-1h1v-1h1v-2h1v-1h1v-1z"/><path class="r" d="M976 606h1v1h1v2h1v1h1v1h1v1h-1v1h-1v2h-1v1h-1v1h-1v-1h-1v-1h-1v-2h-1v-1h-1v-1h1v-1h1v-1h1v-2h1v-1z"/>
<path d="M960 617h1v1h1v1h1v2h1v1h1v1h1v1h-1v1h-1v2h-1v1h-1v1h-1v1h-1v-1h-1v-1h-1v-1h-1v-2h-1v-1h-1v-1h1v-1h1v-1h1v-2h1v-1h1v-1z"/><path class="b" d="M960 618h1v1h1v2h1v1h1v1h1v1h-1v1h-1v2h-1v1h-1v1h-1v-1h-1v-1h-1v-2h-1v-1h-1v-1h1v-1h1v-1h1v-2h1v-1z"/>
<path d="M926 617h1v1h1v1h1v2h1v1h1v1h1v1h-1v1h-1v2h-1v1h-1v1h-1v1h-1v-1h-1v-1h-1v-1h-1v-2h-1v-1h-1v-1h1v-1h1v-1h1v-2h1v-1h1v-1z"/><path class="r" d="M926 618h1v1h1v2h1v1h1v1h1v1h-1v1h-1v2h-1v1h-1v1h-1v-1h-1v-1h-1v-2h-1v-1h-1v-1h1v-1h1v-1h1v-2h1v-1z"/>
<path d="M933 620h1v1h1v1h1v2h1v1h1v1h1v1h-1v1h-1v2h-1v1h-1v1h-1v1h-1v-1h-1v-1h-1v-1h-1v-2h-1v-1h-1v-1h1v-1h1v-1h1v-2h1v-1h1v-1z"/><path class="r" d="M933 621h1v1h1v2h1v1h1v1h1v1h-1v1h-1v2h-1v1h-1v1h-1v-1h-1v-1h-1v-2h-1v-1h-1v-1h1v-1h1v-1h1v-2h1v-1z"/>
<path d="M936 628h1v1h1v1h1v2h1v1h1v1h1v1h-1v1h-1v2h-1v1h-1v1h-1v1h-1v-1h-1v-1h-1v-1h-1v-2h-1v-1h-1v-1h1v-1h1v-1h1v-2h1v-1h1v-1z"/><path class="r" d="M936 629h1v1h1v2h1v1h1v1h1v1h-1v1h-1v2h-1v1h-1v1h-1v-1h-1v-1h-1v-2h-1v-1h-1v-1h1v-1h1v-1h1v-2h1v-1z"/>
<path d="M929 630h1v1h1v1h1v2h1v1h1v1h1v1h-1v1h-1v2h-1v1h-1v1h-1v1h-1v-1h-1v-1h-1v-1h-1v-2h-1v-1h-1v-1h1v-1h1v-1h1v-2h1v-1h1v-1z"/><path class="b" d="M929 631h1v1h1v2h1v1h1v1h1v1h-1v1h-1v2h-1v1h-1v1h-1v-1h-1v-1h-1v-2h-1v-1h-1v-1h1v-1h1v-1h1v-2h1v-1z"/>
<path d="M902 622h1v1h1v1h1v2h1v1h1v1h1v1h-1v1h-1v2h-1v1h-1v1h-1v1h-1v-1h-1v-1h-1v-1h-1v-2h-1v-1h-1v-1h1v-1h1v-1h1v-2h1v-1h1v-1z"/><path class="r" d="M902 623h1v1h1v2h1v1h1v1h1v1h-1v1h-1v2h-1v1h-1v1h-1v-1h-1v-1h-1v-2h-1v-1h-1v-1h1v-1h1v-1h1v-2h1v-1z"/>
<path d="M900 636h1v1h1v1h1v2h1v1h1v1h1v1h-1v1h-1v2h-1v1h-1v1h-1v1h-1v-1h-1v-1h-1v-1h-1v-2h-1v-1h-1v-1h1v-1h1v-1h1v-2h1v-1h1v-1z"/><path class="b" d="M900 637h1v1h1v2h1v1h1v1h1v1h-1v1h-1v2h-1v1h-1v1h-1v-1h-1v-1h-1v-2h-1v-1h-1v-1h1v-1h1v-1h1v-2h1v-1z"/>
<path d="M947 637h1v1h1v1h1v2h1v1h1v1h1v1h-1v1h-1v2h-1v1h-1v1h-1v1h-1v-1h-1v-1h-1v-1h-1v-2h-1v-1h-1v-1h1v-1h1v-1h1v-2h1v-1h1v-1z"/><path class="r" d="M947 638h1v1h1v2h1v1h1v1h1v1h-1v1h-1v2h-1v1h-1v1h-1v-1h-1v-1h-1v-2h-1v-1h-1v-1h1v-1h1v-1h1v-2h1v-1z"/>
<path d="M930 643h1v1h1v1h1v2h1v1h1v1h1v1h-1v1h-1v2h-1v1h-1v1h-1v1h-1v-1h-1v-1h-1v-1h-1v-2h-1v-1h-1v-1h1v-1h1v-1h1v-2h1v-1h1v-1z"/><path class="r" d="M930 644h1v1h1v2h1v1h1v1h1v1h-1v1h-1v2h-1v1h-1v1h-1v-1h-1v-1h-1v-2h-1v-1h-1v-1h1v-1h1v-1h1v-2h1v-1z"/>
<path d="M939 644h1v1h1v1h1v2h1v1h1v1h1v1h-1v1h-1v2h-1v1h-1v1h-1v1h-1v-1h-1v-1h-1v-1h-1v-2h-1v-1h-1v-1h1v-1h1v-1h1v-2h1v-1h1v-1z"/><path class="r" d="M939 645h1v1h1v2h1v1h1v1h1v1h-1v1h-1v2h-1v1h-1v1h-1v-1h-1v-1h-1v-2h-1v-1h-1v-1h1v-1h1v-1h1v-2h1v-1z"/>
<path d="M867 670h1v1h1v1h1v2h1v1h1v1h1v1h-1v1h-1v2h-1v1h-1v1h-1v1h-1v-1h-1v-1h-1v-1h-1v-2h-1v-1h-1v-1h1v-1h1v-1h1v-2h1v-1h1v-1z"/><path class="r" d="M867 671h1v1h1v2h1v1h1v1h1v1h-1v1h-1v2h-1v1h-1v1h-1v-1h-1v-1h-1v-2h-1v-1h-1v-1h1v-1h1v-1h1v-2h1v-1z"/>
<path d="M900 646h1v1h1v1h1v2h1v1h1v1h1v1h-1v1h-1v2h-1v1h-1v1h-1v1h-1v-1h-1v-1h-1v-1h-1v-2h-1v-1h-1v-1h1v-1h1v-1h1v-2h1v-1h1v-1z"/><path class="r" d="M900 647h1v1h1v2h1v1h1v1h1v1h-1v1h-1v2h-1v1h-1v1h-1v-1h-1v-1h-1v-2h-1v-1h-1v-1h1v-1h1v-1h1v-2h1v-1z"/>
<path d="M917 649h1v1h1v1h1v2h1v1h1v1h1v1h-1v1h-1v2h-1v1h-1v1h-1v1h-1v-1h-1v-1h-1v-1h-1v-2h-1v-1h-1v-1h1v-1h1v-1h1v-2h1v-1h1v-1z"/><path class="b" d="M917 650h1v1h1v2h1v1h1v1h1v1h-1v1h-1v2h-1v1h-1v1h-1v-1h-1v-1h-1v-2h-1v-1h-1v-1h1v-1h1v-1h1v-2h1v-1z"/>
<path d="M950 647h1v1h1v1h1v2h1v1h1v1h1v1h-1v1h-1v2h-1v1h-1v1h-1v1h-1v-1h-1v-1h-1v-1h-1v-2h-1v-1h-1v-1h1v-1h1v-1h1v-2h1v-1h1v-1z"/><path class="r" d="M950 648h1v1h1v2h1v1h1v1h1v1h-1v1h-1v2h-1v1h-1v1h-1v-1h-1v-1h-1v-2h-1v-1h-1v-1h1v-1h1v-1h1v-2h1v-1z"/>
<path d="M912 664h1v1h1v1h1v2h1v1h1v1h1v1h-1v1h-1v2h-1v1h-1v1h-1v1h-1v-1h-1v-1h-1v-1h-1v-2h-1v-1h-1v-1h1v-1h1v-1h1v-2h1v-1h1v-1z"/><path class="b" d="M912 665h1v1h1v2h1v1h1v1h1v1h-1v1h-1v2h-1v1h-1v1h-1v-1h-1v-1h-1v-2h-1v-1h-1v-1h1v-1h1v-1h1v-2h1v-1z"/>
<path d="M916 673h1v1h1v1h1v2h1v1h1v1h1v1h-1v1h-1v2h-1v1h-1v1h-1v1h-1v-1h-1v-1h-1v-1h-1v-2h-1v-1h-1v-1h1v-1h1v-1h1v-2h1v-1h1v-1z"/><path class="b" d="M916 674h1v1h1v2h1v1h1v1h1v1h-1v1h-1v2h-1v1h-1v1h-1v-1h-1v-1h-1v-2h-1v-1h-1v-1h1v-1h1v-1h1v-2h1v-1z"/>
<path d="M934 664h1v1h1v1h1v2h1v1h1v1h1v1h-1v1h-1v2h-1v1h-1v1h-1v1h-1v-1h-1v-1h-1v-1h-1v-2h-1v-1h-1v-1h1v-1h1v-1h1v-2h1v-1h1v-1z"/><path class="b" d="M934 665h1v1h1v2h1v1h1v1h1v1h-1v1h-1v2h-1v1h-1v1h-1v-1h-1v-1h-1v-2h-1v-1h-1v-1h1v-1h1v-1h1v-2h1v-1z"/>
<path d="M943 668h1v1h1v1h1v2h1v1h1v1h1v1h-1v1h-1v2h-1v1h-1v1h-1v1h-1v-1h-1v-1h-1v-1h-1v-2h-1v-1h-1v-1h1v-1h1v-1h1v-2h1v-1h1v-1z"/><path class="b" d="M943 669h1v1h1v2h1v1h1v1h1v1h-1v1h-1v2h-1v1h-1v1h-1v-1h-1v-1h-1v-2h-1v-1h-1v-1h1v-1h1v-1h1v-2h1v-1z"/>
<path d="M970 666h1v1h1v1h1v2h1v1h1v1h1v1h-1v1h-1v2h-1v1h-1v1h-1v1h-1v-1h-1v-1h-1v-1h-1v-2h-1v-1h-1v-1h1v-1h1v-1h1v-2h1v-1h1v-1z"/><path class="b" d="M970 667h1v1h1v2h1v1h1v1h1v1h-1v1h-1v2h-1v1h-1v1h-1v-1h-1v-1h-1v-2h-1v-1h-1v-1h1v-1h1v-1h1v-2h1v-1z"/>
<path d="M979 668h1v1h1v1h1v2h1v1h1v1h1v1h-1v1h-1v2h-1v1h-1v1h-1v1h-1v-1h-1v-1h-1v-1h-1v-2h-1v-1h-1v-1h1v-1h1v-1h1v-2h1v-1h1v-1z"/><path class="r" d="M979 669h1v1h1v2h1v1h1v1h1v1h-1v1h-1v2h-1v1h-1v1h-1v-1h-1v-1h-1v-2h-1v-1h-1v-1h1v-1h1v-1h1v-2h1v-1z"/>
<path d="M972 677h1v1h1v1h1v2h1v1h1v1h1v1h-1v1h-1v2h-1v1h-1v1h-1v1h-1v-1h-1v-1h-1v-1h-1v-2h-1v-1h-1v-1h1v-1h1v-1h1v-2h1v-1h1v-1z"/><path class="r" d="M972 678h1v1h1v2h1v1h1v1h1v1h-1v1h-1v2h-1v1h-1v1h-1v-1h-1v-1h-1v-2h-1v-1h-1v-1h1v-1h1v-1h1v-2h1v-1z"/>
<path d="M962 683h1v1h1v1h1v2h1v1h1v1h1v1h-1v1h-1v2h-1v1h-1v1h-1v1h-1v-1h-1v-1h-1v-1h-1v-2h-1v-1h-1v-1h1v-1h1v-1h1v-2h1v-1h1v-1z"/><path class="b" d="M962 684h1v1h1v2h1v1h1v1h1v1h-1v1h-1v2h-1v1h-1v1h-1v-1h-1v-1h-1v-2h-1v-1h-1v-1h1v-1h1v-1h1v-2h1v-1z"/>
<path d="M922 687h1v1h1v1h1v2h1v1h1v1h1v1h-1v1h-1v2h-1v1h-1v1h-1v1h-1v-1h-1v-1h-1v-1h-1v-2h-1v-1h-1v-1h1v-1h1v-1h1v-2h1v-1h1v-1z"/><path class="b" d="M922 688h1v1h1v2h1v1h1v1h1v1h-1v1h-1v2h-1v1h-1v1h-1v-1h-1v-1h-1v-2h-1v-1h-1v-1h1v-1h1v-1h1v-2h1v-1z"/>
<path d="M921 699h1v1h1v1h1v2h1v1h1v1h1v1h-1v1h-1v2h-1v1h-1v1h-1v1h-1v-1h-1v-1h-1v-1h-1v-2h-1v-1h-1v-1h1v-1h1v-1h1v-2h1v-1h1v-1z"/><path class="b" d="M921 700h1v1h1v2h1v1h1v1h1v1h-1v1h-1v2h-1v1h-1v1h-1v-1h-1v-1h-1v-2h-1v-1h-1v-1h1v-1h1v-1h1v-2h1v-1z"/>
<path d="M945 692h1v1h1v1h1v2h1v1h1v1h1v1h-1v1h-1v2h-1v1h-1v1h-1v1h-1v-1h-1v-1h-1v-1h-1v-2h-1v-1h-1v-1h1v-1h1v-1h1v-2h1v-1h1v-1z"/><path class="b" d="M945 693h1v1h1v2h1v1h1v1h1v1h-1v1h-1v2h-1v1h-1v1h-1v-1h-1v-1h-1v-2h-1v-1h-1v-1h1v-1h1v-1h1v-2h1v-1z"/>
<path d="M906 695h1v1h1v1h1v2h1v1h1v1h1v1h-1v1h-1v2h-1v1h-1v1h-1v1h-1v-1h-1v-1h-1v-1h-1v-2h-1v-1h-1v-1h1v-1h1v-1h1v-2h1v-1h1v-1z"/><path class="r" d="M906 696h1v1h1v2h1v1h1v1h1v1h-1v1h-1v2h-1v1h-1v1h-1v-1h-1v-1h-1v-2h-1v-1h-1v-1h1v-1h1v-1h1v-2h1v-1z"/>
<path d="M898 704h1v1h1v1h1v2h1v1h1v1h1v1h-1v1h-1v2h-1v1h-1v1h-1v1h-1v-1h-1v-1h-1v-1h-1v-2h-1v-1h-1v-1h1v-1h1v-1h1v-2h1v-1h1v-1z"/><path class="r" d="M898 705h1v1h1v2h1v1h1v1h1v1h-1v1h-1v2h-1v1h-1v1h-1v-1h-1v-1h-1v-2h-1v-1h-1v-1h1v-1h1v-1h1v-2h1v-1z"/>
<path d="M902 709h1v1h1v1h1v2h1v1h1v1h1v1h-1v1h-1v2h-1v1h-1v1h-1v1h-1v-1h-1v-1h-1v-1h-1v-2h-1v-1h-1v-1h1v-1h1v-1h1v-2h1v-1h1v-1z"/><path class="r" d="M902 710h1v1h1v2h1v1h1v1h1v1h-1v1h-1v2h-1v1h-1v1h-1v-1h-1v-1h-1v-2h-1v-1h-1v-1h1v-1h1v-1h1v-2h1v-1z"/>
<path d="M950 708h1v1h1v1h1v2h1v1h1v1h1v1h-1v1h-1v2h-1v1h-1v1h-1v1h-1v-1h-1v-1h-1v-1h-1v-2h-1v-1h-1v-1h1v-1h1v-1h1v-2h1v-1h1v-1z"/><path class="r" d="M950 709h1v1h1v2h1v1h1v1h1v1h-1v1h-1v2h-1v1h-1v1h-1v-1h-1v-1h-1v-2h-1v-1h-1v-1h1v-1h1v-1h1v-2h1v-1z"/>
<path d="M961 705h1v1h1v1h1v2h1v1h1v1h1v1h-1v1h-1v2h-1v1h-1v1h-1v1h-1v-1h-1v-1h-1v-1h-1v-2h-1v-1h-1v-1h1v-1h1v-1h1v-2h1v-1h1v-1z"/><path class="b" d="M961 706h1v1h1v2h1v1h1v1h1v1h-1v1h-1v2h-1v1h-1v1h-1v-1h-1v-1h-1v-2h-1v-1h-1v-1h1v-1h1v-1h1v-2h1v-1z"/>
<path d="M974 721h1v1h1v1h1v2h1v1h1v1h1v1h-1v1h-1v2h-1v1h-1v1h-1v1h-1v-1h-1v-1h-1v-1h-1v-2h-1v-1h-1v-1h1v-1h1v-1h1v-2h1v-1h1v-1z"/><path class="b" d="M974 722h1v1h1v2h1v1h1v1h1v1h-1v1h-1v2h-1v1h-1v1h-1v-1h-1v-1h-1v-2h-1v-1h-1v-1h1v-1h1v-1h1v-2h1v-1z"/>
<path d="M982 727h1v1h1v1h1v2h1v1h1v1h1v1h-1v1h-1v2h-1v1h-1v1h-1v1h-1v-1h-1v-1h-1v-1h-1v-2h-1v-1h-1v-1h1v-1h1v-1h1v-2h1v-1h1v-1z"/><path class="b" d="M982 728h1v1h1v2h1v1h1v1h1v1h-1v1h-1v2h-1v1h-1v1h-1v-1h-1v-1h-1v-2h-1v-1h-1v-1h1v-1h1v-1h1v-2h1v-1z"/>
<path d="M926 729h1v1h1v1h1v2h1v1h1v1h1v1h-1v1h-1v2h-1v1h-1v1h-1v1h-1v-1h-1v-1h-1v-1h-1v-2h-1v-1h-1v-1h1v-1h1v-1h1v-2h1v-1h1v-1z"/><path class="b" d="M926 730h1v1h1v2h1v1h1v1h1v1h-1v1h-1v2h-1v1h-1v1h-1v-1h-1v-1h-1v-2h-1v-1h-1v-1h1v-1h1v-1h1v-2h1v-1z"/>
<path d="M934 725h1v1h1v1h1v2h1v1h1v1h1v1h-1v1h-1v2h-1v1h-1v1h-1v1h-1v-1h-1v-1h-1v-1h-1v-2h-1v-1h-1v-1h1v-1h1v-1h1v-2h1v-1h1v-1z"/><path class="b" d="M934 726h1v1h1v2h1v1h1v1h1v1h-1v1h-1v2h-1v1h-1v1h-1v-1h-1v-1h-1v-2h-1v-1h-1v-1h1v-1h1v-1h1v-2h1v-1z"/>
<path d="M940 724h1v1h1v1h1v2h1v1h1v1h1v1h-1v1h-1v2h-1v1h-1v1h-1v1h-1v-1h-1v-1h-1v-1h-1v-2h-1v-1h-1v-1h1v-1h1v-1h1v-2h1v-1h1v-1z"/><path class="b" d="M940 725h1v1h1v2h1v1h1v1h1v1h-1v1h-1v2h-1v1h-1v1h-1v-1h-1v-1h-1v-2h-1v-1h-1v-1h1v-1h1v-1h1v-2h1v-1z"/>
<path d="M937 735h1v1h1v1h1v2h1v1h1v1h1v1h-1v1h-1v2h-1v1h-1v1h-1v1h-1v-1h-1v-1h-1v-1h-1v-2h-1v-1h-1v-1h1v-1h1v-1h1v-2h1v-1h1v-1z"/><path class="r" d="M937 736h1v1h1v2h1v1h1v1h1v1h-1v1h-1v2h-1v1h-1v1h-1v-1h-1v-1h-1v-2h-1v-1h-1v-1h1v-1h1v-1h1v-2h1v-1z"/>
<path d="M948 735h1v1h1v1h1v2h1v1h1v1h1v1h-1v1h-1v2h-1v1h-1v1h-1v1h-1v-1h-1v-1h-1v-1h-1v-2h-1v-1h-1v-1h1v-1h1v-1h1v-2h1v-1h1v-1z"/><path class="r" d="M948 736h1v1h1v2h1v1h1v1h1v1h-1v1h-1v2h-1v1h-1v1h-1v-1h-1v-1h-1v-2h-1v-1h-1v-1h1v-1h1v-1h1v-2h1v-1z"/>
<path d="M961 734h1v1h1v1h1v2h1v1h1v1h1v1h-1v1h-1v2h-1v1h-1v1h-1v1h-1v-1h-1v-1h-1v-1h-1v-2h-1v-1h-1v-1h1v-1h1v-1h1v-2h1v-1h1v-1z"/><path class="b" d="M961 735h1v1h1v2h1v1h1v1h1v1h-1v1h-1v2h-1v1h-1v1h-1v-1h-1v-1h-1v-2h-1v-1h-1v-1h1v-1h1v-1h1v-2h1v-1z"/>
<path d="M956 739h1v1h1v1h1v2h1v1h1v1h1v1h-1v1h-1v2h-1v1h-1v1h-1v1h-1v-1h-1v-1h-1v-1h-1v-2h-1v-1h-1v-1h1v-1h1v-1h1v-2h1v-1h1v-1z"/><path class="b" d="M956 740h1v1h1v2h1v1h1v1h1v1h-1v1h-1v2h-1v1h-1v1h-1v-1h-1v-1h-1v-2h-1v-1h-1v-1h1v-1h1v-1h1v-2h1v-1z"/>
<path d="M975 751h1v1h1v1h1v2h1v1h1v1h1v1h-1v1h-1v2h-1v1h-1v1h-1v1h-1v-1h-1v-1h-1v-1h-1v-2h-1v-1h-1v-1h1v-1h1v-1h1v-2h1v-1h1v-1z"/><path class="b" d="M975 752h1v1h1v2h1v1h1v1h1v1h-1v1h-1v2h-1v1h-1v1h-1v-1h-1v-1h-1v-2h-1v-1h-1v-1h1v-1h1v-1h1v-2h1v-1z"/>
<path d="M980 762h1v1h1v1h1v2h1v1h1v1h1v1h-1v1h-1v2h-1v1h-1v1h-1v1h-1v-1h-1v-1h-1v-1h-1v-2h-1v-1h-1v-1h1v-1h1v-1h1v-2h1v-1h1v-1z"/><path class="b" d="M980 763h1v1h1v2h1v1h1v1h1v1h-1v1h-1v2h-1v1h-1v1h-1v-1h-1v-1h-1v-2h-1v-1h-1v-1h1v-1h1v-1h1v-2h1v-1z"/>
<path d="M973 779h1v1h1v1h1v2h1v1h1v1h1v1h-1v1h-1v2h-1v1h-1v1h-1v1h-1v-1h-1v-1h-1v-1h-1v-2h-1v-1h-1v-1h1v-1h1v-1h1v-2h1v-1h1v-1z"/><path class="r" d="M973 780h1v1h1v2h1v1h1v1h1v1h-1v1h-1v2h-1v1h-1v1h-1v-1h-1v-1h-1v-2h-1v-1h-1v-1h1v-1h1v-1h1v-2h1v-1z"/>
<path d="M803 319h1v1h1v1h1v2h1v1h1v1h1v1h-1v1h-1v2h-1v1h-1v1h-1v1h-1v-1h-1v-1h-1v-1h-1v-2h-1v-1h-1v-1h1v-1h1v-1h1v-2h1v-1h1v-1z"/><path class="r" d="M803 320h1v1h1v2h1v1h1v1h1v1h-1v1h-1v2h-1v1h-1v1h-1v-1h-1v-1h-1v-2h-1v-1h-1v-1h1v-1h1v-1h1v-2h1v-1z"/>
<path d="M809 329h1v1h1v1h1v2h1v1h1v1h1v1h-1v1h-1v2h-1v1h-1v1h-1v1h-1v-1h-1v-1h-1v-1h-1v-2h-1v-1h-1v-1h1v-1h1v-1h1v-2h1v-1h1v-1z"/><path class="r" d="M809 330h1v1h1v2h1v1h1v1h1v1h-1v1h-1v2h-1v1h-1v1h-1v-1h-1v-1h-1v-2h-1v-1h-1v-1h1v-1h1v-1h1v-2h1v-1z"/>
<path d="M845 359h1v1h1v1h1v2h1v1h1v1h1v1h-1v1h-1v2h-1v1h-1v1h-1v1h-1v-1h-1v-1h-1v-1h-1v-2h-1v-1h-1v-1h1v-1h1v-1h1v-2h1v-1h1v-1z"/><path class="b" d="M845 360h1v1h1v2h1v1h1v1h1v1h-1v1h-1v2h-1v1h-1v1h-1v-1h-1v-1h-1v-2h-1v-1h-1v-1h1v-1h1v-1h1v-2h1v-1z"/>
<path d="M899 319h1v1h1v1h1v2h1v1h1v1h1v1h-1v1h-1v2h-1v1h-1v1h-1v1h-1v-1h-1v-1h-1v-1h-1v-2h-1v-1h-1v-1h1v-1h1v-1h1v-2h1v-1h1v-1z"/><path class="r" d="M899 320h1v1h1v2h1v1h1v1h1v1h-1v1h-1v2h-1v1h-1v1h-1v-1h-1v-1h-1v-2h-1v-1h-1v-1h1v-1h1v-1h1v-2h1v-1z"/>
<path d="M477 268h1v1h1v1h1v2h1v1h1v1h1v1h-1v1h-1v2h-1v1h-1v1h-1v1h-1v-1h-1v-1h-1v-1h-1v-2h-1v-1h-1v-1h1v-1h1v-1h1v-2h1v-1h1v-1z"/><path class="r" d="M477 269h1v1h1v2h1v1h1v1h1v1h-1v1h-1v2h-1v1h-1v1h-1v-1h-1v-1h-1v-2h-1v-1h-1v-1h1v-1h1v-1h1v-2h1v-1z"/>
</g>
<g shape-rendering="crispEdges">
<rect x="701" y="405" width="41" height="10" fill="#00f"/>
<rect x="716" y="390" width="10" height="41" fill="#00f"/>
<rect x="694" y="398" width="41" height="10" fill="#f00"/>
<rect x="709" y="383" width="10" height="41" fill="#f00"/>
</g>
<g shape-rendering="crispEdges">
<line class="a" x1="254.5" y1="68" x2="254.5" y2="802"/>
<line class="a" x1="254" y1="801.5" x2="988" y2="801.5"/>
<line class="a" x1="315.5" y1="793" x2="315.5" y2="801"/>
<line class="a" x1="255" y1="739.5" x2="262" y2="739.5"/>
<line class="a" x1="376.5" y1="793" x2="376.5" y2="801"/>
<line class="a" x1="255" y1="678.5" x2="262" y2="678.5"/>
<line class="a" x1="437.5" y1="793" x2="437.5" y2="801"/>
<line class="a" x1="255" y1="617.5" x2="262" y2="617.5"/>
<line class="a" x1="498.5" y1="793" x2="498.5" y2="801"/>
<line class="a" x1="255" y1="556.5" x2="262" y2="556.5"/>
<line class="a" x1="559.5" y1="793" x2="559.5" y2="801"/>
<line class="a" x1="255" y1="495.5" x2="262" y2="495.5"/>
<line class="a" x1="621.5" y1="793" x2="621.5" y2="801"/>
<line class="a" x1="255" y1="434.5" x2="262" y2="434.5"/>
<line class="a" x1="682.5" y1="793" x2="682.5" y2="801"/>
<line class="a" x1="255" y1="373.5" x2="262" y2="373.5"/>
<line class="a" x1="743.5" y1="793" x2="743.5" y2="801"/>
<line class="a" x1="255" y1="312.5" x2="262" y2="312.5"/>
<line class="a" x1="804.5" y1="793" x2="804.5" y2="801"/>
<line class="a" x1="255" y1="251.5" x2="262" y2="251.5"/>
<line class="a" x1="865.5" y1="793" x2="865.5" y2="801"/>
<line class="a" x1="255" y1="190.5" x2="262" y2="190.5"/>
<line class="a" x1="926.5" y1="793" x2="926.5" y2="801"/>
<line class="a" x1="255" y1="129.5" x2="262" y2="129.5"/>
</g>
<text transform="translate(312.30,826.20) scale(1.000,1.030)" text-anchor="middle">-0.5</text>
<text transform="translate(247.60,746.30) scale(1.000,1.020)" text-anchor="end">-0.5</text>
<text transform="translate(373.30,826.20) scale(1.000,1.030)" text-anchor="middle">-0.4</text>
<text transform="translate(247.60,685.30) scale(1.000,1.020)" text-anchor="end">-0.4</text>
<text transform="translate(434.30,826.20) scale(1.000,1.030)" text-anchor="middle">-0.3</text>
<text transform="translate(247.60,624.30) scale(1.000,1.020)" text-anchor="end">-0.3</text>
<text transform="translate(495.30,826.20) scale(1.000,1.030)" text-anchor="middle">-0.2</text>
<text transform="translate(247.60,563.30) scale(1.000,1.020)" text-anchor="end">-0.2</text>
<text transform="translate(555.30,826.20) scale(1.000,1.030)" text-anchor="middle">-0.1</text>
<text transform="translate(245.10,502.30) scale(1.000,1.020)" text-anchor="end">-0.1</text>
<text transform="translate(620.80,826.20) scale(1.000,1.030)" text-anchor="middle">0</text>
<text transform="translate(247.60,441.30) scale(1.000,1.020)" text-anchor="end">0</text>
<text transform="translate(680.50,826.20) scale(1.000,1.030)" text-anchor="middle">0.1</text>
<text transform="translate(245.10,380.30) scale(1.000,1.020)" text-anchor="end">0.1</text>
<text transform="translate(742.50,826.20) scale(1.000,1.030)" text-anchor="middle">0.2</text>
<text transform="translate(247.60,319.30) scale(1.000,1.020)" text-anchor="end">0.2</text>
<text transform="translate(803.50,826.20) scale(1.000,1.030)" text-anchor="middle">0.3</text>
<text transform="translate(247.60,258.30) scale(1.000,1.020)" text-anchor="end">0.3</text>
<text transform="translate(864.50,826.20) scale(1.000,1.030)" text-anchor="middle">0.4</text>
<text transform="translate(247.60,197.30) scale(1.000,1.020)" text-anchor="end">0.4</text>
<text transform="translate(925.50,826.20) scale(1.000,1.030)" text-anchor="middle">0.5</text>
<text transform="translate(247.60,136.30) scale(1.000,1.020)" text-anchor="end">0.5</text>
<text transform="translate(620.20,27.00) scale(1.049,1.067)" text-anchor="middle">Terminal points for all</text>
<text transform="translate(616.70,52.00) scale(1.038,1.067)" text-anchor="middle">'b' - arial; 'r' - georgia;</text>
<text transform="translate(619.70,853.30) scale(1.075,0.990)" text-anchor="middle">b coef</text>
<text transform="translate(198.00,436.30) rotate(-90) scale(1.060,1.000)" text-anchor="middle">a coef</text>
</svg></body></html>
